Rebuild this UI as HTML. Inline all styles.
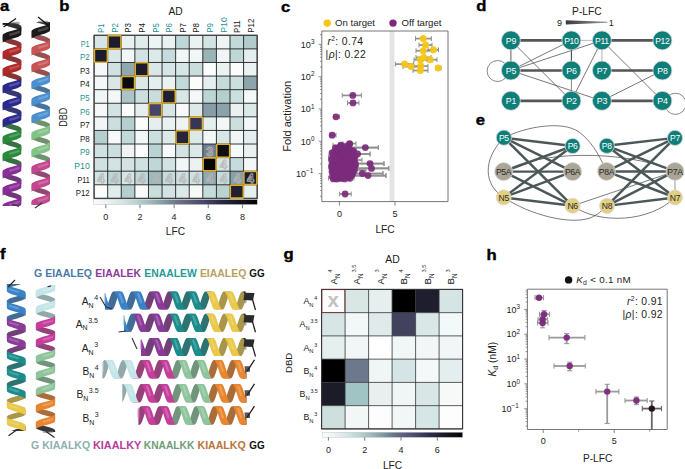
<!DOCTYPE html>
<html><head><meta charset="utf-8"><style>
html,body{margin:0;padding:0;background:#fff;width:685px;height:469px;overflow:hidden}
svg{display:block;font-family:"Liberation Sans", sans-serif}
</style></head><body>
<svg width="685" height="469" viewBox="0 0 685 469">
<text x="0" y="0" font-size="14.6" font-weight="bold" fill="#000" stroke="#000" stroke-width="0.35" transform="translate(0.10,11.10) scale(1.14,1)">a</text><text x="0" y="0" font-size="14.6" font-weight="bold" fill="#000" stroke="#000" stroke-width="0.35" transform="translate(59.30,11.10) scale(1.14,1)">b</text><text x="0" y="0" font-size="14.6" font-weight="bold" fill="#000" stroke="#000" stroke-width="0.35" transform="translate(281.10,11.70) scale(1.14,1)">c</text><text x="0" y="0" font-size="14.6" font-weight="bold" fill="#000" stroke="#000" stroke-width="0.35" transform="translate(476.20,11.00) scale(1.14,1)">d</text><text x="0" y="0" font-size="14.6" font-weight="bold" fill="#000" stroke="#000" stroke-width="0.35" transform="translate(475.80,125.30) scale(1.14,1)">e</text><text x="0" y="0" font-size="14.6" font-weight="bold" fill="#000" stroke="#000" stroke-width="0.35" transform="translate(0.10,259.30) scale(1.14,1)">f</text><text x="0" y="0" font-size="14.6" font-weight="bold" fill="#000" stroke="#000" stroke-width="0.35" transform="translate(283.60,259.30) scale(1.14,1)">g</text><text x="0" y="0" font-size="14.6" font-weight="bold" fill="#000" stroke="#000" stroke-width="0.35" transform="translate(486.50,259.70) scale(1.14,1)">h</text><path d="M2.70,23.00 L2.88,23.00 L3.41,23.00 L4.27,23.00 L5.42,23.00 L6.83,23.00 L8.44,23.00 L10.19,23.00 L12.00,23.00 L13.81,23.00 L15.56,23.31 L17.17,23.84 L18.58,24.37 L19.73,24.91 L20.59,25.44 L21.12,25.97 L21.30,26.50 L21.30,31.70 L21.12,31.17 L20.59,30.64 L19.73,30.11 L18.58,29.57 L17.17,29.04 L15.56,28.51 L13.81,27.98 L12.00,27.45 L10.19,26.92 L8.44,26.39 L6.83,25.86 L5.42,25.32 L4.27,24.79 L3.41,24.26 L2.88,23.73 L2.70,23.20Z" fill="#2e2e2e"/><path d="M2.70,35.00 L2.88,35.53 L3.41,36.06 L4.27,36.59 L5.42,37.13 L6.83,37.66 L8.44,38.19 L10.19,38.72 L12.00,39.25 L13.81,39.78 L15.56,40.31 L17.17,40.84 L18.58,41.38 L19.73,41.91 L20.59,42.44 L21.12,42.97 L21.30,43.50 L21.30,48.70 L21.12,48.17 L20.59,47.64 L19.73,47.11 L18.58,46.58 L17.17,46.04 L15.56,45.51 L13.81,44.98 L12.00,44.45 L10.19,43.92 L8.44,43.39 L6.83,42.86 L5.42,42.33 L4.27,41.79 L3.41,41.26 L2.88,40.73 L2.70,40.20Z" fill="#873636"/><path d="M2.70,52.00 L2.88,52.53 L3.41,53.06 L4.27,53.59 L5.42,54.12 L6.83,54.66 L8.44,55.19 L10.19,55.72 L12.00,56.25 L13.81,56.78 L15.56,57.31 L17.17,57.84 L18.58,58.38 L19.73,58.91 L20.59,59.44 L21.12,59.97 L21.30,60.50 L21.30,65.70 L21.12,65.17 L20.59,64.64 L19.73,64.11 L18.58,63.58 L17.17,63.04 L15.56,62.51 L13.81,61.98 L12.00,61.45 L10.19,60.92 L8.44,60.39 L6.83,59.86 L5.42,59.33 L4.27,58.79 L3.41,58.26 L2.88,57.73 L2.70,57.20Z" fill="#873636"/><path d="M2.70,69.00 L2.88,69.53 L3.41,70.06 L4.27,70.59 L5.42,71.12 L6.83,71.66 L8.44,72.19 L10.19,72.72 L12.00,73.25 L13.81,73.78 L15.56,74.31 L17.17,74.84 L18.58,75.38 L19.73,75.91 L20.59,76.44 L21.12,76.97 L21.30,77.50 L21.30,82.70 L21.12,82.17 L20.59,81.64 L19.73,81.11 L18.58,80.58 L17.17,80.04 L15.56,79.51 L13.81,78.98 L12.00,78.45 L10.19,77.92 L8.44,77.39 L6.83,76.86 L5.42,76.33 L4.27,75.79 L3.41,75.26 L2.88,74.73 L2.70,74.20Z" fill="#873636"/><path d="M2.70,86.00 L2.88,86.53 L3.41,87.06 L4.27,87.59 L5.42,88.12 L6.83,88.66 L8.44,89.19 L10.19,89.72 L12.00,90.25 L13.81,90.78 L15.56,91.31 L17.17,91.84 L18.58,92.37 L19.73,92.91 L20.59,93.44 L21.12,93.97 L21.30,94.50 L21.30,99.70 L21.12,99.17 L20.59,98.64 L19.73,98.11 L18.58,97.57 L17.17,97.04 L15.56,96.51 L13.81,95.98 L12.00,95.45 L10.19,94.92 L8.44,94.39 L6.83,93.86 L5.42,93.32 L4.27,92.79 L3.41,92.26 L2.88,91.73 L2.70,91.20Z" fill="#373773"/><path d="M2.70,103.00 L2.88,103.53 L3.41,104.06 L4.27,104.59 L5.42,105.13 L6.83,105.66 L8.44,106.19 L10.19,106.72 L12.00,107.25 L13.81,107.78 L15.56,108.31 L17.17,108.84 L18.58,109.38 L19.73,109.91 L20.59,110.44 L21.12,110.97 L21.30,111.50 L21.30,116.70 L21.12,116.17 L20.59,115.64 L19.73,115.11 L18.58,114.58 L17.17,114.04 L15.56,113.51 L13.81,112.98 L12.00,112.45 L10.19,111.92 L8.44,111.39 L6.83,110.86 L5.42,110.33 L4.27,109.79 L3.41,109.26 L2.88,108.73 L2.70,108.20Z" fill="#373773"/><path d="M2.70,120.00 L2.88,120.53 L3.41,121.06 L4.27,121.59 L5.42,122.12 L6.83,122.66 L8.44,123.19 L10.19,123.72 L12.00,124.25 L13.81,124.78 L15.56,125.31 L17.17,125.84 L18.58,126.37 L19.73,126.91 L20.59,127.44 L21.12,127.97 L21.30,128.50 L21.30,133.70 L21.12,133.17 L20.59,132.64 L19.73,132.11 L18.58,131.57 L17.17,131.04 L15.56,130.51 L13.81,129.98 L12.00,129.45 L10.19,128.92 L8.44,128.39 L6.83,127.86 L5.42,127.33 L4.27,126.79 L3.41,126.26 L2.88,125.73 L2.70,125.20Z" fill="#377042"/><path d="M2.70,137.00 L2.88,137.53 L3.41,138.06 L4.27,138.59 L5.42,139.12 L6.83,139.66 L8.44,140.19 L10.19,140.72 L12.00,141.25 L13.81,141.78 L15.56,142.31 L17.17,142.84 L18.58,143.38 L19.73,143.91 L20.59,144.44 L21.12,144.97 L21.30,145.50 L21.30,150.70 L21.12,150.17 L20.59,149.64 L19.73,149.11 L18.58,148.57 L17.17,148.04 L15.56,147.51 L13.81,146.98 L12.00,146.45 L10.19,145.92 L8.44,145.39 L6.83,144.86 L5.42,144.32 L4.27,143.79 L3.41,143.26 L2.88,142.73 L2.70,142.20Z" fill="#377042"/><path d="M2.70,154.00 L2.88,154.53 L3.41,155.06 L4.27,155.59 L5.42,156.12 L6.83,156.66 L8.44,157.19 L10.19,157.72 L12.00,158.25 L13.81,158.78 L15.56,159.31 L17.17,159.84 L18.58,160.38 L19.73,160.91 L20.59,161.44 L21.12,161.97 L21.30,162.50 L21.30,167.70 L21.12,167.17 L20.59,166.64 L19.73,166.11 L18.58,165.57 L17.17,165.04 L15.56,164.51 L13.81,163.98 L12.00,163.45 L10.19,162.92 L8.44,162.39 L6.83,161.86 L5.42,161.32 L4.27,160.79 L3.41,160.26 L2.88,159.73 L2.70,159.20Z" fill="#377042"/><path d="M2.70,171.00 L2.88,171.53 L3.41,172.06 L4.27,172.59 L5.42,173.12 L6.83,173.66 L8.44,174.19 L10.19,174.72 L12.00,175.25 L13.81,175.78 L15.56,176.31 L17.17,176.84 L18.58,177.38 L19.73,177.91 L20.59,178.44 L21.12,178.97 L21.30,179.50 L21.30,184.70 L21.12,184.17 L20.59,183.64 L19.73,183.11 L18.58,182.57 L17.17,182.04 L15.56,181.51 L13.81,180.98 L12.00,180.45 L10.19,179.92 L8.44,179.39 L6.83,178.86 L5.42,178.32 L4.27,177.79 L3.41,177.26 L2.88,176.73 L2.70,176.20Z" fill="#703879"/><path d="M2.70,188.00 L2.88,188.53 L3.41,189.06 L4.27,189.59 L5.42,190.12 L6.83,190.66 L8.44,191.19 L10.19,191.72 L12.00,192.25 L13.81,192.78 L15.56,193.31 L17.17,193.84 L18.58,194.38 L19.73,194.91 L20.59,195.44 L21.12,195.97 L21.30,196.50 L21.30,201.70 L21.12,201.17 L20.59,200.64 L19.73,200.11 L18.58,199.58 L17.17,199.04 L15.56,198.51 L13.81,197.98 L12.00,197.45 L10.19,196.92 L8.44,196.39 L6.83,195.86 L5.42,195.32 L4.27,194.79 L3.41,194.26 L2.88,193.73 L2.70,193.20Z" fill="#703879"/><path d="M2.70,205.00 L2.88,205.53 L3.41,206.00 L4.27,206.00 L5.42,206.00 L6.83,206.00 L8.44,206.00 L10.19,206.00 L12.00,206.00 L13.81,206.00 L15.56,206.00 L17.17,206.00 L18.58,206.00 L19.73,206.00 L20.59,206.00 L21.12,206.00 L21.30,206.00 L21.30,206.00 L21.12,206.00 L20.59,206.00 L19.73,206.00 L18.58,206.00 L17.17,206.00 L15.56,206.00 L13.81,206.00 L12.00,206.00 L10.19,206.00 L8.44,206.00 L6.83,206.00 L5.42,206.00 L4.27,206.00 L3.41,206.00 L2.88,206.00 L2.70,206.00Z" fill="#703879"/><path d="M21.30,23.00 L21.12,23.00 L20.59,23.00 L19.73,23.00 L18.58,23.00 L17.17,23.00 L15.56,23.00 L13.81,23.00 L12.00,23.00 L10.19,23.00 L8.44,23.00 L6.83,23.00 L5.42,23.00 L4.27,23.00 L3.41,23.00 L2.88,23.00 L2.70,23.00 L2.70,26.00 L2.88,25.47 L3.41,24.94 L4.27,24.41 L5.42,23.87 L6.83,23.34 L8.44,23.00 L10.19,23.00 L12.00,23.00 L13.81,23.00 L15.56,23.00 L17.17,23.00 L18.58,23.00 L19.73,23.00 L20.59,23.00 L21.12,23.00 L21.30,23.00Z" fill="#1b1b1b"/><polyline points="18.58,23.00 17.17,23.00 15.56,23.00 13.81,23.00 12.00,23.00 10.19,23.00" fill="none" stroke="#6b6b6b" stroke-opacity="0.55" stroke-width="2.40" stroke-linecap="round"/><path d="M21.30,26.50 L21.12,27.03 L20.59,27.56 L19.73,28.09 L18.58,28.63 L17.17,29.16 L15.56,29.69 L13.81,30.22 L12.00,30.75 L10.19,31.28 L8.44,31.81 L6.83,32.34 L5.42,32.88 L4.27,33.41 L3.41,33.94 L2.88,34.47 L2.70,35.00 L2.70,43.00 L2.88,42.47 L3.41,41.94 L4.27,41.41 L5.42,40.88 L6.83,40.34 L8.44,39.81 L10.19,39.28 L12.00,38.75 L13.81,38.22 L15.56,37.69 L17.17,37.16 L18.58,36.63 L19.73,36.09 L20.59,35.56 L21.12,35.03 L21.30,34.50Z" fill="#1b1b1b"/><polyline points="18.58,31.99 17.17,32.52 15.56,33.05 13.81,33.58 12.00,34.11 10.19,34.64" fill="none" stroke="#6b6b6b" stroke-opacity="0.55" stroke-width="2.40" stroke-linecap="round"/><path d="M21.30,43.50 L21.12,44.03 L20.59,44.56 L19.73,45.09 L18.58,45.63 L17.17,46.16 L15.56,46.69 L13.81,47.22 L12.00,47.75 L10.19,48.28 L8.44,48.81 L6.83,49.34 L5.42,49.88 L4.27,50.41 L3.41,50.94 L2.88,51.47 L2.70,52.00 L2.70,60.00 L2.88,59.47 L3.41,58.94 L4.27,58.41 L5.42,57.88 L6.83,57.34 L8.44,56.81 L10.19,56.28 L12.00,55.75 L13.81,55.22 L15.56,54.69 L17.17,54.16 L18.58,53.63 L19.73,53.09 L20.59,52.56 L21.12,52.03 L21.30,51.50Z" fill="#b02828"/><polyline points="18.58,48.99 17.17,49.52 15.56,50.05 13.81,50.58 12.00,51.11 10.19,51.64" fill="none" stroke="#cc7373" stroke-opacity="0.55" stroke-width="2.40" stroke-linecap="round"/><path d="M21.30,60.50 L21.12,61.03 L20.59,61.56 L19.73,62.09 L18.58,62.62 L17.17,63.16 L15.56,63.69 L13.81,64.22 L12.00,64.75 L10.19,65.28 L8.44,65.81 L6.83,66.34 L5.42,66.88 L4.27,67.41 L3.41,67.94 L2.88,68.47 L2.70,69.00 L2.70,77.00 L2.88,76.47 L3.41,75.94 L4.27,75.41 L5.42,74.88 L6.83,74.34 L8.44,73.81 L10.19,73.28 L12.00,72.75 L13.81,72.22 L15.56,71.69 L17.17,71.16 L18.58,70.62 L19.73,70.09 L20.59,69.56 L21.12,69.03 L21.30,68.50Z" fill="#b02828"/><polyline points="18.58,65.98 17.17,66.52 15.56,67.05 13.81,67.58 12.00,68.11 10.19,68.64" fill="none" stroke="#cc7373" stroke-opacity="0.55" stroke-width="2.40" stroke-linecap="round"/><path d="M21.30,77.50 L21.12,78.03 L20.59,78.56 L19.73,79.09 L18.58,79.62 L17.17,80.16 L15.56,80.69 L13.81,81.22 L12.00,81.75 L10.19,82.28 L8.44,82.81 L6.83,83.34 L5.42,83.88 L4.27,84.41 L3.41,84.94 L2.88,85.47 L2.70,86.00 L2.70,94.00 L2.88,93.47 L3.41,92.94 L4.27,92.41 L5.42,91.88 L6.83,91.34 L8.44,90.81 L10.19,90.28 L12.00,89.75 L13.81,89.22 L15.56,88.69 L17.17,88.16 L18.58,87.62 L19.73,87.09 L20.59,86.56 L21.12,86.03 L21.30,85.50Z" fill="#2a2a8e"/><polyline points="18.58,82.98 17.17,83.52 15.56,84.05 13.81,84.58 12.00,85.11 10.19,85.64" fill="none" stroke="#7575b6" stroke-opacity="0.55" stroke-width="2.40" stroke-linecap="round"/><path d="M21.30,94.50 L21.12,95.03 L20.59,95.56 L19.73,96.09 L18.58,96.62 L17.17,97.16 L15.56,97.69 L13.81,98.22 L12.00,98.75 L10.19,99.28 L8.44,99.81 L6.83,100.34 L5.42,100.88 L4.27,101.41 L3.41,101.94 L2.88,102.47 L2.70,103.00 L2.70,111.00 L2.88,110.47 L3.41,109.94 L4.27,109.41 L5.42,108.88 L6.83,108.34 L8.44,107.81 L10.19,107.28 L12.00,106.75 L13.81,106.22 L15.56,105.69 L17.17,105.16 L18.58,104.62 L19.73,104.09 L20.59,103.56 L21.12,103.03 L21.30,102.50Z" fill="#2a2a8e"/><polyline points="18.58,99.98 17.17,100.52 15.56,101.05 13.81,101.58 12.00,102.11 10.19,102.64" fill="none" stroke="#7575b6" stroke-opacity="0.55" stroke-width="2.40" stroke-linecap="round"/><path d="M21.30,111.50 L21.12,112.03 L20.59,112.56 L19.73,113.09 L18.58,113.62 L17.17,114.16 L15.56,114.69 L13.81,115.22 L12.00,115.75 L10.19,116.28 L8.44,116.81 L6.83,117.34 L5.42,117.88 L4.27,118.41 L3.41,118.94 L2.88,119.47 L2.70,120.00 L2.70,128.00 L2.88,127.47 L3.41,126.94 L4.27,126.41 L5.42,125.88 L6.83,125.34 L8.44,124.81 L10.19,124.28 L12.00,123.75 L13.81,123.22 L15.56,122.69 L17.17,122.16 L18.58,121.62 L19.73,121.09 L20.59,120.56 L21.12,120.03 L21.30,119.50Z" fill="#2a2a8e"/><polyline points="18.58,116.98 17.17,117.52 15.56,118.05 13.81,118.58 12.00,119.11 10.19,119.64" fill="none" stroke="#7575b6" stroke-opacity="0.55" stroke-width="2.40" stroke-linecap="round"/><path d="M21.30,128.50 L21.12,129.03 L20.59,129.56 L19.73,130.09 L18.58,130.62 L17.17,131.16 L15.56,131.69 L13.81,132.22 L12.00,132.75 L10.19,133.28 L8.44,133.81 L6.83,134.34 L5.42,134.88 L4.27,135.41 L3.41,135.94 L2.88,136.47 L2.70,137.00 L2.70,145.00 L2.88,144.47 L3.41,143.94 L4.27,143.41 L5.42,142.88 L6.83,142.34 L8.44,141.81 L10.19,141.28 L12.00,140.75 L13.81,140.22 L15.56,139.69 L17.17,139.16 L18.58,138.62 L19.73,138.09 L20.59,137.56 L21.12,137.03 L21.30,136.50Z" fill="#2a8a3c"/><polyline points="18.58,133.99 17.17,134.52 15.56,135.05 13.81,135.58 12.00,136.11 10.19,136.64" fill="none" stroke="#75b380" stroke-opacity="0.55" stroke-width="2.40" stroke-linecap="round"/><path d="M21.30,145.50 L21.12,146.03 L20.59,146.56 L19.73,147.09 L18.58,147.62 L17.17,148.16 L15.56,148.69 L13.81,149.22 L12.00,149.75 L10.19,150.28 L8.44,150.81 L6.83,151.34 L5.42,151.88 L4.27,152.41 L3.41,152.94 L2.88,153.47 L2.70,154.00 L2.70,162.00 L2.88,161.47 L3.41,160.94 L4.27,160.41 L5.42,159.88 L6.83,159.34 L8.44,158.81 L10.19,158.28 L12.00,157.75 L13.81,157.22 L15.56,156.69 L17.17,156.16 L18.58,155.62 L19.73,155.09 L20.59,154.56 L21.12,154.03 L21.30,153.50Z" fill="#2a8a3c"/><polyline points="18.58,150.99 17.17,151.52 15.56,152.05 13.81,152.58 12.00,153.11 10.19,153.64" fill="none" stroke="#75b380" stroke-opacity="0.55" stroke-width="2.40" stroke-linecap="round"/><path d="M21.30,162.50 L21.12,163.03 L20.59,163.56 L19.73,164.09 L18.58,164.62 L17.17,165.16 L15.56,165.69 L13.81,166.22 L12.00,166.75 L10.19,167.28 L8.44,167.81 L6.83,168.34 L5.42,168.88 L4.27,169.41 L3.41,169.94 L2.88,170.47 L2.70,171.00 L2.70,179.00 L2.88,178.47 L3.41,177.94 L4.27,177.41 L5.42,176.88 L6.83,176.34 L8.44,175.81 L10.19,175.28 L12.00,174.75 L13.81,174.22 L15.56,173.69 L17.17,173.16 L18.58,172.62 L19.73,172.09 L20.59,171.56 L21.12,171.03 L21.30,170.50Z" fill="#8a2c98"/><polyline points="18.58,167.99 17.17,168.52 15.56,169.05 13.81,169.58 12.00,170.11 10.19,170.64" fill="none" stroke="#b376bc" stroke-opacity="0.55" stroke-width="2.40" stroke-linecap="round"/><path d="M21.30,179.50 L21.12,180.03 L20.59,180.56 L19.73,181.09 L18.58,181.62 L17.17,182.16 L15.56,182.69 L13.81,183.22 L12.00,183.75 L10.19,184.28 L8.44,184.81 L6.83,185.34 L5.42,185.88 L4.27,186.41 L3.41,186.94 L2.88,187.47 L2.70,188.00 L2.70,196.00 L2.88,195.47 L3.41,194.94 L4.27,194.41 L5.42,193.88 L6.83,193.34 L8.44,192.81 L10.19,192.28 L12.00,191.75 L13.81,191.22 L15.56,190.69 L17.17,190.16 L18.58,189.62 L19.73,189.09 L20.59,188.56 L21.12,188.03 L21.30,187.50Z" fill="#8a2c98"/><polyline points="18.58,184.99 17.17,185.52 15.56,186.05 13.81,186.58 12.00,187.11 10.19,187.64" fill="none" stroke="#b376bc" stroke-opacity="0.55" stroke-width="2.40" stroke-linecap="round"/><path d="M21.30,196.50 L21.12,197.03 L20.59,197.56 L19.73,198.09 L18.58,198.62 L17.17,199.16 L15.56,199.69 L13.81,200.22 L12.00,200.75 L10.19,201.28 L8.44,201.81 L6.83,202.34 L5.42,202.88 L4.27,203.41 L3.41,203.94 L2.88,204.47 L2.70,205.00 L2.70,206.00 L2.88,206.00 L3.41,206.00 L4.27,206.00 L5.42,206.00 L6.83,206.00 L8.44,206.00 L10.19,206.00 L12.00,206.00 L13.81,206.00 L15.56,206.00 L17.17,206.00 L18.58,206.00 L19.73,206.00 L20.59,205.56 L21.12,205.03 L21.30,204.50Z" fill="#8a2c98"/><polyline points="18.58,201.99 17.17,202.52 15.56,203.05 13.81,203.58 12.00,204.11 10.19,204.64" fill="none" stroke="#b376bc" stroke-opacity="0.55" stroke-width="2.40" stroke-linecap="round"/><path d="M31.60,22.00 L31.78,22.00 L32.30,22.00 L33.15,22.00 L34.29,22.00 L35.69,22.00 L37.28,22.00 L39.01,22.00 L40.80,22.00 L42.59,22.00 L44.32,22.00 L45.91,22.00 L47.31,22.00 L48.45,22.00 L49.30,22.00 L49.82,22.00 L50.00,22.50 L50.00,27.70 L49.82,27.17 L49.30,26.64 L48.45,26.11 L47.31,25.57 L45.91,25.04 L44.32,24.51 L42.59,23.98 L40.80,23.45 L39.01,22.92 L37.28,22.39 L35.69,22.00 L34.29,22.00 L33.15,22.00 L32.30,22.00 L31.78,22.00 L31.60,22.00Z" fill="#2e2e2e"/><path d="M31.60,31.00 L31.78,31.53 L32.30,32.06 L33.15,32.59 L34.29,33.12 L35.69,33.66 L37.28,34.19 L39.01,34.72 L40.80,35.25 L42.59,35.78 L44.32,36.31 L45.91,36.84 L47.31,37.38 L48.45,37.91 L49.30,38.44 L49.82,38.97 L50.00,39.50 L50.00,44.70 L49.82,44.17 L49.30,43.64 L48.45,43.11 L47.31,42.58 L45.91,42.04 L44.32,41.51 L42.59,40.98 L40.80,40.45 L39.01,39.92 L37.28,39.39 L35.69,38.86 L34.29,38.33 L33.15,37.79 L32.30,37.26 L31.78,36.73 L31.60,36.20Z" fill="#965050"/><path d="M31.60,48.00 L31.78,48.53 L32.30,49.06 L33.15,49.59 L34.29,50.13 L35.69,50.66 L37.28,51.19 L39.01,51.72 L40.80,52.25 L42.59,52.78 L44.32,53.31 L45.91,53.84 L47.31,54.38 L48.45,54.91 L49.30,55.44 L49.82,55.97 L50.00,56.50 L50.00,61.70 L49.82,61.17 L49.30,60.64 L48.45,60.11 L47.31,59.58 L45.91,59.04 L44.32,58.51 L42.59,57.98 L40.80,57.45 L39.01,56.92 L37.28,56.39 L35.69,55.86 L34.29,55.33 L33.15,54.79 L32.30,54.26 L31.78,53.73 L31.60,53.20Z" fill="#965050"/><path d="M31.60,65.00 L31.78,65.53 L32.30,66.06 L33.15,66.59 L34.29,67.12 L35.69,67.66 L37.28,68.19 L39.01,68.72 L40.80,69.25 L42.59,69.78 L44.32,70.31 L45.91,70.84 L47.31,71.38 L48.45,71.91 L49.30,72.44 L49.82,72.97 L50.00,73.50 L50.00,78.70 L49.82,78.17 L49.30,77.64 L48.45,77.11 L47.31,76.58 L45.91,76.04 L44.32,75.51 L42.59,74.98 L40.80,74.45 L39.01,73.92 L37.28,73.39 L35.69,72.86 L34.29,72.33 L33.15,71.79 L32.30,71.26 L31.78,70.73 L31.60,70.20Z" fill="#965050"/><path d="M31.60,82.00 L31.78,82.53 L32.30,83.06 L33.15,83.59 L34.29,84.12 L35.69,84.66 L37.28,85.19 L39.01,85.72 L40.80,86.25 L42.59,86.78 L44.32,87.31 L45.91,87.84 L47.31,88.38 L48.45,88.91 L49.30,89.44 L49.82,89.97 L50.00,90.50 L50.00,95.70 L49.82,95.17 L49.30,94.64 L48.45,94.11 L47.31,93.58 L45.91,93.04 L44.32,92.51 L42.59,91.98 L40.80,91.45 L39.01,90.92 L37.28,90.39 L35.69,89.86 L34.29,89.33 L33.15,88.79 L32.30,88.26 L31.78,87.73 L31.60,87.20Z" fill="#4a739a"/><path d="M31.60,99.00 L31.78,99.53 L32.30,100.06 L33.15,100.59 L34.29,101.12 L35.69,101.66 L37.28,102.19 L39.01,102.72 L40.80,103.25 L42.59,103.78 L44.32,104.31 L45.91,104.84 L47.31,105.37 L48.45,105.91 L49.30,106.44 L49.82,106.97 L50.00,107.50 L50.00,112.70 L49.82,112.17 L49.30,111.64 L48.45,111.11 L47.31,110.57 L45.91,110.04 L44.32,109.51 L42.59,108.98 L40.80,108.45 L39.01,107.92 L37.28,107.39 L35.69,106.86 L34.29,106.32 L33.15,105.79 L32.30,105.26 L31.78,104.73 L31.60,104.20Z" fill="#4a739a"/><path d="M31.60,116.00 L31.78,116.53 L32.30,117.06 L33.15,117.59 L34.29,118.13 L35.69,118.66 L37.28,119.19 L39.01,119.72 L40.80,120.25 L42.59,120.78 L44.32,121.31 L45.91,121.84 L47.31,122.38 L48.45,122.91 L49.30,123.44 L49.82,123.97 L50.00,124.50 L50.00,129.70 L49.82,129.17 L49.30,128.64 L48.45,128.11 L47.31,127.58 L45.91,127.04 L44.32,126.51 L42.59,125.98 L40.80,125.45 L39.01,124.92 L37.28,124.39 L35.69,123.86 L34.29,123.33 L33.15,122.79 L32.30,122.26 L31.78,121.73 L31.60,121.20Z" fill="#6d936f"/><path d="M31.60,133.00 L31.78,133.53 L32.30,134.06 L33.15,134.59 L34.29,135.12 L35.69,135.66 L37.28,136.19 L39.01,136.72 L40.80,137.25 L42.59,137.78 L44.32,138.31 L45.91,138.84 L47.31,139.37 L48.45,139.91 L49.30,140.44 L49.82,140.97 L50.00,141.50 L50.00,146.70 L49.82,146.17 L49.30,145.64 L48.45,145.11 L47.31,144.57 L45.91,144.04 L44.32,143.51 L42.59,142.98 L40.80,142.45 L39.01,141.92 L37.28,141.39 L35.69,140.86 L34.29,140.32 L33.15,139.79 L32.30,139.26 L31.78,138.73 L31.60,138.20Z" fill="#6d936f"/><path d="M31.60,150.00 L31.78,150.53 L32.30,151.06 L33.15,151.59 L34.29,152.12 L35.69,152.66 L37.28,153.19 L39.01,153.72 L40.80,154.25 L42.59,154.78 L44.32,155.31 L45.91,155.84 L47.31,156.38 L48.45,156.91 L49.30,157.44 L49.82,157.97 L50.00,158.50 L50.00,163.70 L49.82,163.17 L49.30,162.64 L48.45,162.11 L47.31,161.57 L45.91,161.04 L44.32,160.51 L42.59,159.98 L40.80,159.45 L39.01,158.92 L37.28,158.39 L35.69,157.86 L34.29,157.32 L33.15,156.79 L32.30,156.26 L31.78,155.73 L31.60,155.20Z" fill="#6d936f"/><path d="M31.60,167.00 L31.78,167.53 L32.30,168.06 L33.15,168.59 L34.29,169.12 L35.69,169.66 L37.28,170.19 L39.01,170.72 L40.80,171.25 L42.59,171.78 L44.32,172.31 L45.91,172.84 L47.31,173.38 L48.45,173.91 L49.30,174.44 L49.82,174.97 L50.00,175.50 L50.00,180.70 L49.82,180.17 L49.30,179.64 L48.45,179.11 L47.31,178.57 L45.91,178.04 L44.32,177.51 L42.59,176.98 L40.80,176.45 L39.01,175.92 L37.28,175.39 L35.69,174.86 L34.29,174.32 L33.15,173.79 L32.30,173.26 L31.78,172.73 L31.60,172.20Z" fill="#924873"/><path d="M31.60,184.00 L31.78,184.53 L32.30,185.06 L33.15,185.59 L34.29,186.12 L35.69,186.66 L37.28,187.19 L39.01,187.72 L40.80,188.25 L42.59,188.78 L44.32,189.31 L45.91,189.84 L47.31,190.38 L48.45,190.91 L49.30,191.44 L49.82,191.97 L50.00,192.50 L50.00,197.70 L49.82,197.17 L49.30,196.64 L48.45,196.11 L47.31,195.57 L45.91,195.04 L44.32,194.51 L42.59,193.98 L40.80,193.45 L39.01,192.92 L37.28,192.39 L35.69,191.86 L34.29,191.32 L33.15,190.79 L32.30,190.26 L31.78,189.73 L31.60,189.20Z" fill="#924873"/><path d="M31.60,201.00 L31.78,201.53 L32.30,202.06 L33.15,202.59 L34.29,203.12 L35.69,203.66 L37.28,204.19 L39.01,204.72 L40.80,205.00 L42.59,205.00 L44.32,205.00 L45.91,205.00 L47.31,205.00 L48.45,205.00 L49.30,205.00 L49.82,205.00 L50.00,205.00 L50.00,205.00 L49.82,205.00 L49.30,205.00 L48.45,205.00 L47.31,205.00 L45.91,205.00 L44.32,205.00 L42.59,205.00 L40.80,205.00 L39.01,205.00 L37.28,205.00 L35.69,205.00 L34.29,205.00 L33.15,205.00 L32.30,205.00 L31.78,205.00 L31.60,205.00Z" fill="#924873"/><path d="M50.00,22.00 L49.82,22.00 L49.30,22.00 L48.45,22.00 L47.31,22.00 L45.91,22.00 L44.32,22.00 L42.59,22.00 L40.80,22.00 L39.01,22.00 L37.28,22.00 L35.69,22.00 L34.29,22.00 L33.15,22.00 L32.30,22.00 L31.78,22.00 L31.60,22.00 L31.60,22.00 L31.78,22.00 L32.30,22.00 L33.15,22.00 L34.29,22.00 L35.69,22.00 L37.28,22.00 L39.01,22.00 L40.80,22.00 L42.59,22.00 L44.32,22.00 L45.91,22.00 L47.31,22.00 L48.45,22.00 L49.30,22.00 L49.82,22.00 L50.00,22.00Z" fill="#1b1b1b"/><polyline points="47.31,22.00 45.91,22.00 44.32,22.00 42.59,22.00 40.80,22.00 39.01,22.00" fill="none" stroke="#6b6b6b" stroke-opacity="0.55" stroke-width="2.40" stroke-linecap="round"/><path d="M50.00,22.50 L49.82,23.03 L49.30,23.56 L48.45,24.09 L47.31,24.62 L45.91,25.16 L44.32,25.69 L42.59,26.22 L40.80,26.75 L39.01,27.28 L37.28,27.81 L35.69,28.34 L34.29,28.87 L33.15,29.41 L32.30,29.94 L31.78,30.47 L31.60,31.00 L31.60,39.00 L31.78,38.47 L32.30,37.94 L33.15,37.41 L34.29,36.88 L35.69,36.34 L37.28,35.81 L39.01,35.28 L40.80,34.75 L42.59,34.22 L44.32,33.69 L45.91,33.16 L47.31,32.62 L48.45,32.09 L49.30,31.56 L49.82,31.03 L50.00,30.50Z" fill="#1b1b1b"/><polyline points="47.31,27.98 45.91,28.52 44.32,29.05 42.59,29.58 40.80,30.11 39.01,30.64" fill="none" stroke="#6b6b6b" stroke-opacity="0.55" stroke-width="2.40" stroke-linecap="round"/><path d="M50.00,39.50 L49.82,40.03 L49.30,40.56 L48.45,41.09 L47.31,41.63 L45.91,42.16 L44.32,42.69 L42.59,43.22 L40.80,43.75 L39.01,44.28 L37.28,44.81 L35.69,45.34 L34.29,45.88 L33.15,46.41 L32.30,46.94 L31.78,47.47 L31.60,48.00 L31.60,56.00 L31.78,55.47 L32.30,54.94 L33.15,54.41 L34.29,53.88 L35.69,53.34 L37.28,52.81 L39.01,52.28 L40.80,51.75 L42.59,51.22 L44.32,50.69 L45.91,50.16 L47.31,49.63 L48.45,49.09 L49.30,48.56 L49.82,48.03 L50.00,47.50Z" fill="#c85454"/><polyline points="47.31,44.99 45.91,45.52 44.32,46.05 42.59,46.58 40.80,47.11 39.01,47.64" fill="none" stroke="#db9090" stroke-opacity="0.55" stroke-width="2.40" stroke-linecap="round"/><path d="M50.00,56.50 L49.82,57.03 L49.30,57.56 L48.45,58.09 L47.31,58.63 L45.91,59.16 L44.32,59.69 L42.59,60.22 L40.80,60.75 L39.01,61.28 L37.28,61.81 L35.69,62.34 L34.29,62.88 L33.15,63.41 L32.30,63.94 L31.78,64.47 L31.60,65.00 L31.60,73.00 L31.78,72.47 L32.30,71.94 L33.15,71.41 L34.29,70.88 L35.69,70.34 L37.28,69.81 L39.01,69.28 L40.80,68.75 L42.59,68.22 L44.32,67.69 L45.91,67.16 L47.31,66.62 L48.45,66.09 L49.30,65.56 L49.82,65.03 L50.00,64.50Z" fill="#c85454"/><polyline points="47.31,61.99 45.91,62.52 44.32,63.05 42.59,63.58 40.80,64.11 39.01,64.64" fill="none" stroke="#db9090" stroke-opacity="0.55" stroke-width="2.40" stroke-linecap="round"/><path d="M50.00,73.50 L49.82,74.03 L49.30,74.56 L48.45,75.09 L47.31,75.62 L45.91,76.16 L44.32,76.69 L42.59,77.22 L40.80,77.75 L39.01,78.28 L37.28,78.81 L35.69,79.34 L34.29,79.88 L33.15,80.41 L32.30,80.94 L31.78,81.47 L31.60,82.00 L31.60,90.00 L31.78,89.47 L32.30,88.94 L33.15,88.41 L34.29,87.88 L35.69,87.34 L37.28,86.81 L39.01,86.28 L40.80,85.75 L42.59,85.22 L44.32,84.69 L45.91,84.16 L47.31,83.62 L48.45,83.09 L49.30,82.56 L49.82,82.03 L50.00,81.50Z" fill="#4a8fd0"/><polyline points="47.31,78.98 45.91,79.52 44.32,80.05 42.59,80.58 40.80,81.11 39.01,81.64" fill="none" stroke="#89b6e0" stroke-opacity="0.55" stroke-width="2.40" stroke-linecap="round"/><path d="M50.00,90.50 L49.82,91.03 L49.30,91.56 L48.45,92.09 L47.31,92.62 L45.91,93.16 L44.32,93.69 L42.59,94.22 L40.80,94.75 L39.01,95.28 L37.28,95.81 L35.69,96.34 L34.29,96.88 L33.15,97.41 L32.30,97.94 L31.78,98.47 L31.60,99.00 L31.60,107.00 L31.78,106.47 L32.30,105.94 L33.15,105.41 L34.29,104.88 L35.69,104.34 L37.28,103.81 L39.01,103.28 L40.80,102.75 L42.59,102.22 L44.32,101.69 L45.91,101.16 L47.31,100.62 L48.45,100.09 L49.30,99.56 L49.82,99.03 L50.00,98.50Z" fill="#4a8fd0"/><polyline points="47.31,95.98 45.91,96.52 44.32,97.05 42.59,97.58 40.80,98.11 39.01,98.64" fill="none" stroke="#89b6e0" stroke-opacity="0.55" stroke-width="2.40" stroke-linecap="round"/><path d="M50.00,107.50 L49.82,108.03 L49.30,108.56 L48.45,109.09 L47.31,109.62 L45.91,110.16 L44.32,110.69 L42.59,111.22 L40.80,111.75 L39.01,112.28 L37.28,112.81 L35.69,113.34 L34.29,113.88 L33.15,114.41 L32.30,114.94 L31.78,115.47 L31.60,116.00 L31.60,124.00 L31.78,123.47 L32.30,122.94 L33.15,122.41 L34.29,121.88 L35.69,121.34 L37.28,120.81 L39.01,120.28 L40.80,119.75 L42.59,119.22 L44.32,118.69 L45.91,118.16 L47.31,117.62 L48.45,117.09 L49.30,116.56 L49.82,116.03 L50.00,115.50Z" fill="#4a8fd0"/><polyline points="47.31,112.98 45.91,113.52 44.32,114.05 42.59,114.58 40.80,115.11 39.01,115.64" fill="none" stroke="#89b6e0" stroke-opacity="0.55" stroke-width="2.40" stroke-linecap="round"/><path d="M50.00,124.50 L49.82,125.03 L49.30,125.56 L48.45,126.09 L47.31,126.62 L45.91,127.16 L44.32,127.69 L42.59,128.22 L40.80,128.75 L39.01,129.28 L37.28,129.81 L35.69,130.34 L34.29,130.88 L33.15,131.41 L32.30,131.94 L31.78,132.47 L31.60,133.00 L31.60,141.00 L31.78,140.47 L32.30,139.94 L33.15,139.41 L34.29,138.88 L35.69,138.34 L37.28,137.81 L39.01,137.28 L40.80,136.75 L42.59,136.22 L44.32,135.69 L45.91,135.16 L47.31,134.62 L48.45,134.09 L49.30,133.56 L49.82,133.03 L50.00,132.50Z" fill="#84c388"/><polyline points="47.31,129.99 45.91,130.52 44.32,131.05 42.59,131.58 40.80,132.11 39.01,132.64" fill="none" stroke="#afd8b2" stroke-opacity="0.55" stroke-width="2.40" stroke-linecap="round"/><path d="M50.00,141.50 L49.82,142.03 L49.30,142.56 L48.45,143.09 L47.31,143.62 L45.91,144.16 L44.32,144.69 L42.59,145.22 L40.80,145.75 L39.01,146.28 L37.28,146.81 L35.69,147.34 L34.29,147.88 L33.15,148.41 L32.30,148.94 L31.78,149.47 L31.60,150.00 L31.60,158.00 L31.78,157.47 L32.30,156.94 L33.15,156.41 L34.29,155.88 L35.69,155.34 L37.28,154.81 L39.01,154.28 L40.80,153.75 L42.59,153.22 L44.32,152.69 L45.91,152.16 L47.31,151.62 L48.45,151.09 L49.30,150.56 L49.82,150.03 L50.00,149.50Z" fill="#84c388"/><polyline points="47.31,146.99 45.91,147.52 44.32,148.05 42.59,148.58 40.80,149.11 39.01,149.64" fill="none" stroke="#afd8b2" stroke-opacity="0.55" stroke-width="2.40" stroke-linecap="round"/><path d="M50.00,158.50 L49.82,159.03 L49.30,159.56 L48.45,160.09 L47.31,160.62 L45.91,161.16 L44.32,161.69 L42.59,162.22 L40.80,162.75 L39.01,163.28 L37.28,163.81 L35.69,164.34 L34.29,164.88 L33.15,165.41 L32.30,165.94 L31.78,166.47 L31.60,167.00 L31.60,175.00 L31.78,174.47 L32.30,173.94 L33.15,173.41 L34.29,172.88 L35.69,172.34 L37.28,171.81 L39.01,171.28 L40.80,170.75 L42.59,170.22 L44.32,169.69 L45.91,169.16 L47.31,168.62 L48.45,168.09 L49.30,167.56 L49.82,167.03 L50.00,166.50Z" fill="#c2478f"/><polyline points="47.31,163.99 45.91,164.52 44.32,165.05 42.59,165.58 40.80,166.11 39.01,166.64" fill="none" stroke="#d787b6" stroke-opacity="0.55" stroke-width="2.40" stroke-linecap="round"/><path d="M50.00,175.50 L49.82,176.03 L49.30,176.56 L48.45,177.09 L47.31,177.62 L45.91,178.16 L44.32,178.69 L42.59,179.22 L40.80,179.75 L39.01,180.28 L37.28,180.81 L35.69,181.34 L34.29,181.88 L33.15,182.41 L32.30,182.94 L31.78,183.47 L31.60,184.00 L31.60,192.00 L31.78,191.47 L32.30,190.94 L33.15,190.41 L34.29,189.88 L35.69,189.34 L37.28,188.81 L39.01,188.28 L40.80,187.75 L42.59,187.22 L44.32,186.69 L45.91,186.16 L47.31,185.62 L48.45,185.09 L49.30,184.56 L49.82,184.03 L50.00,183.50Z" fill="#c2478f"/><polyline points="47.31,180.99 45.91,181.52 44.32,182.05 42.59,182.58 40.80,183.11 39.01,183.64" fill="none" stroke="#d787b6" stroke-opacity="0.55" stroke-width="2.40" stroke-linecap="round"/><path d="M50.00,192.50 L49.82,193.03 L49.30,193.56 L48.45,194.09 L47.31,194.62 L45.91,195.16 L44.32,195.69 L42.59,196.22 L40.80,196.75 L39.01,197.28 L37.28,197.81 L35.69,198.34 L34.29,198.88 L33.15,199.41 L32.30,199.94 L31.78,200.47 L31.60,201.00 L31.60,205.00 L31.78,205.00 L32.30,205.00 L33.15,205.00 L34.29,205.00 L35.69,205.00 L37.28,205.00 L39.01,205.00 L40.80,204.75 L42.59,204.22 L44.32,203.69 L45.91,203.16 L47.31,202.62 L48.45,202.09 L49.30,201.56 L49.82,201.03 L50.00,200.50Z" fill="#c2478f"/><polyline points="47.31,197.99 45.91,198.52 44.32,199.05 42.59,199.58 40.80,200.11 39.01,200.64" fill="none" stroke="#d787b6" stroke-opacity="0.55" stroke-width="2.40" stroke-linecap="round"/><path d="M3.5,27 L16,18.5" stroke="#111" stroke-width="1.2" fill="none"/><path d="M38,17 L48,25" stroke="#111" stroke-width="1.2" fill="none"/><path d="M12,204 L19,206.5" stroke="#333" stroke-width="1.2" fill="none"/><path d="M35,208 L42,203" stroke="#333" stroke-width="1.2" fill="none"/><rect x="94.10" y="35.30" width="13.64" height="13.64" fill="#d6e5e5"/><rect x="107.69" y="35.30" width="13.64" height="13.64" fill="#1c1c2c"/><rect x="121.28" y="35.30" width="13.64" height="13.64" fill="#e9f1f1"/><rect x="134.87" y="35.30" width="13.64" height="13.64" fill="#e1ecec"/><rect x="148.46" y="35.30" width="13.64" height="13.64" fill="#eef4f4"/><rect x="162.05" y="35.30" width="13.64" height="13.64" fill="#ebf2f2"/><rect x="175.64" y="35.30" width="13.64" height="13.64" fill="#bfd7d7"/><rect x="189.23" y="35.30" width="13.64" height="13.64" fill="#ebf2f2"/><rect x="202.82" y="35.30" width="13.64" height="13.64" fill="#d3e3e3"/><rect x="216.41" y="35.30" width="13.64" height="13.64" fill="#eef4f4"/><rect x="230.00" y="35.30" width="13.64" height="13.64" fill="#c2d9d9"/><rect x="243.59" y="35.30" width="13.64" height="13.64" fill="#b2cccc"/><rect x="94.10" y="48.89" width="13.64" height="13.64" fill="#1c1c2c"/><rect x="107.69" y="48.89" width="13.64" height="13.64" fill="#d9e7e7"/><rect x="121.28" y="48.89" width="13.64" height="13.64" fill="#f1f6f6"/><rect x="134.87" y="48.89" width="13.64" height="13.64" fill="#d3e3e3"/><rect x="148.46" y="48.89" width="13.64" height="13.64" fill="#dce9e9"/><rect x="162.05" y="48.89" width="13.64" height="13.64" fill="#c6dbdb"/><rect x="175.64" y="48.89" width="13.64" height="13.64" fill="#f0f5f5"/><rect x="189.23" y="48.89" width="13.64" height="13.64" fill="#f1f6f6"/><rect x="202.82" y="48.89" width="13.64" height="13.64" fill="#9ab5b8"/><rect x="216.41" y="48.89" width="13.64" height="13.64" fill="#f0f5f5"/><rect x="230.00" y="48.89" width="13.64" height="13.64" fill="#bfd7d7"/><rect x="243.59" y="48.89" width="13.64" height="13.64" fill="#e4eeee"/><rect x="94.10" y="62.48" width="13.64" height="13.64" fill="#f4f8f8"/><rect x="107.69" y="62.48" width="13.64" height="13.64" fill="#cfe1e1"/><rect x="121.28" y="62.48" width="13.64" height="13.64" fill="#90a9af"/><rect x="134.87" y="62.48" width="13.64" height="13.64" fill="#1c1c2c"/><rect x="148.46" y="62.48" width="13.64" height="13.64" fill="#d9e7e7"/><rect x="162.05" y="62.48" width="13.64" height="13.64" fill="#d6e5e5"/><rect x="175.64" y="62.48" width="13.64" height="13.64" fill="#d6e5e5"/><rect x="189.23" y="62.48" width="13.64" height="13.64" fill="#c9dddd"/><rect x="202.82" y="62.48" width="13.64" height="13.64" fill="#fbfcfc"/><rect x="216.41" y="62.48" width="13.64" height="13.64" fill="#ebf2f2"/><rect x="230.00" y="62.48" width="13.64" height="13.64" fill="#fbfcfc"/><rect x="243.59" y="62.48" width="13.64" height="13.64" fill="#ebf2f2"/><rect x="94.10" y="76.07" width="13.64" height="13.64" fill="#f3f7f7"/><rect x="107.69" y="76.07" width="13.64" height="13.64" fill="#d9e7e7"/><rect x="121.28" y="76.07" width="13.64" height="13.64" fill="#0a0a0f"/><rect x="134.87" y="76.07" width="13.64" height="13.64" fill="#dce9e9"/><rect x="148.46" y="76.07" width="13.64" height="13.64" fill="#e6efef"/><rect x="162.05" y="76.07" width="13.64" height="13.64" fill="#ebf2f2"/><rect x="175.64" y="76.07" width="13.64" height="13.64" fill="#c2d9d9"/><rect x="189.23" y="76.07" width="13.64" height="13.64" fill="#fbfcfc"/><rect x="202.82" y="76.07" width="13.64" height="13.64" fill="#e6efef"/><rect x="216.41" y="76.07" width="13.64" height="13.64" fill="#c6dbdb"/><rect x="230.00" y="76.07" width="13.64" height="13.64" fill="#ccdfdf"/><rect x="243.59" y="76.07" width="13.64" height="13.64" fill="#8ca4ac"/><rect x="94.10" y="89.66" width="13.64" height="13.64" fill="#f0f5f5"/><rect x="107.69" y="89.66" width="13.64" height="13.64" fill="#f3f7f7"/><rect x="121.28" y="89.66" width="13.64" height="13.64" fill="#abc5c7"/><rect x="134.87" y="89.66" width="13.64" height="13.64" fill="#ccdfdf"/><rect x="148.46" y="89.66" width="13.64" height="13.64" fill="#c9dddd"/><rect x="162.05" y="89.66" width="13.64" height="13.64" fill="#202033"/><rect x="175.64" y="89.66" width="13.64" height="13.64" fill="#d9e7e7"/><rect x="189.23" y="89.66" width="13.64" height="13.64" fill="#f4f8f8"/><rect x="202.82" y="89.66" width="13.64" height="13.64" fill="#bcd5d5"/><rect x="216.41" y="89.66" width="13.64" height="13.64" fill="#b5cfcf"/><rect x="230.00" y="89.66" width="13.64" height="13.64" fill="#ccdfdf"/><rect x="243.59" y="89.66" width="13.64" height="13.64" fill="#f4f8f8"/><rect x="94.10" y="103.25" width="13.64" height="13.64" fill="#f4f8f8"/><rect x="107.69" y="103.25" width="13.64" height="13.64" fill="#d3e3e3"/><rect x="121.28" y="103.25" width="13.64" height="13.64" fill="#fbfcfc"/><rect x="134.87" y="103.25" width="13.64" height="13.64" fill="#e6efef"/><rect x="148.46" y="103.25" width="13.64" height="13.64" fill="#45446a"/><rect x="162.05" y="103.25" width="13.64" height="13.64" fill="#d6e5e5"/><rect x="175.64" y="103.25" width="13.64" height="13.64" fill="#f8fafa"/><rect x="189.23" y="103.25" width="13.64" height="13.64" fill="#deeaea"/><rect x="202.82" y="103.25" width="13.64" height="13.64" fill="#869ca6"/><rect x="216.41" y="103.25" width="13.64" height="13.64" fill="#8ba2aa"/><rect x="230.00" y="103.25" width="13.64" height="13.64" fill="#e9f1f1"/><rect x="243.59" y="103.25" width="13.64" height="13.64" fill="#dce9e9"/><rect x="94.10" y="116.84" width="13.64" height="13.64" fill="#f0f5f5"/><rect x="107.69" y="116.84" width="13.64" height="13.64" fill="#ccdfdf"/><rect x="121.28" y="116.84" width="13.64" height="13.64" fill="#b5cfcf"/><rect x="134.87" y="116.84" width="13.64" height="13.64" fill="#fbfcfc"/><rect x="148.46" y="116.84" width="13.64" height="13.64" fill="#e6efef"/><rect x="162.05" y="116.84" width="13.64" height="13.64" fill="#e9f1f1"/><rect x="175.64" y="116.84" width="13.64" height="13.64" fill="#eef4f4"/><rect x="189.23" y="116.84" width="13.64" height="13.64" fill="#373655"/><rect x="202.82" y="116.84" width="13.64" height="13.64" fill="#e4eeee"/><rect x="216.41" y="116.84" width="13.64" height="13.64" fill="#f3f7f7"/><rect x="230.00" y="116.84" width="13.64" height="13.64" fill="#ccdfdf"/><rect x="243.59" y="116.84" width="13.64" height="13.64" fill="#f3f7f7"/><rect x="94.10" y="130.43" width="13.64" height="13.64" fill="#b5cfcf"/><rect x="107.69" y="130.43" width="13.64" height="13.64" fill="#f8fafa"/><rect x="121.28" y="130.43" width="13.64" height="13.64" fill="#c2d9d9"/><rect x="134.87" y="130.43" width="13.64" height="13.64" fill="#f3f7f7"/><rect x="148.46" y="130.43" width="13.64" height="13.64" fill="#ccdfdf"/><rect x="162.05" y="130.43" width="13.64" height="13.64" fill="#deeaea"/><rect x="175.64" y="130.43" width="13.64" height="13.64" fill="#26253c"/><rect x="189.23" y="130.43" width="13.64" height="13.64" fill="#dce9e9"/><rect x="202.82" y="130.43" width="13.64" height="13.64" fill="#f3f7f7"/><rect x="216.41" y="130.43" width="13.64" height="13.64" fill="#d6e5e5"/><rect x="230.00" y="130.43" width="13.64" height="13.64" fill="#f0f5f5"/><rect x="243.59" y="130.43" width="13.64" height="13.64" fill="#e4eeee"/><rect x="94.10" y="144.02" width="13.64" height="13.64" fill="#cfe1e1"/><rect x="107.69" y="144.02" width="13.64" height="13.64" fill="#ccdfdf"/><rect x="121.28" y="144.02" width="13.64" height="13.64" fill="#eef4f4"/><rect x="134.87" y="144.02" width="13.64" height="13.64" fill="#fbfcfc"/><rect x="148.46" y="144.02" width="13.64" height="13.64" fill="#b9d2d2"/><rect x="162.05" y="144.02" width="13.64" height="13.64" fill="#f8fafa"/><rect x="175.64" y="144.02" width="13.64" height="13.64" fill="#d3e3e3"/><rect x="189.23" y="144.02" width="13.64" height="13.64" fill="#dce9e9"/><rect x="202.82" y="144.02" width="13.64" height="13.64" fill="#728092"/><rect x="216.41" y="144.02" width="13.64" height="13.64" fill="#0e0e15"/><rect x="230.00" y="144.02" width="13.64" height="13.64" fill="#f6f9f9"/><rect x="243.59" y="144.02" width="13.64" height="13.64" fill="#e9f1f1"/><rect x="94.10" y="157.61" width="13.64" height="13.64" fill="#cfe1e1"/><rect x="107.69" y="157.61" width="13.64" height="13.64" fill="#d3e3e3"/><rect x="121.28" y="157.61" width="13.64" height="13.64" fill="#d3e3e3"/><rect x="134.87" y="157.61" width="13.64" height="13.64" fill="#cfe1e1"/><rect x="148.46" y="157.61" width="13.64" height="13.64" fill="#bfd7d7"/><rect x="162.05" y="157.61" width="13.64" height="13.64" fill="#d3e3e3"/><rect x="175.64" y="157.61" width="13.64" height="13.64" fill="#f1f6f6"/><rect x="189.23" y="157.61" width="13.64" height="13.64" fill="#ebf2f2"/><rect x="202.82" y="157.61" width="13.64" height="13.64" fill="#060607"/><rect x="216.41" y="157.61" width="13.64" height="13.64" fill="#d6e5e5"/><rect x="230.00" y="157.61" width="13.64" height="13.64" fill="#c6dbdb"/><rect x="243.59" y="157.61" width="13.64" height="13.64" fill="#f3f7f7"/><rect x="94.10" y="171.20" width="13.64" height="13.64" fill="#d3e3e3"/><rect x="107.69" y="171.20" width="13.64" height="13.64" fill="#bcd5d5"/><rect x="121.28" y="171.20" width="13.64" height="13.64" fill="#d6e5e5"/><rect x="134.87" y="171.20" width="13.64" height="13.64" fill="#bfd7d7"/><rect x="148.46" y="171.20" width="13.64" height="13.64" fill="#9db9bb"/><rect x="162.05" y="171.20" width="13.64" height="13.64" fill="#c6dbdb"/><rect x="175.64" y="171.20" width="13.64" height="13.64" fill="#ccdfdf"/><rect x="189.23" y="171.20" width="13.64" height="13.64" fill="#cfe1e1"/><rect x="202.82" y="171.20" width="13.64" height="13.64" fill="#90a9af"/><rect x="216.41" y="171.20" width="13.64" height="13.64" fill="#c6dbdb"/><rect x="230.00" y="171.20" width="13.64" height="13.64" fill="#89a0a9"/><rect x="243.59" y="171.20" width="13.64" height="13.64" fill="#1c1c2c"/><rect x="94.10" y="184.79" width="13.64" height="13.64" fill="#fbfcfc"/><rect x="107.69" y="184.79" width="13.64" height="13.64" fill="#e1ecec"/><rect x="121.28" y="184.79" width="13.64" height="13.64" fill="#b5cfcf"/><rect x="134.87" y="184.79" width="13.64" height="13.64" fill="#f9fbfb"/><rect x="148.46" y="184.79" width="13.64" height="13.64" fill="#c9dddd"/><rect x="162.05" y="184.79" width="13.64" height="13.64" fill="#d3e3e3"/><rect x="175.64" y="184.79" width="13.64" height="13.64" fill="#dce9e9"/><rect x="189.23" y="184.79" width="13.64" height="13.64" fill="#f8fafa"/><rect x="202.82" y="184.79" width="13.64" height="13.64" fill="#c6dbdb"/><rect x="216.41" y="184.79" width="13.64" height="13.64" fill="#b9d2d2"/><rect x="230.00" y="184.79" width="13.64" height="13.64" fill="#202033"/><rect x="243.59" y="184.79" width="13.64" height="13.64" fill="#e6efef"/><line x1="94.10" y1="35.30" x2="94.10" y2="198.38" stroke="#1e1e1e" stroke-width="0.9"/><line x1="94.10" y1="35.30" x2="257.18" y2="35.30" stroke="#1e1e1e" stroke-width="0.9"/><line x1="107.69" y1="35.30" x2="107.69" y2="198.38" stroke="#1e1e1e" stroke-width="0.9"/><line x1="94.10" y1="48.89" x2="257.18" y2="48.89" stroke="#1e1e1e" stroke-width="0.9"/><line x1="121.28" y1="35.30" x2="121.28" y2="198.38" stroke="#1e1e1e" stroke-width="0.9"/><line x1="94.10" y1="62.48" x2="257.18" y2="62.48" stroke="#1e1e1e" stroke-width="0.9"/><line x1="134.87" y1="35.30" x2="134.87" y2="198.38" stroke="#1e1e1e" stroke-width="0.9"/><line x1="94.10" y1="76.07" x2="257.18" y2="76.07" stroke="#1e1e1e" stroke-width="0.9"/><line x1="148.46" y1="35.30" x2="148.46" y2="198.38" stroke="#1e1e1e" stroke-width="0.9"/><line x1="94.10" y1="89.66" x2="257.18" y2="89.66" stroke="#1e1e1e" stroke-width="0.9"/><line x1="162.05" y1="35.30" x2="162.05" y2="198.38" stroke="#1e1e1e" stroke-width="0.9"/><line x1="94.10" y1="103.25" x2="257.18" y2="103.25" stroke="#1e1e1e" stroke-width="0.9"/><line x1="175.64" y1="35.30" x2="175.64" y2="198.38" stroke="#1e1e1e" stroke-width="0.9"/><line x1="94.10" y1="116.84" x2="257.18" y2="116.84" stroke="#1e1e1e" stroke-width="0.9"/><line x1="189.23" y1="35.30" x2="189.23" y2="198.38" stroke="#1e1e1e" stroke-width="0.9"/><line x1="94.10" y1="130.43" x2="257.18" y2="130.43" stroke="#1e1e1e" stroke-width="0.9"/><line x1="202.82" y1="35.30" x2="202.82" y2="198.38" stroke="#1e1e1e" stroke-width="0.9"/><line x1="94.10" y1="144.02" x2="257.18" y2="144.02" stroke="#1e1e1e" stroke-width="0.9"/><line x1="216.41" y1="35.30" x2="216.41" y2="198.38" stroke="#1e1e1e" stroke-width="0.9"/><line x1="94.10" y1="157.61" x2="257.18" y2="157.61" stroke="#1e1e1e" stroke-width="0.9"/><line x1="230.00" y1="35.30" x2="230.00" y2="198.38" stroke="#1e1e1e" stroke-width="0.9"/><line x1="94.10" y1="171.20" x2="257.18" y2="171.20" stroke="#1e1e1e" stroke-width="0.9"/><line x1="243.59" y1="35.30" x2="243.59" y2="198.38" stroke="#1e1e1e" stroke-width="0.9"/><line x1="94.10" y1="184.79" x2="257.18" y2="184.79" stroke="#1e1e1e" stroke-width="0.9"/><line x1="257.18" y1="35.30" x2="257.18" y2="198.38" stroke="#1e1e1e" stroke-width="0.9"/><line x1="94.10" y1="198.38" x2="257.18" y2="198.38" stroke="#1e1e1e" stroke-width="0.9"/><rect x="94.10" y="35.30" width="163.08" height="163.08" fill="none" stroke="#444" stroke-width="1.1"/><text x="101.09" y="182.99" font-size="12.6" font-weight="bold" text-anchor="middle" fill="none" stroke="#b6b6b6" stroke-width="0.8">4</text><text x="114.69" y="182.99" font-size="12.6" font-weight="bold" text-anchor="middle" fill="none" stroke="#b6b6b6" stroke-width="0.8">4</text><text x="128.27" y="182.99" font-size="12.6" font-weight="bold" text-anchor="middle" fill="none" stroke="#b6b6b6" stroke-width="0.8">4</text><text x="141.86" y="182.99" font-size="12.6" font-weight="bold" text-anchor="middle" fill="none" stroke="#b6b6b6" stroke-width="0.8">4</text><text x="155.45" y="182.99" font-size="12.6" font-weight="bold" text-anchor="middle" fill="none" stroke="#b6b6b6" stroke-width="0.8">4</text><text x="169.04" y="182.99" font-size="12.6" font-weight="bold" text-anchor="middle" fill="none" stroke="#b6b6b6" stroke-width="0.8">4</text><text x="182.63" y="182.99" font-size="12.6" font-weight="bold" text-anchor="middle" fill="none" stroke="#b6b6b6" stroke-width="0.8">4</text><text x="196.22" y="182.99" font-size="12.6" font-weight="bold" text-anchor="middle" fill="none" stroke="#b6b6b6" stroke-width="0.8">4</text><text x="209.81" y="182.99" font-size="12.6" font-weight="bold" text-anchor="middle" fill="none" stroke="#b6b6b6" stroke-width="0.8">4</text><text x="223.40" y="182.99" font-size="12.6" font-weight="bold" text-anchor="middle" fill="none" stroke="#b6b6b6" stroke-width="0.8">4</text><text x="236.99" y="182.99" font-size="12.6" font-weight="bold" text-anchor="middle" fill="none" stroke="#b6b6b6" stroke-width="0.8">4</text><text x="250.58" y="182.99" font-size="12.6" font-weight="bold" text-anchor="middle" fill="none" stroke="#b6b6b6" stroke-width="0.8">4</text><text x="223.40" y="169.41" font-size="12.6" font-weight="bold" text-anchor="middle" fill="none" stroke="#b6b6b6" stroke-width="0.8">4</text><text x="209.81" y="155.81" font-size="12.6" font-weight="bold" text-anchor="middle" fill="none" stroke="#b6b6b6" stroke-width="0.8">3</text><rect x="107.99" y="35.60" width="12.99" height="12.99" rx="0.8" fill="none" stroke="#dcae30" stroke-width="1.6"/><rect x="94.40" y="49.19" width="12.99" height="12.99" rx="0.8" fill="none" stroke="#dcae30" stroke-width="1.6"/><rect x="135.17" y="62.78" width="12.99" height="12.99" rx="0.8" fill="none" stroke="#dcae30" stroke-width="1.6"/><rect x="121.58" y="76.37" width="12.99" height="12.99" rx="0.8" fill="none" stroke="#dcae30" stroke-width="1.6"/><rect x="162.35" y="89.96" width="12.99" height="12.99" rx="0.8" fill="none" stroke="#dcae30" stroke-width="1.6"/><rect x="148.76" y="103.55" width="12.99" height="12.99" rx="0.8" fill="none" stroke="#dcae30" stroke-width="1.6"/><rect x="189.53" y="117.14" width="12.99" height="12.99" rx="0.8" fill="none" stroke="#dcae30" stroke-width="1.6"/><rect x="175.94" y="130.73" width="12.99" height="12.99" rx="0.8" fill="none" stroke="#dcae30" stroke-width="1.6"/><rect x="216.71" y="144.32" width="12.99" height="12.99" rx="0.8" fill="none" stroke="#dcae30" stroke-width="1.6"/><rect x="203.12" y="157.91" width="12.99" height="12.99" rx="0.8" fill="none" stroke="#dcae30" stroke-width="1.6"/><rect x="243.89" y="171.50" width="12.99" height="12.99" rx="0.8" fill="none" stroke="#dcae30" stroke-width="1.6"/><rect x="230.30" y="185.09" width="12.99" height="12.99" rx="0.8" fill="none" stroke="#dcae30" stroke-width="1.6"/><text x="0" y="0" font-size="9.4" fill="#1f9192" textLength="9.0" lengthAdjust="spacingAndGlyphs" transform="translate(104.30,32.7) rotate(-90)">P1</text><text x="0" y="0" font-size="9.4" fill="#1f9192" textLength="9.7" lengthAdjust="spacingAndGlyphs" transform="translate(117.89,32.7) rotate(-90)">P2</text><text x="0" y="0" font-size="9.4" fill="#1a1a1a" textLength="9.7" lengthAdjust="spacingAndGlyphs" transform="translate(131.47,32.7) rotate(-90)">P3</text><text x="0" y="0" font-size="9.4" fill="#1a1a1a" textLength="9.7" lengthAdjust="spacingAndGlyphs" transform="translate(145.06,32.7) rotate(-90)">P4</text><text x="0" y="0" font-size="9.4" fill="#1f9192" textLength="9.7" lengthAdjust="spacingAndGlyphs" transform="translate(158.65,32.7) rotate(-90)">P5</text><text x="0" y="0" font-size="9.4" fill="#1f9192" textLength="9.7" lengthAdjust="spacingAndGlyphs" transform="translate(172.25,32.7) rotate(-90)">P6</text><text x="0" y="0" font-size="9.4" fill="#1a1a1a" textLength="9.7" lengthAdjust="spacingAndGlyphs" transform="translate(185.83,32.7) rotate(-90)">P7</text><text x="0" y="0" font-size="9.4" fill="#1a1a1a" textLength="9.7" lengthAdjust="spacingAndGlyphs" transform="translate(199.42,32.7) rotate(-90)">P8</text><text x="0" y="0" font-size="9.4" fill="#1f9192" textLength="9.7" lengthAdjust="spacingAndGlyphs" transform="translate(213.01,32.7) rotate(-90)">P9</text><text x="0" y="0" font-size="9.4" fill="#1f9192" textLength="15.4" lengthAdjust="spacingAndGlyphs" transform="translate(226.60,32.7) rotate(-90)">P10</text><text x="0" y="0" font-size="9.4" fill="#1a1a1a" textLength="12.2" lengthAdjust="spacingAndGlyphs" transform="translate(240.19,32.7) rotate(-90)">P11</text><text x="0" y="0" font-size="9.4" fill="#1a1a1a" textLength="14.0" lengthAdjust="spacingAndGlyphs" transform="translate(253.78,32.7) rotate(-90)">P12</text><text x="80.70" y="46.70" font-size="9.5" fill="#1f9192" textLength="9.0" lengthAdjust="spacingAndGlyphs">P1</text><text x="80.00" y="60.29" font-size="9.5" fill="#1f9192" textLength="9.7" lengthAdjust="spacingAndGlyphs">P2</text><text x="80.00" y="73.87" font-size="9.5" fill="#1a1a1a" textLength="9.7" lengthAdjust="spacingAndGlyphs">P3</text><text x="80.00" y="87.46" font-size="9.5" fill="#1a1a1a" textLength="9.7" lengthAdjust="spacingAndGlyphs">P4</text><text x="80.00" y="101.05" font-size="9.5" fill="#1f9192" textLength="9.7" lengthAdjust="spacingAndGlyphs">P5</text><text x="80.00" y="114.64" font-size="9.5" fill="#1f9192" textLength="9.7" lengthAdjust="spacingAndGlyphs">P6</text><text x="80.00" y="128.23" font-size="9.5" fill="#1a1a1a" textLength="9.7" lengthAdjust="spacingAndGlyphs">P7</text><text x="80.00" y="141.82" font-size="9.5" fill="#1a1a1a" textLength="9.7" lengthAdjust="spacingAndGlyphs">P8</text><text x="80.00" y="155.41" font-size="9.5" fill="#1f9192" textLength="9.7" lengthAdjust="spacingAndGlyphs">P9</text><text x="74.30" y="169.00" font-size="9.5" fill="#1f9192" textLength="15.4" lengthAdjust="spacingAndGlyphs">P10</text><text x="77.50" y="182.59" font-size="9.5" fill="#1a1a1a" textLength="12.2" lengthAdjust="spacingAndGlyphs">P11</text><text x="75.70" y="196.19" font-size="9.5" fill="#1a1a1a" textLength="14.0" lengthAdjust="spacingAndGlyphs">P12</text><text x="175.60" y="14.60" font-size="10.2" text-anchor="middle" fill="#1a1a1a" font-weight="normal" >AD</text><text x="0" y="0" font-size="10.2" fill="#1a1a1a" text-anchor="middle" textLength="19" lengthAdjust="spacingAndGlyphs" transform="translate(67.2,117.2) rotate(-90)">DBD</text><defs><linearGradient id="cbB" x1="0" x2="1" y1="0" y2="0"><stop offset="0.000" stop-color="#fbfcfc"/><stop offset="0.077" stop-color="#eef4f4"/><stop offset="0.160" stop-color="#d9e7e7"/><stop offset="0.254" stop-color="#bcd5d5"/><stop offset="0.348" stop-color="#9db9bb"/><stop offset="0.442" stop-color="#7f94a0"/><stop offset="0.504" stop-color="#6c768b"/><stop offset="0.588" stop-color="#5a5d7c"/><stop offset="0.681" stop-color="#45446a"/><stop offset="0.775" stop-color="#2c2b45"/><stop offset="0.900" stop-color="#141420"/><stop offset="1.000" stop-color="#040404"/></linearGradient></defs><rect x="93.2" y="199.6" width="164.0" height="4.900000000000006" fill="url(#cbB)" stroke="#bbb" stroke-width="0.4"/><line x1="105.80" y1="204.5" x2="105.80" y2="208.2" stroke="#555" stroke-width="0.8"/><text x="105.80" y="219.60" font-size="9.0" text-anchor="middle" fill="#222" font-weight="normal" >0</text><line x1="139.96" y1="204.5" x2="139.96" y2="208.2" stroke="#555" stroke-width="0.8"/><text x="139.96" y="219.60" font-size="9.0" text-anchor="middle" fill="#222" font-weight="normal" >2</text><line x1="174.12" y1="204.5" x2="174.12" y2="208.2" stroke="#555" stroke-width="0.8"/><text x="174.12" y="219.60" font-size="9.0" text-anchor="middle" fill="#222" font-weight="normal" >4</text><line x1="208.28" y1="204.5" x2="208.28" y2="208.2" stroke="#555" stroke-width="0.8"/><text x="208.28" y="219.60" font-size="9.0" text-anchor="middle" fill="#222" font-weight="normal" >6</text><line x1="242.44" y1="204.5" x2="242.44" y2="208.2" stroke="#555" stroke-width="0.8"/><text x="242.44" y="219.60" font-size="9.0" text-anchor="middle" fill="#222" font-weight="normal" >8</text><text x="175.40" y="235.30" font-size="10.2" text-anchor="middle" fill="#222" font-weight="normal" >LFC</text><rect x="389.6" y="31.0" width="4.8" height="170.6" fill="#e3e3e3"/><path d="M321.8,31.0 L448.0,31.0 L448.0,201.6 L321.8,201.6 Z" fill="none" stroke="#777" stroke-width="1.0"/><line x1="320.00" y1="196.18" x2="321.8" y2="196.18" stroke="#666" stroke-width="0.7"/><line x1="320.00" y1="190.49" x2="321.8" y2="190.49" stroke="#666" stroke-width="0.7"/><line x1="320.00" y1="186.45" x2="321.8" y2="186.45" stroke="#666" stroke-width="0.7"/><line x1="320.00" y1="183.32" x2="321.8" y2="183.32" stroke="#666" stroke-width="0.7"/><line x1="320.00" y1="180.77" x2="321.8" y2="180.77" stroke="#666" stroke-width="0.7"/><line x1="320.00" y1="178.60" x2="321.8" y2="178.60" stroke="#666" stroke-width="0.7"/><line x1="320.00" y1="176.73" x2="321.8" y2="176.73" stroke="#666" stroke-width="0.7"/><line x1="320.00" y1="175.08" x2="321.8" y2="175.08" stroke="#666" stroke-width="0.7"/><line x1="318.60" y1="173.60" x2="321.8" y2="173.60" stroke="#666" stroke-width="0.7"/><line x1="320.00" y1="163.88" x2="321.8" y2="163.88" stroke="#666" stroke-width="0.7"/><line x1="320.00" y1="158.19" x2="321.8" y2="158.19" stroke="#666" stroke-width="0.7"/><line x1="320.00" y1="154.15" x2="321.8" y2="154.15" stroke="#666" stroke-width="0.7"/><line x1="320.00" y1="151.02" x2="321.8" y2="151.02" stroke="#666" stroke-width="0.7"/><line x1="320.00" y1="148.47" x2="321.8" y2="148.47" stroke="#666" stroke-width="0.7"/><line x1="320.00" y1="146.30" x2="321.8" y2="146.30" stroke="#666" stroke-width="0.7"/><line x1="320.00" y1="144.43" x2="321.8" y2="144.43" stroke="#666" stroke-width="0.7"/><line x1="320.00" y1="142.78" x2="321.8" y2="142.78" stroke="#666" stroke-width="0.7"/><line x1="318.60" y1="141.30" x2="321.8" y2="141.30" stroke="#666" stroke-width="0.7"/><line x1="320.00" y1="131.58" x2="321.8" y2="131.58" stroke="#666" stroke-width="0.7"/><line x1="320.00" y1="125.89" x2="321.8" y2="125.89" stroke="#666" stroke-width="0.7"/><line x1="320.00" y1="121.85" x2="321.8" y2="121.85" stroke="#666" stroke-width="0.7"/><line x1="320.00" y1="118.72" x2="321.8" y2="118.72" stroke="#666" stroke-width="0.7"/><line x1="320.00" y1="116.17" x2="321.8" y2="116.17" stroke="#666" stroke-width="0.7"/><line x1="320.00" y1="114.00" x2="321.8" y2="114.00" stroke="#666" stroke-width="0.7"/><line x1="320.00" y1="112.13" x2="321.8" y2="112.13" stroke="#666" stroke-width="0.7"/><line x1="320.00" y1="110.48" x2="321.8" y2="110.48" stroke="#666" stroke-width="0.7"/><line x1="318.60" y1="109.00" x2="321.8" y2="109.00" stroke="#666" stroke-width="0.7"/><line x1="320.00" y1="99.28" x2="321.8" y2="99.28" stroke="#666" stroke-width="0.7"/><line x1="320.00" y1="93.59" x2="321.8" y2="93.59" stroke="#666" stroke-width="0.7"/><line x1="320.00" y1="89.55" x2="321.8" y2="89.55" stroke="#666" stroke-width="0.7"/><line x1="320.00" y1="86.42" x2="321.8" y2="86.42" stroke="#666" stroke-width="0.7"/><line x1="320.00" y1="83.87" x2="321.8" y2="83.87" stroke="#666" stroke-width="0.7"/><line x1="320.00" y1="81.70" x2="321.8" y2="81.70" stroke="#666" stroke-width="0.7"/><line x1="320.00" y1="79.83" x2="321.8" y2="79.83" stroke="#666" stroke-width="0.7"/><line x1="320.00" y1="78.18" x2="321.8" y2="78.18" stroke="#666" stroke-width="0.7"/><line x1="318.60" y1="76.70" x2="321.8" y2="76.70" stroke="#666" stroke-width="0.7"/><line x1="320.00" y1="66.98" x2="321.8" y2="66.98" stroke="#666" stroke-width="0.7"/><line x1="320.00" y1="61.29" x2="321.8" y2="61.29" stroke="#666" stroke-width="0.7"/><line x1="320.00" y1="57.25" x2="321.8" y2="57.25" stroke="#666" stroke-width="0.7"/><line x1="320.00" y1="54.12" x2="321.8" y2="54.12" stroke="#666" stroke-width="0.7"/><line x1="320.00" y1="51.57" x2="321.8" y2="51.57" stroke="#666" stroke-width="0.7"/><line x1="320.00" y1="49.40" x2="321.8" y2="49.40" stroke="#666" stroke-width="0.7"/><line x1="320.00" y1="47.53" x2="321.8" y2="47.53" stroke="#666" stroke-width="0.7"/><line x1="320.00" y1="45.88" x2="321.8" y2="45.88" stroke="#666" stroke-width="0.7"/><line x1="318.60" y1="44.40" x2="321.8" y2="44.40" stroke="#666" stroke-width="0.7"/><line x1="320.00" y1="34.68" x2="321.8" y2="34.68" stroke="#666" stroke-width="0.7"/><text x="314.40" y="47.60" font-size="9.0" text-anchor="end" fill="#222" font-weight="normal" >10<tspan font-size="6.3" dy="-3.5">3</tspan></text><text x="314.40" y="79.90" font-size="9.0" text-anchor="end" fill="#222" font-weight="normal" >10<tspan font-size="6.3" dy="-3.5">2</tspan></text><text x="314.40" y="112.20" font-size="9.0" text-anchor="end" fill="#222" font-weight="normal" >10<tspan font-size="6.3" dy="-3.5">1</tspan></text><text x="314.40" y="144.50" font-size="9.0" text-anchor="end" fill="#222" font-weight="normal" >10<tspan font-size="6.3" dy="-3.5">0</tspan></text><text x="313.20" y="176.80" font-size="9.0" text-anchor="end" fill="#222" font-weight="normal" >10<tspan font-size="6.3" dy="-3.5">&#8722;1</tspan></text><line x1="339.40" y1="201.6" x2="339.40" y2="205.6" stroke="#666" stroke-width="0.8"/><text x="339.40" y="216.70" font-size="9.0" text-anchor="middle" fill="#222" font-weight="normal" >0</text><line x1="395.00" y1="201.6" x2="395.00" y2="205.6" stroke="#666" stroke-width="0.8"/><text x="395.00" y="216.70" font-size="9.0" text-anchor="middle" fill="#222" font-weight="normal" >5</text><text x="385.00" y="232.80" font-size="10.2" text-anchor="middle" fill="#222" font-weight="normal" >LFC</text><text x="0" y="0" font-size="11" fill="#222" text-anchor="middle" transform="translate(291.2,116.3) rotate(-90)">Fold activation</text><text x="327.4" y="44.8" font-size="10.4" fill="#222" letter-spacing="0.35"><tspan font-style="italic">r</tspan><tspan font-size="6.8" dy="-3.9">2</tspan><tspan dy="3.9">: 0.74</tspan></text><text x="325.6" y="57.6" font-size="10.4" fill="#222" letter-spacing="0.35">|<tspan font-style="italic">ρ</tspan>|: 0.22</text><circle cx="327.2" cy="23.1" r="3.7" fill="#f6c515"/><text x="335.00" y="26.30" font-size="9.6" text-anchor="start" fill="#222" font-weight="normal" >On target</text><circle cx="393.0" cy="23.1" r="3.7" fill="#7b2a7c"/><text x="401.60" y="26.30" font-size="9.6" text-anchor="start" fill="#222" font-weight="normal" >Off target</text><line x1="350.00" y1="147.60" x2="378.40" y2="147.60" stroke="#8f8f8f" stroke-width="1.7"/><line x1="350.00" y1="145.20" x2="350.00" y2="150.00" stroke="#8f8f8f" stroke-width="1.0"/><line x1="378.40" y1="145.20" x2="378.40" y2="150.00" stroke="#8f8f8f" stroke-width="1.0"/><line x1="345.00" y1="154.00" x2="370.00" y2="154.00" stroke="#8f8f8f" stroke-width="1.7"/><line x1="345.00" y1="151.60" x2="345.00" y2="156.40" stroke="#8f8f8f" stroke-width="1.0"/><line x1="370.00" y1="151.60" x2="370.00" y2="156.40" stroke="#8f8f8f" stroke-width="1.0"/><line x1="352.00" y1="163.60" x2="384.00" y2="163.60" stroke="#8f8f8f" stroke-width="1.7"/><line x1="352.00" y1="161.20" x2="352.00" y2="166.00" stroke="#8f8f8f" stroke-width="1.0"/><line x1="384.00" y1="161.20" x2="384.00" y2="166.00" stroke="#8f8f8f" stroke-width="1.0"/><line x1="352.00" y1="168.40" x2="388.80" y2="168.40" stroke="#8f8f8f" stroke-width="1.7"/><line x1="352.00" y1="166.00" x2="352.00" y2="170.80" stroke="#8f8f8f" stroke-width="1.0"/><line x1="388.80" y1="166.00" x2="388.80" y2="170.80" stroke="#8f8f8f" stroke-width="1.0"/><line x1="348.00" y1="173.50" x2="383.00" y2="173.50" stroke="#8f8f8f" stroke-width="1.7"/><line x1="348.00" y1="171.10" x2="348.00" y2="175.90" stroke="#8f8f8f" stroke-width="1.0"/><line x1="383.00" y1="171.10" x2="383.00" y2="175.90" stroke="#8f8f8f" stroke-width="1.0"/><line x1="350.00" y1="175.60" x2="386.00" y2="175.60" stroke="#8f8f8f" stroke-width="1.7"/><line x1="350.00" y1="173.20" x2="350.00" y2="178.00" stroke="#8f8f8f" stroke-width="1.0"/><line x1="386.00" y1="173.20" x2="386.00" y2="178.00" stroke="#8f8f8f" stroke-width="1.0"/><line x1="340.00" y1="160.00" x2="362.00" y2="160.00" stroke="#8f8f8f" stroke-width="1.7"/><line x1="340.00" y1="157.60" x2="340.00" y2="162.40" stroke="#8f8f8f" stroke-width="1.0"/><line x1="362.00" y1="157.60" x2="362.00" y2="162.40" stroke="#8f8f8f" stroke-width="1.0"/><line x1="330.00" y1="170.00" x2="366.00" y2="170.00" stroke="#8f8f8f" stroke-width="1.7"/><line x1="330.00" y1="167.60" x2="330.00" y2="172.40" stroke="#8f8f8f" stroke-width="1.0"/><line x1="366.00" y1="167.60" x2="366.00" y2="172.40" stroke="#8f8f8f" stroke-width="1.0"/><line x1="328.50" y1="178.00" x2="354.00" y2="178.00" stroke="#8f8f8f" stroke-width="1.7"/><line x1="328.50" y1="175.60" x2="328.50" y2="180.40" stroke="#8f8f8f" stroke-width="1.0"/><line x1="354.00" y1="175.60" x2="354.00" y2="180.40" stroke="#8f8f8f" stroke-width="1.0"/><line x1="334.00" y1="150.00" x2="356.00" y2="150.00" stroke="#8f8f8f" stroke-width="1.7"/><line x1="334.00" y1="147.60" x2="334.00" y2="152.40" stroke="#8f8f8f" stroke-width="1.0"/><line x1="356.00" y1="147.60" x2="356.00" y2="152.40" stroke="#8f8f8f" stroke-width="1.0"/><line x1="328.50" y1="157.00" x2="350.00" y2="157.00" stroke="#8f8f8f" stroke-width="1.7"/><line x1="328.50" y1="154.60" x2="328.50" y2="159.40" stroke="#8f8f8f" stroke-width="1.0"/><line x1="350.00" y1="154.60" x2="350.00" y2="159.40" stroke="#8f8f8f" stroke-width="1.0"/><line x1="329.00" y1="165.00" x2="358.00" y2="165.00" stroke="#8f8f8f" stroke-width="1.7"/><line x1="329.00" y1="162.60" x2="329.00" y2="167.40" stroke="#8f8f8f" stroke-width="1.0"/><line x1="358.00" y1="162.60" x2="358.00" y2="167.40" stroke="#8f8f8f" stroke-width="1.0"/><line x1="415.50" y1="38.60" x2="431.40" y2="38.60" stroke="#8f8f8f" stroke-width="1.7"/><line x1="415.50" y1="36.20" x2="415.50" y2="41.00" stroke="#8f8f8f" stroke-width="1.0"/><line x1="431.40" y1="36.20" x2="431.40" y2="41.00" stroke="#8f8f8f" stroke-width="1.0"/><line x1="419.00" y1="45.00" x2="432.00" y2="45.00" stroke="#8f8f8f" stroke-width="1.7"/><line x1="419.00" y1="42.60" x2="419.00" y2="47.40" stroke="#8f8f8f" stroke-width="1.0"/><line x1="432.00" y1="42.60" x2="432.00" y2="47.40" stroke="#8f8f8f" stroke-width="1.0"/><line x1="416.00" y1="50.70" x2="432.00" y2="50.70" stroke="#8f8f8f" stroke-width="1.7"/><line x1="416.00" y1="48.30" x2="416.00" y2="53.10" stroke="#8f8f8f" stroke-width="1.0"/><line x1="432.00" y1="48.30" x2="432.00" y2="53.10" stroke="#8f8f8f" stroke-width="1.0"/><line x1="428.00" y1="49.80" x2="438.50" y2="49.80" stroke="#8f8f8f" stroke-width="1.7"/><line x1="428.00" y1="47.40" x2="428.00" y2="52.20" stroke="#8f8f8f" stroke-width="1.0"/><line x1="438.50" y1="47.40" x2="438.50" y2="52.20" stroke="#8f8f8f" stroke-width="1.0"/><line x1="416.00" y1="57.40" x2="431.00" y2="57.40" stroke="#8f8f8f" stroke-width="1.7"/><line x1="416.00" y1="55.00" x2="416.00" y2="59.80" stroke="#8f8f8f" stroke-width="1.0"/><line x1="431.00" y1="55.00" x2="431.00" y2="59.80" stroke="#8f8f8f" stroke-width="1.0"/><line x1="414.00" y1="59.70" x2="427.00" y2="59.70" stroke="#8f8f8f" stroke-width="1.7"/><line x1="414.00" y1="57.30" x2="414.00" y2="62.10" stroke="#8f8f8f" stroke-width="1.0"/><line x1="427.00" y1="57.30" x2="427.00" y2="62.10" stroke="#8f8f8f" stroke-width="1.0"/><line x1="423.00" y1="59.70" x2="437.00" y2="59.70" stroke="#8f8f8f" stroke-width="1.7"/><line x1="423.00" y1="57.30" x2="423.00" y2="62.10" stroke="#8f8f8f" stroke-width="1.0"/><line x1="437.00" y1="57.30" x2="437.00" y2="62.10" stroke="#8f8f8f" stroke-width="1.0"/><line x1="395.40" y1="64.10" x2="413.60" y2="64.10" stroke="#8f8f8f" stroke-width="1.7"/><line x1="395.40" y1="61.70" x2="395.40" y2="66.50" stroke="#8f8f8f" stroke-width="1.0"/><line x1="413.60" y1="61.70" x2="413.60" y2="66.50" stroke="#8f8f8f" stroke-width="1.0"/><line x1="403.00" y1="66.60" x2="419.00" y2="66.60" stroke="#8f8f8f" stroke-width="1.7"/><line x1="403.00" y1="64.20" x2="403.00" y2="69.00" stroke="#8f8f8f" stroke-width="1.0"/><line x1="419.00" y1="64.20" x2="419.00" y2="69.00" stroke="#8f8f8f" stroke-width="1.0"/><line x1="414.00" y1="66.10" x2="428.00" y2="66.10" stroke="#8f8f8f" stroke-width="1.7"/><line x1="414.00" y1="63.70" x2="414.00" y2="68.50" stroke="#8f8f8f" stroke-width="1.0"/><line x1="428.00" y1="63.70" x2="428.00" y2="68.50" stroke="#8f8f8f" stroke-width="1.0"/><line x1="413.00" y1="70.50" x2="428.00" y2="70.50" stroke="#8f8f8f" stroke-width="1.7"/><line x1="413.00" y1="68.10" x2="413.00" y2="72.90" stroke="#8f8f8f" stroke-width="1.0"/><line x1="428.00" y1="68.10" x2="428.00" y2="72.90" stroke="#8f8f8f" stroke-width="1.0"/><line x1="436.00" y1="68.00" x2="441.00" y2="68.00" stroke="#8f8f8f" stroke-width="1.7"/><line x1="436.00" y1="65.60" x2="436.00" y2="70.40" stroke="#8f8f8f" stroke-width="1.0"/><line x1="441.00" y1="65.60" x2="441.00" y2="70.40" stroke="#8f8f8f" stroke-width="1.0"/><line x1="342.20" y1="95.40" x2="361.40" y2="95.40" stroke="#8f8f8f" stroke-width="1.7"/><line x1="342.20" y1="93.00" x2="342.20" y2="97.80" stroke="#8f8f8f" stroke-width="1.0"/><line x1="361.40" y1="93.00" x2="361.40" y2="97.80" stroke="#8f8f8f" stroke-width="1.0"/><line x1="347.50" y1="102.90" x2="359.00" y2="102.90" stroke="#8f8f8f" stroke-width="1.7"/><line x1="347.50" y1="100.50" x2="347.50" y2="105.30" stroke="#8f8f8f" stroke-width="1.0"/><line x1="359.00" y1="100.50" x2="359.00" y2="105.30" stroke="#8f8f8f" stroke-width="1.0"/><line x1="333.50" y1="116.80" x2="339.50" y2="116.80" stroke="#8f8f8f" stroke-width="1.7"/><line x1="333.50" y1="114.40" x2="333.50" y2="119.20" stroke="#8f8f8f" stroke-width="1.0"/><line x1="339.50" y1="114.40" x2="339.50" y2="119.20" stroke="#8f8f8f" stroke-width="1.0"/><line x1="329.80" y1="135.20" x2="336.00" y2="135.20" stroke="#8f8f8f" stroke-width="1.7"/><line x1="329.80" y1="132.80" x2="329.80" y2="137.60" stroke="#8f8f8f" stroke-width="1.0"/><line x1="336.00" y1="132.80" x2="336.00" y2="137.60" stroke="#8f8f8f" stroke-width="1.0"/><line x1="343.00" y1="143.60" x2="356.00" y2="143.60" stroke="#8f8f8f" stroke-width="1.7"/><line x1="343.00" y1="141.20" x2="343.00" y2="146.00" stroke="#8f8f8f" stroke-width="1.0"/><line x1="356.00" y1="141.20" x2="356.00" y2="146.00" stroke="#8f8f8f" stroke-width="1.0"/><line x1="333.00" y1="145.20" x2="349.00" y2="145.20" stroke="#8f8f8f" stroke-width="1.7"/><line x1="333.00" y1="142.80" x2="333.00" y2="147.60" stroke="#8f8f8f" stroke-width="1.0"/><line x1="349.00" y1="142.80" x2="349.00" y2="147.60" stroke="#8f8f8f" stroke-width="1.0"/><line x1="350.00" y1="147.60" x2="378.40" y2="147.60" stroke="#8f8f8f" stroke-width="1.7"/><line x1="350.00" y1="145.20" x2="350.00" y2="150.00" stroke="#8f8f8f" stroke-width="1.0"/><line x1="378.40" y1="145.20" x2="378.40" y2="150.00" stroke="#8f8f8f" stroke-width="1.0"/><line x1="345.00" y1="154.00" x2="370.00" y2="154.00" stroke="#8f8f8f" stroke-width="1.7"/><line x1="345.00" y1="151.60" x2="345.00" y2="156.40" stroke="#8f8f8f" stroke-width="1.0"/><line x1="370.00" y1="151.60" x2="370.00" y2="156.40" stroke="#8f8f8f" stroke-width="1.0"/><line x1="352.00" y1="163.60" x2="384.00" y2="163.60" stroke="#8f8f8f" stroke-width="1.7"/><line x1="352.00" y1="161.20" x2="352.00" y2="166.00" stroke="#8f8f8f" stroke-width="1.0"/><line x1="384.00" y1="161.20" x2="384.00" y2="166.00" stroke="#8f8f8f" stroke-width="1.0"/><line x1="352.00" y1="168.40" x2="388.80" y2="168.40" stroke="#8f8f8f" stroke-width="1.7"/><line x1="352.00" y1="166.00" x2="352.00" y2="170.80" stroke="#8f8f8f" stroke-width="1.0"/><line x1="388.80" y1="166.00" x2="388.80" y2="170.80" stroke="#8f8f8f" stroke-width="1.0"/><line x1="348.00" y1="173.50" x2="383.00" y2="173.50" stroke="#8f8f8f" stroke-width="1.7"/><line x1="348.00" y1="171.10" x2="348.00" y2="175.90" stroke="#8f8f8f" stroke-width="1.0"/><line x1="383.00" y1="171.10" x2="383.00" y2="175.90" stroke="#8f8f8f" stroke-width="1.0"/><line x1="350.00" y1="175.60" x2="386.00" y2="175.60" stroke="#8f8f8f" stroke-width="1.7"/><line x1="350.00" y1="173.20" x2="350.00" y2="178.00" stroke="#8f8f8f" stroke-width="1.0"/><line x1="386.00" y1="173.20" x2="386.00" y2="178.00" stroke="#8f8f8f" stroke-width="1.0"/><line x1="339.60" y1="194.00" x2="351.20" y2="194.00" stroke="#8f8f8f" stroke-width="1.7"/><line x1="339.60" y1="191.60" x2="339.60" y2="196.40" stroke="#8f8f8f" stroke-width="1.0"/><line x1="351.20" y1="191.60" x2="351.20" y2="196.40" stroke="#8f8f8f" stroke-width="1.0"/><circle cx="423.20" cy="38.60" r="3.5" fill="#f6c515" fill-opacity="0.95"/><circle cx="425.50" cy="45.00" r="3.5" fill="#f6c515" fill-opacity="0.95"/><circle cx="423.20" cy="50.70" r="3.5" fill="#f6c515" fill-opacity="0.95"/><circle cx="433.40" cy="49.80" r="3.5" fill="#f6c515" fill-opacity="0.95"/><circle cx="423.80" cy="57.40" r="3.5" fill="#f6c515" fill-opacity="0.95"/><circle cx="420.30" cy="59.70" r="3.5" fill="#f6c515" fill-opacity="0.95"/><circle cx="430.30" cy="59.70" r="3.5" fill="#f6c515" fill-opacity="0.95"/><circle cx="404.60" cy="64.10" r="3.5" fill="#f6c515" fill-opacity="0.95"/><circle cx="411.10" cy="66.60" r="3.5" fill="#f6c515" fill-opacity="0.95"/><circle cx="420.90" cy="66.10" r="3.5" fill="#f6c515" fill-opacity="0.95"/><circle cx="420.30" cy="70.50" r="3.5" fill="#f6c515" fill-opacity="0.95"/><circle cx="438.20" cy="68.00" r="3.5" fill="#f6c515" fill-opacity="0.95"/><circle cx="333.85" cy="152.23" r="3.4" fill="#7b2a7c" fill-opacity="0.9"/><circle cx="333.02" cy="155.77" r="3.4" fill="#7b2a7c" fill-opacity="0.9"/><circle cx="332.37" cy="158.92" r="3.4" fill="#7b2a7c" fill-opacity="0.9"/><circle cx="333.26" cy="162.79" r="3.4" fill="#7b2a7c" fill-opacity="0.9"/><circle cx="332.19" cy="165.11" r="3.4" fill="#7b2a7c" fill-opacity="0.9"/><circle cx="332.18" cy="169.42" r="3.4" fill="#7b2a7c" fill-opacity="0.9"/><circle cx="333.39" cy="171.18" r="3.4" fill="#7b2a7c" fill-opacity="0.9"/><circle cx="333.96" cy="176.33" r="3.4" fill="#7b2a7c" fill-opacity="0.9"/><circle cx="333.31" cy="178.93" r="3.4" fill="#7b2a7c" fill-opacity="0.9"/><circle cx="335.31" cy="148.03" r="3.4" fill="#7b2a7c" fill-opacity="0.9"/><circle cx="336.06" cy="151.42" r="3.4" fill="#7b2a7c" fill-opacity="0.9"/><circle cx="335.38" cy="155.08" r="3.4" fill="#7b2a7c" fill-opacity="0.9"/><circle cx="335.06" cy="158.83" r="3.4" fill="#7b2a7c" fill-opacity="0.9"/><circle cx="335.88" cy="162.88" r="3.4" fill="#7b2a7c" fill-opacity="0.9"/><circle cx="336.04" cy="165.78" r="3.4" fill="#7b2a7c" fill-opacity="0.9"/><circle cx="336.00" cy="169.12" r="3.4" fill="#7b2a7c" fill-opacity="0.9"/><circle cx="335.91" cy="171.66" r="3.4" fill="#7b2a7c" fill-opacity="0.9"/><circle cx="337.00" cy="176.39" r="3.4" fill="#7b2a7c" fill-opacity="0.9"/><circle cx="336.68" cy="179.12" r="3.4" fill="#7b2a7c" fill-opacity="0.9"/><circle cx="338.63" cy="148.46" r="3.4" fill="#7b2a7c" fill-opacity="0.9"/><circle cx="338.58" cy="151.44" r="3.4" fill="#7b2a7c" fill-opacity="0.9"/><circle cx="339.53" cy="155.40" r="3.4" fill="#7b2a7c" fill-opacity="0.9"/><circle cx="339.69" cy="158.67" r="3.4" fill="#7b2a7c" fill-opacity="0.9"/><circle cx="339.92" cy="162.89" r="3.4" fill="#7b2a7c" fill-opacity="0.9"/><circle cx="338.00" cy="164.92" r="3.4" fill="#7b2a7c" fill-opacity="0.9"/><circle cx="339.82" cy="168.74" r="3.4" fill="#7b2a7c" fill-opacity="0.9"/><circle cx="339.96" cy="171.89" r="3.4" fill="#7b2a7c" fill-opacity="0.9"/><circle cx="338.15" cy="175.66" r="3.4" fill="#7b2a7c" fill-opacity="0.9"/><circle cx="339.56" cy="178.24" r="3.4" fill="#7b2a7c" fill-opacity="0.9"/><circle cx="341.17" cy="148.67" r="3.4" fill="#7b2a7c" fill-opacity="0.9"/><circle cx="342.93" cy="152.82" r="3.4" fill="#7b2a7c" fill-opacity="0.9"/><circle cx="341.24" cy="155.09" r="3.4" fill="#7b2a7c" fill-opacity="0.9"/><circle cx="341.20" cy="158.02" r="3.4" fill="#7b2a7c" fill-opacity="0.9"/><circle cx="342.59" cy="161.56" r="3.4" fill="#7b2a7c" fill-opacity="0.9"/><circle cx="342.12" cy="165.39" r="3.4" fill="#7b2a7c" fill-opacity="0.9"/><circle cx="341.38" cy="169.26" r="3.4" fill="#7b2a7c" fill-opacity="0.9"/><circle cx="341.26" cy="172.39" r="3.4" fill="#7b2a7c" fill-opacity="0.9"/><circle cx="341.23" cy="175.24" r="3.4" fill="#7b2a7c" fill-opacity="0.9"/><circle cx="341.43" cy="178.24" r="3.4" fill="#7b2a7c" fill-opacity="0.9"/><circle cx="345.94" cy="149.61" r="3.4" fill="#7b2a7c" fill-opacity="0.9"/><circle cx="344.61" cy="153.07" r="3.4" fill="#7b2a7c" fill-opacity="0.9"/><circle cx="344.42" cy="155.39" r="3.4" fill="#7b2a7c" fill-opacity="0.9"/><circle cx="345.71" cy="159.18" r="3.4" fill="#7b2a7c" fill-opacity="0.9"/><circle cx="344.20" cy="163.18" r="3.4" fill="#7b2a7c" fill-opacity="0.9"/><circle cx="344.43" cy="165.02" r="3.4" fill="#7b2a7c" fill-opacity="0.9"/><circle cx="345.55" cy="168.46" r="3.4" fill="#7b2a7c" fill-opacity="0.9"/><circle cx="344.59" cy="171.25" r="3.4" fill="#7b2a7c" fill-opacity="0.9"/><circle cx="344.18" cy="175.57" r="3.4" fill="#7b2a7c" fill-opacity="0.9"/><circle cx="344.49" cy="178.90" r="3.4" fill="#7b2a7c" fill-opacity="0.9"/><circle cx="347.74" cy="148.91" r="3.4" fill="#7b2a7c" fill-opacity="0.9"/><circle cx="348.92" cy="152.27" r="3.4" fill="#7b2a7c" fill-opacity="0.9"/><circle cx="348.15" cy="156.33" r="3.4" fill="#7b2a7c" fill-opacity="0.9"/><circle cx="347.37" cy="158.21" r="3.4" fill="#7b2a7c" fill-opacity="0.9"/><circle cx="348.82" cy="162.84" r="3.4" fill="#7b2a7c" fill-opacity="0.9"/><circle cx="347.50" cy="164.88" r="3.4" fill="#7b2a7c" fill-opacity="0.9"/><circle cx="348.48" cy="169.68" r="3.4" fill="#7b2a7c" fill-opacity="0.9"/><circle cx="347.39" cy="173.00" r="3.4" fill="#7b2a7c" fill-opacity="0.9"/><circle cx="348.76" cy="175.61" r="3.4" fill="#7b2a7c" fill-opacity="0.9"/><circle cx="347.84" cy="177.91" r="3.4" fill="#7b2a7c" fill-opacity="0.9"/><circle cx="350.08" cy="149.93" r="3.4" fill="#7b2a7c" fill-opacity="0.9"/><circle cx="350.48" cy="152.71" r="3.4" fill="#7b2a7c" fill-opacity="0.9"/><circle cx="350.51" cy="156.25" r="3.4" fill="#7b2a7c" fill-opacity="0.9"/><circle cx="351.19" cy="158.49" r="3.4" fill="#7b2a7c" fill-opacity="0.9"/><circle cx="350.35" cy="162.64" r="3.4" fill="#7b2a7c" fill-opacity="0.9"/><circle cx="350.14" cy="164.96" r="3.4" fill="#7b2a7c" fill-opacity="0.9"/><circle cx="351.12" cy="169.50" r="3.4" fill="#7b2a7c" fill-opacity="0.9"/><circle cx="351.23" cy="171.66" r="3.4" fill="#7b2a7c" fill-opacity="0.9"/><circle cx="351.83" cy="174.81" r="3.4" fill="#7b2a7c" fill-opacity="0.9"/><circle cx="350.03" cy="178.24" r="3.4" fill="#7b2a7c" fill-opacity="0.9"/><circle cx="353.35" cy="152.04" r="3.4" fill="#7b2a7c" fill-opacity="0.9"/><circle cx="354.14" cy="154.86" r="3.4" fill="#7b2a7c" fill-opacity="0.9"/><circle cx="353.72" cy="159.68" r="3.4" fill="#7b2a7c" fill-opacity="0.9"/><circle cx="354.96" cy="162.51" r="3.4" fill="#7b2a7c" fill-opacity="0.9"/><circle cx="354.38" cy="165.67" r="3.4" fill="#7b2a7c" fill-opacity="0.9"/><circle cx="353.28" cy="167.87" r="3.4" fill="#7b2a7c" fill-opacity="0.9"/><circle cx="353.04" cy="172.92" r="3.4" fill="#7b2a7c" fill-opacity="0.9"/><circle cx="332.50" cy="176.50" r="3.4" fill="#7b2a7c" fill-opacity="0.9"/><circle cx="339.00" cy="177.50" r="3.4" fill="#7b2a7c" fill-opacity="0.9"/><circle cx="348.00" cy="176.50" r="3.4" fill="#7b2a7c" fill-opacity="0.9"/><circle cx="344.00" cy="176.00" r="3.4" fill="#7b2a7c" fill-opacity="0.9"/><circle cx="335.00" cy="178.00" r="3.4" fill="#7b2a7c" fill-opacity="0.9"/><circle cx="340.80" cy="146.00" r="3.4" fill="#7b2a7c" fill-opacity="0.9"/><circle cx="349.60" cy="144.20" r="3.4" fill="#7b2a7c" fill-opacity="0.9"/><circle cx="345.00" cy="147.00" r="3.4" fill="#7b2a7c" fill-opacity="0.9"/><circle cx="337.00" cy="149.00" r="3.4" fill="#7b2a7c" fill-opacity="0.9"/><circle cx="353.50" cy="151.00" r="3.4" fill="#7b2a7c" fill-opacity="0.9"/><circle cx="355.00" cy="157.00" r="3.4" fill="#7b2a7c" fill-opacity="0.9"/><circle cx="355.50" cy="165.00" r="3.4" fill="#7b2a7c" fill-opacity="0.9"/><circle cx="354.50" cy="170.00" r="3.4" fill="#7b2a7c" fill-opacity="0.9"/><circle cx="332.00" cy="153.00" r="3.4" fill="#7b2a7c" fill-opacity="0.9"/><circle cx="331.50" cy="160.00" r="3.4" fill="#7b2a7c" fill-opacity="0.9"/><circle cx="331.50" cy="167.00" r="3.4" fill="#7b2a7c" fill-opacity="0.9"/><circle cx="332.00" cy="172.00" r="3.4" fill="#7b2a7c" fill-opacity="0.9"/><circle cx="352.00" cy="175.00" r="3.4" fill="#7b2a7c" fill-opacity="0.9"/><circle cx="352.80" cy="95.40" r="3.4" fill="#7b2a7c" fill-opacity="0.92"/><circle cx="353.00" cy="102.90" r="3.4" fill="#7b2a7c" fill-opacity="0.92"/><circle cx="336.00" cy="116.80" r="3.4" fill="#7b2a7c" fill-opacity="0.92"/><circle cx="332.20" cy="135.20" r="3.4" fill="#7b2a7c" fill-opacity="0.92"/><circle cx="349.60" cy="143.60" r="3.4" fill="#7b2a7c" fill-opacity="0.92"/><circle cx="340.80" cy="145.20" r="3.4" fill="#7b2a7c" fill-opacity="0.92"/><circle cx="365.30" cy="147.60" r="3.4" fill="#7b2a7c" fill-opacity="0.92"/><circle cx="357.60" cy="154.00" r="3.4" fill="#7b2a7c" fill-opacity="0.92"/><circle cx="370.00" cy="163.60" r="3.4" fill="#7b2a7c" fill-opacity="0.92"/><circle cx="371.50" cy="168.40" r="3.4" fill="#7b2a7c" fill-opacity="0.92"/><circle cx="362.40" cy="173.50" r="3.4" fill="#7b2a7c" fill-opacity="0.92"/><circle cx="368.00" cy="175.60" r="3.4" fill="#7b2a7c" fill-opacity="0.92"/><circle cx="345.10" cy="194.00" r="3.4" fill="#7b2a7c" fill-opacity="0.92"/><circle cx="497.6" cy="71.0" r="10.5" fill="none" stroke="#555" stroke-width="0.7"/><circle cx="675.4" cy="103.8" r="10.6" fill="none" stroke="#555" stroke-width="0.7"/><line x1="510.9" y1="40.4" x2="510.9" y2="70.5" stroke="#6a6a6a" stroke-width="1.1"/><line x1="571.4" y1="40.4" x2="571.4" y2="70.5" stroke="#4a4a4a" stroke-width="1.1"/><line x1="601.9" y1="40.4" x2="601.9" y2="70.5" stroke="#c8c8c8" stroke-width="1.4"/><line x1="571.4" y1="40.4" x2="601.9" y2="40.4" stroke="#bdbdbd" stroke-width="1.0"/><line x1="510.9" y1="40.4" x2="571.4" y2="100.8" stroke="#3c3c3c" stroke-width="0.7"/><line x1="510.9" y1="70.5" x2="571.4" y2="40.4" stroke="#3c3c3c" stroke-width="0.7"/><line x1="510.9" y1="70.5" x2="601.9" y2="40.4" stroke="#3c3c3c" stroke-width="0.7"/><line x1="510.9" y1="70.5" x2="601.9" y2="100.8" stroke="#3c3c3c" stroke-width="0.7"/><line x1="571.4" y1="70.5" x2="571.4" y2="100.8" stroke="#777" stroke-width="0.9"/><line x1="601.9" y1="40.4" x2="571.4" y2="100.8" stroke="#3c3c3c" stroke-width="0.7"/><line x1="601.9" y1="40.4" x2="662.4" y2="100.8" stroke="#3c3c3c" stroke-width="0.7"/><line x1="662.4" y1="70.5" x2="601.9" y2="100.8" stroke="#3c3c3c" stroke-width="0.7"/><line x1="510.9" y1="40.4" x2="571.4" y2="40.4" stroke="#555555" stroke-width="2.7"/><line x1="601.9" y1="40.4" x2="662.4" y2="40.4" stroke="#555555" stroke-width="2.7"/><line x1="510.9" y1="70.5" x2="571.4" y2="70.5" stroke="#555555" stroke-width="2.7"/><line x1="601.9" y1="70.5" x2="662.4" y2="70.5" stroke="#555555" stroke-width="2.7"/><line x1="510.9" y1="100.8" x2="571.4" y2="100.8" stroke="#555555" stroke-width="2.7"/><line x1="601.9" y1="100.8" x2="662.4" y2="100.8" stroke="#555555" stroke-width="2.7"/><circle cx="510.90" cy="40.40" r="9.5" fill="#0e7e79" stroke="#d8d8d8" stroke-width="0.8"/><text x="510.90" y="43.50" font-size="8.8" text-anchor="middle" fill="#ffffff" letter-spacing="-0.3">P9</text><circle cx="571.40" cy="40.40" r="9.5" fill="#0e7e79" stroke="#d8d8d8" stroke-width="0.8"/><text x="571.40" y="43.50" font-size="8.6" text-anchor="middle" fill="#ffffff" letter-spacing="-0.3">P10</text><circle cx="601.90" cy="40.40" r="9.5" fill="#0e7e79" stroke="#d8d8d8" stroke-width="0.8"/><text x="601.90" y="43.50" font-size="8.6" text-anchor="middle" fill="#ffffff" letter-spacing="-0.3">P11</text><circle cx="662.40" cy="40.40" r="9.5" fill="#0e7e79" stroke="#d8d8d8" stroke-width="0.8"/><text x="662.40" y="43.50" font-size="8.6" text-anchor="middle" fill="#ffffff" letter-spacing="-0.3">P12</text><circle cx="510.90" cy="70.50" r="9.5" fill="#0e7e79" stroke="#d8d8d8" stroke-width="0.8"/><text x="510.90" y="73.60" font-size="8.8" text-anchor="middle" fill="#ffffff" letter-spacing="-0.3">P5</text><circle cx="571.40" cy="70.50" r="9.5" fill="#0e7e79" stroke="#d8d8d8" stroke-width="0.8"/><text x="571.40" y="73.60" font-size="8.8" text-anchor="middle" fill="#ffffff" letter-spacing="-0.3">P6</text><circle cx="601.90" cy="70.50" r="9.5" fill="#0e7e79" stroke="#d8d8d8" stroke-width="0.8"/><text x="601.90" y="73.60" font-size="8.8" text-anchor="middle" fill="#ffffff" letter-spacing="-0.3">P7</text><circle cx="662.40" cy="70.50" r="9.5" fill="#0e7e79" stroke="#d8d8d8" stroke-width="0.8"/><text x="662.40" y="73.60" font-size="8.8" text-anchor="middle" fill="#ffffff" letter-spacing="-0.3">P8</text><circle cx="510.90" cy="100.80" r="9.5" fill="#0e7e79" stroke="#d8d8d8" stroke-width="0.8"/><text x="510.90" y="103.90" font-size="8.8" text-anchor="middle" fill="#ffffff" letter-spacing="-0.3">P1</text><circle cx="571.40" cy="100.80" r="9.5" fill="#0e7e79" stroke="#d8d8d8" stroke-width="0.8"/><text x="571.40" y="103.90" font-size="8.8" text-anchor="middle" fill="#ffffff" letter-spacing="-0.3">P2</text><circle cx="601.90" cy="100.80" r="9.5" fill="#0e7e79" stroke="#d8d8d8" stroke-width="0.8"/><text x="601.90" y="103.90" font-size="8.8" text-anchor="middle" fill="#ffffff" letter-spacing="-0.3">P3</text><circle cx="662.40" cy="100.80" r="9.5" fill="#0e7e79" stroke="#d8d8d8" stroke-width="0.8"/><text x="662.40" y="103.90" font-size="8.8" text-anchor="middle" fill="#ffffff" letter-spacing="-0.3">P4</text><text x="586.90" y="15.20" font-size="10.3" text-anchor="middle" fill="#222" font-weight="normal" >P-LFC</text><text x="559.60" y="25.60" font-size="9.0" text-anchor="middle" fill="#222" font-weight="normal" >9</text><text x="611.20" y="25.60" font-size="9.0" text-anchor="middle" fill="#222" font-weight="normal" >1</text><defs><linearGradient id="wedg" x1="0" x2="1" y1="0" y2="0"><stop offset="0" stop-color="#3a3a3a"/><stop offset="1" stop-color="#9a9a9a"/></linearGradient></defs><path d="M565.8,20.3 L607.4,21.8 L607.4,22.8 L565.8,24.4 Z" fill="url(#wedg)"/><path d="M503.9,137.7 C525,127 562,120 579,132 C591,141 598,153 604,166" fill="none" stroke="#444" stroke-width="0.7"/><path d="M503.9,137.7 C482,160 484,185 503.7,197.4" fill="none" stroke="#444" stroke-width="0.7"/><path d="M503.6,171.6 C535,152 620,148 675,171.4" fill="none" stroke="#444" stroke-width="0.7"/><path d="M503.7,197.4 C530,215 570,225 590,218 C598,215 602,210 607,205.9" fill="none" stroke="#444" stroke-width="0.7"/><path d="M572.6,205.8 C600,225 650,222 675,197.5" fill="none" stroke="#444" stroke-width="0.7"/><path d="M572.6,205.8 L675,171.4" fill="none" stroke="#444" stroke-width="0.7"/><line x1="675.0" y1="171.4" x2="675.0" y2="197.5" stroke="#a8a8a8" stroke-width="1.2"/><line x1="503.9" y1="137.7" x2="572.6" y2="146.0" stroke="#4c5758" stroke-width="2.45"/><line x1="503.9" y1="137.7" x2="572.6" y2="171.6" stroke="#4c5758" stroke-width="2.45"/><line x1="503.9" y1="137.7" x2="572.6" y2="205.8" stroke="#4c5758" stroke-width="2.45"/><line x1="503.6" y1="171.6" x2="572.6" y2="146.0" stroke="#4c5758" stroke-width="2.45"/><line x1="503.6" y1="171.6" x2="572.6" y2="171.6" stroke="#4c5758" stroke-width="2.45"/><line x1="503.6" y1="171.6" x2="572.6" y2="205.8" stroke="#4c5758" stroke-width="2.45"/><line x1="503.7" y1="197.4" x2="572.6" y2="146.0" stroke="#4c5758" stroke-width="2.45"/><line x1="503.7" y1="197.4" x2="572.6" y2="171.6" stroke="#4c5758" stroke-width="2.45"/><line x1="503.7" y1="197.4" x2="572.6" y2="205.8" stroke="#4c5758" stroke-width="2.45"/><line x1="606.8" y1="145.8" x2="675.0" y2="137.9" stroke="#4c5758" stroke-width="2.45"/><line x1="606.8" y1="145.8" x2="675.0" y2="171.4" stroke="#4c5758" stroke-width="2.45"/><line x1="606.8" y1="145.8" x2="675.0" y2="197.5" stroke="#4c5758" stroke-width="2.45"/><line x1="606.5" y1="171.4" x2="675.0" y2="137.9" stroke="#4c5758" stroke-width="2.45"/><line x1="606.5" y1="171.4" x2="675.0" y2="171.4" stroke="#4c5758" stroke-width="2.45"/><line x1="606.5" y1="171.4" x2="675.0" y2="197.5" stroke="#4c5758" stroke-width="2.45"/><line x1="607.0" y1="205.9" x2="675.0" y2="137.9" stroke="#4c5758" stroke-width="2.45"/><line x1="607.0" y1="205.9" x2="675.0" y2="171.4" stroke="#4c5758" stroke-width="2.45"/><line x1="607.0" y1="205.9" x2="675.0" y2="197.5" stroke="#4c5758" stroke-width="2.45"/><circle cx="503.90" cy="137.70" r="7.6" fill="#0e7e79" stroke="#d8d8d8" stroke-width="0.8"/><text x="503.90" y="140.80" font-size="8.6" text-anchor="middle" fill="#ffffff" letter-spacing="-0.3">P5</text><circle cx="572.60" cy="146.00" r="7.6" fill="#0e7e79" stroke="#d8d8d8" stroke-width="0.8"/><text x="572.60" y="149.10" font-size="8.6" text-anchor="middle" fill="#ffffff" letter-spacing="-0.3">P6</text><circle cx="606.80" cy="145.80" r="7.6" fill="#0e7e79" stroke="#d8d8d8" stroke-width="0.8"/><text x="606.80" y="148.90" font-size="8.6" text-anchor="middle" fill="#ffffff" letter-spacing="-0.3">P8</text><circle cx="675.00" cy="137.90" r="7.6" fill="#0e7e79" stroke="#d8d8d8" stroke-width="0.8"/><text x="675.00" y="141.00" font-size="8.6" text-anchor="middle" fill="#ffffff" letter-spacing="-0.3">P7</text><circle cx="503.60" cy="171.60" r="9.0" fill="#aaa595" stroke="#d8d8d8" stroke-width="0.8"/><text x="503.60" y="174.70" font-size="8.6" text-anchor="middle" fill="#2a2a2a" letter-spacing="-0.3">P5A</text><circle cx="572.60" cy="171.60" r="9.0" fill="#aaa595" stroke="#d8d8d8" stroke-width="0.8"/><text x="572.60" y="174.70" font-size="8.6" text-anchor="middle" fill="#2a2a2a" letter-spacing="-0.3">P6A</text><circle cx="606.50" cy="171.40" r="9.0" fill="#aaa595" stroke="#d8d8d8" stroke-width="0.8"/><text x="606.50" y="174.50" font-size="8.6" text-anchor="middle" fill="#2a2a2a" letter-spacing="-0.3">P8A</text><circle cx="675.00" cy="171.40" r="9.0" fill="#aaa595" stroke="#d8d8d8" stroke-width="0.8"/><text x="675.00" y="174.50" font-size="8.6" text-anchor="middle" fill="#2a2a2a" letter-spacing="-0.3">P7A</text><circle cx="503.70" cy="197.40" r="7.5" fill="#e2cf80" stroke="#d8d8d8" stroke-width="0.8"/><text x="503.70" y="200.50" font-size="8.6" text-anchor="middle" fill="#2a2a2a" letter-spacing="-0.3">N5</text><circle cx="572.60" cy="205.80" r="7.5" fill="#e2cf80" stroke="#d8d8d8" stroke-width="0.8"/><text x="572.60" y="208.90" font-size="8.6" text-anchor="middle" fill="#2a2a2a" letter-spacing="-0.3">N6</text><circle cx="607.00" cy="205.90" r="7.5" fill="#e2cf80" stroke="#d8d8d8" stroke-width="0.8"/><text x="607.00" y="209.00" font-size="8.6" text-anchor="middle" fill="#2a2a2a" letter-spacing="-0.3">N8</text><circle cx="675.00" cy="197.50" r="7.5" fill="#e2cf80" stroke="#d8d8d8" stroke-width="0.8"/><text x="675.00" y="200.60" font-size="8.6" text-anchor="middle" fill="#2a2a2a" letter-spacing="-0.3">N7</text><text x="0" y="276.6" font-size="11" font-weight="bold"><tspan x="34.0" fill="#4a7aa8" textLength="58.0" lengthAdjust="spacingAndGlyphs">G EIAALEQ</tspan><tspan x="95.3" fill="#8b3a98" textLength="45.8" lengthAdjust="spacingAndGlyphs">EIAALEK</tspan><tspan x="144.3" fill="#1e9a98" textLength="52.5" lengthAdjust="spacingAndGlyphs">ENAALEW</tspan><tspan x="199.9" fill="#b6a062" textLength="46.4" lengthAdjust="spacingAndGlyphs">EIAALEQ</tspan><tspan x="249.3" fill="#111" textLength="15.4" lengthAdjust="spacingAndGlyphs">GG</tspan></text><text x="0" y="449.0" font-size="11" font-weight="bold"><tspan x="31.0" fill="#8fb0ae" textLength="59.2" lengthAdjust="spacingAndGlyphs">G KIAALKQ</tspan><tspan x="93.0" fill="#b53c98" textLength="48.3" lengthAdjust="spacingAndGlyphs">KIAALKY</tspan><tspan x="143.8" fill="#6f9c78" textLength="50.6" lengthAdjust="spacingAndGlyphs">KNAALKK</tspan><tspan x="197.5" fill="#b8743a" textLength="48.2" lengthAdjust="spacingAndGlyphs">KIAALKQ</tspan><tspan x="249.3" fill="#111" textLength="15.4" lengthAdjust="spacingAndGlyphs">GG</tspan></text><path d="M25.50,284.00 L25.32,284.00 L24.79,284.00 L23.93,284.00 L22.78,284.00 L21.37,284.00 L19.76,284.00 L18.01,284.00 L16.20,284.00 L14.39,284.00 L12.64,284.00 L11.03,284.00 L9.62,284.00 L8.47,284.00 L7.61,284.00 L7.08,284.00 L6.90,284.10 L6.90,289.60 L7.08,289.08 L7.61,288.56 L8.47,288.04 L9.62,287.52 L11.03,287.01 L12.64,286.49 L14.39,285.97 L16.20,285.45 L18.01,284.93 L19.76,284.41 L21.37,284.00 L22.78,284.00 L23.93,284.00 L24.79,284.00 L25.32,284.00 L25.50,284.00Z" fill="#406c96"/><path d="M25.50,292.40 L25.32,292.92 L24.79,293.44 L23.93,293.96 L22.78,294.47 L21.37,294.99 L19.76,295.51 L18.01,296.03 L16.20,296.55 L14.39,297.07 L12.64,297.59 L11.03,298.11 L9.62,298.62 L8.47,299.14 L7.61,299.66 L7.08,300.18 L6.90,300.70 L6.90,306.20 L7.08,305.68 L7.61,305.16 L8.47,304.64 L9.62,304.12 L11.03,303.61 L12.64,303.09 L14.39,302.57 L16.20,302.05 L18.01,301.53 L19.76,301.01 L21.37,300.49 L22.78,299.97 L23.93,299.46 L24.79,298.94 L25.32,298.42 L25.50,297.90Z" fill="#406c96"/><path d="M25.50,309.00 L25.32,309.52 L24.79,310.04 L23.93,310.56 L22.78,311.07 L21.37,311.59 L19.76,312.11 L18.01,312.63 L16.20,313.15 L14.39,313.67 L12.64,314.19 L11.03,314.71 L9.62,315.22 L8.47,315.74 L7.61,316.26 L7.08,316.78 L6.90,317.30 L6.90,322.80 L7.08,322.28 L7.61,321.76 L8.47,321.24 L9.62,320.72 L11.03,320.21 L12.64,319.69 L14.39,319.17 L16.20,318.65 L18.01,318.13 L19.76,317.61 L21.37,317.09 L22.78,316.57 L23.93,316.06 L24.79,315.54 L25.32,315.02 L25.50,314.50Z" fill="#406c96"/><path d="M25.50,325.60 L25.32,326.12 L24.79,326.64 L23.93,327.16 L22.78,327.67 L21.37,328.19 L19.76,328.71 L18.01,329.23 L16.20,329.75 L14.39,330.27 L12.64,330.79 L11.03,331.31 L9.62,331.82 L8.47,332.34 L7.61,332.86 L7.08,333.38 L6.90,333.90 L6.90,339.40 L7.08,338.88 L7.61,338.36 L8.47,337.84 L9.62,337.32 L11.03,336.81 L12.64,336.29 L14.39,335.77 L16.20,335.25 L18.01,334.73 L19.76,334.21 L21.37,333.69 L22.78,333.17 L23.93,332.66 L24.79,332.14 L25.32,331.62 L25.50,331.10Z" fill="#714079"/><path d="M25.50,342.20 L25.32,342.72 L24.79,343.24 L23.93,343.76 L22.78,344.27 L21.37,344.79 L19.76,345.31 L18.01,345.83 L16.20,346.35 L14.39,346.87 L12.64,347.39 L11.03,347.91 L9.62,348.42 L8.47,348.94 L7.61,349.46 L7.08,349.98 L6.90,350.50 L6.90,356.00 L7.08,355.48 L7.61,354.96 L8.47,354.44 L9.62,353.92 L11.03,353.41 L12.64,352.89 L14.39,352.37 L16.20,351.85 L18.01,351.33 L19.76,350.81 L21.37,350.29 L22.78,349.77 L23.93,349.26 L24.79,348.74 L25.32,348.22 L25.50,347.70Z" fill="#714079"/><path d="M25.50,358.80 L25.32,359.32 L24.79,359.84 L23.93,360.36 L22.78,360.87 L21.37,361.39 L19.76,361.91 L18.01,362.43 L16.20,362.95 L14.39,363.47 L12.64,363.99 L11.03,364.51 L9.62,365.02 L8.47,365.54 L7.61,366.06 L7.08,366.58 L6.90,367.10 L6.90,372.60 L7.08,372.08 L7.61,371.56 L8.47,371.04 L9.62,370.52 L11.03,370.01 L12.64,369.49 L14.39,368.97 L16.20,368.45 L18.01,367.93 L19.76,367.41 L21.37,366.89 L22.78,366.37 L23.93,365.86 L24.79,365.34 L25.32,364.82 L25.50,364.30Z" fill="#2e7272"/><path d="M25.50,375.40 L25.32,375.92 L24.79,376.44 L23.93,376.96 L22.78,377.47 L21.37,377.99 L19.76,378.51 L18.01,379.03 L16.20,379.55 L14.39,380.07 L12.64,380.59 L11.03,381.11 L9.62,381.62 L8.47,382.14 L7.61,382.66 L7.08,383.18 L6.90,383.70 L6.90,389.20 L7.08,388.68 L7.61,388.16 L8.47,387.64 L9.62,387.12 L11.03,386.61 L12.64,386.09 L14.39,385.57 L16.20,385.05 L18.01,384.53 L19.76,384.01 L21.37,383.49 L22.78,382.97 L23.93,382.46 L24.79,381.94 L25.32,381.42 L25.50,380.90Z" fill="#2e7272"/><path d="M25.50,392.00 L25.32,392.52 L24.79,393.04 L23.93,393.56 L22.78,394.07 L21.37,394.59 L19.76,395.11 L18.01,395.63 L16.20,396.15 L14.39,396.67 L12.64,397.19 L11.03,397.71 L9.62,398.22 L8.47,398.74 L7.61,399.26 L7.08,399.78 L6.90,400.30 L6.90,405.80 L7.08,405.28 L7.61,404.76 L8.47,404.24 L9.62,403.72 L11.03,403.21 L12.64,402.69 L14.39,402.17 L16.20,401.65 L18.01,401.13 L19.76,400.61 L21.37,400.09 L22.78,399.57 L23.93,399.06 L24.79,398.54 L25.32,398.02 L25.50,397.50Z" fill="#a9964a"/><path d="M25.50,408.60 L25.32,409.12 L24.79,409.64 L23.93,410.16 L22.78,410.67 L21.37,411.19 L19.76,411.71 L18.01,412.23 L16.20,412.75 L14.39,413.27 L12.64,413.79 L11.03,414.31 L9.62,414.82 L8.47,415.34 L7.61,415.86 L7.08,416.38 L6.90,416.90 L6.90,422.40 L7.08,421.88 L7.61,421.36 L8.47,420.84 L9.62,420.32 L11.03,419.81 L12.64,419.29 L14.39,418.77 L16.20,418.25 L18.01,417.73 L19.76,417.21 L21.37,416.69 L22.78,416.17 L23.93,415.66 L24.79,415.14 L25.32,414.62 L25.50,414.10Z" fill="#a9964a"/><path d="M25.50,425.20 L25.32,425.72 L24.79,426.24 L23.93,426.76 L22.78,427.27 L21.37,427.79 L19.76,428.31 L18.01,428.83 L16.20,429.35 L14.39,429.87 L12.64,430.39 L11.03,430.91 L9.62,431.00 L8.47,431.00 L7.61,431.00 L7.08,431.00 L6.90,431.00 L6.90,431.00 L7.08,431.00 L7.61,431.00 L8.47,431.00 L9.62,431.00 L11.03,431.00 L12.64,431.00 L14.39,431.00 L16.20,431.00 L18.01,431.00 L19.76,431.00 L21.37,431.00 L22.78,431.00 L23.93,431.00 L24.79,431.00 L25.32,431.00 L25.50,430.70Z" fill="#373737"/><path d="M6.90,284.10 L7.08,284.62 L7.61,285.14 L8.47,285.66 L9.62,286.17 L11.03,286.69 L12.64,287.21 L14.39,287.73 L16.20,288.25 L18.01,288.77 L19.76,289.29 L21.37,289.81 L22.78,290.32 L23.93,290.84 L24.79,291.36 L25.32,291.88 L25.50,292.40 L25.50,299.60 L25.32,299.08 L24.79,298.56 L23.93,298.04 L22.78,297.52 L21.37,297.01 L19.76,296.49 L18.01,295.97 L16.20,295.45 L14.39,294.93 L12.64,294.41 L11.03,293.89 L9.62,293.37 L8.47,292.86 L7.61,292.34 L7.08,291.82 L6.90,291.30Z" fill="#3a82c8"/><polyline points="9.62,289.20 11.03,289.72 12.64,290.24 14.39,290.76 16.20,291.27 18.01,291.79" fill="none" stroke="#7faedb" stroke-opacity="0.55" stroke-width="2.16" stroke-linecap="round"/><path d="M6.90,300.70 L7.08,301.22 L7.61,301.74 L8.47,302.26 L9.62,302.77 L11.03,303.29 L12.64,303.81 L14.39,304.33 L16.20,304.85 L18.01,305.37 L19.76,305.89 L21.37,306.41 L22.78,306.92 L23.93,307.44 L24.79,307.96 L25.32,308.48 L25.50,309.00 L25.50,316.20 L25.32,315.68 L24.79,315.16 L23.93,314.64 L22.78,314.12 L21.37,313.61 L19.76,313.09 L18.01,312.57 L16.20,312.05 L14.39,311.53 L12.64,311.01 L11.03,310.49 L9.62,309.97 L8.47,309.46 L7.61,308.94 L7.08,308.42 L6.90,307.90Z" fill="#3a82c8"/><polyline points="9.62,305.80 11.03,306.32 12.64,306.84 14.39,307.36 16.20,307.87 18.01,308.39" fill="none" stroke="#7faedb" stroke-opacity="0.55" stroke-width="2.16" stroke-linecap="round"/><path d="M6.90,317.30 L7.08,317.82 L7.61,318.34 L8.47,318.86 L9.62,319.37 L11.03,319.89 L12.64,320.41 L14.39,320.93 L16.20,321.45 L18.01,321.97 L19.76,322.49 L21.37,323.01 L22.78,323.52 L23.93,324.04 L24.79,324.56 L25.32,325.08 L25.50,325.60 L25.50,332.80 L25.32,332.28 L24.79,331.76 L23.93,331.24 L22.78,330.72 L21.37,330.21 L19.76,329.69 L18.01,329.17 L16.20,328.65 L14.39,328.13 L12.64,327.61 L11.03,327.09 L9.62,326.57 L8.47,326.06 L7.61,325.54 L7.08,325.02 L6.90,324.50Z" fill="#8b3a99"/><polyline points="9.62,322.40 11.03,322.92 12.64,323.44 14.39,323.96 16.20,324.47 18.01,324.99" fill="none" stroke="#b47fbd" stroke-opacity="0.55" stroke-width="2.16" stroke-linecap="round"/><path d="M6.90,333.90 L7.08,334.42 L7.61,334.94 L8.47,335.46 L9.62,335.97 L11.03,336.49 L12.64,337.01 L14.39,337.53 L16.20,338.05 L18.01,338.57 L19.76,339.09 L21.37,339.61 L22.78,340.12 L23.93,340.64 L24.79,341.16 L25.32,341.68 L25.50,342.20 L25.50,349.40 L25.32,348.88 L24.79,348.36 L23.93,347.84 L22.78,347.32 L21.37,346.81 L19.76,346.29 L18.01,345.77 L16.20,345.25 L14.39,344.73 L12.64,344.21 L11.03,343.69 L9.62,343.17 L8.47,342.66 L7.61,342.14 L7.08,341.62 L6.90,341.10Z" fill="#8b3a99"/><polyline points="9.62,339.00 11.03,339.52 12.64,340.04 14.39,340.56 16.20,341.07 18.01,341.59" fill="none" stroke="#b47fbd" stroke-opacity="0.55" stroke-width="2.16" stroke-linecap="round"/><path d="M6.90,350.50 L7.08,351.02 L7.61,351.54 L8.47,352.06 L9.62,352.57 L11.03,353.09 L12.64,353.61 L14.39,354.13 L16.20,354.65 L18.01,355.17 L19.76,355.69 L21.37,356.21 L22.78,356.72 L23.93,357.24 L24.79,357.76 L25.32,358.28 L25.50,358.80 L25.50,366.00 L25.32,365.48 L24.79,364.96 L23.93,364.44 L22.78,363.92 L21.37,363.41 L19.76,362.89 L18.01,362.37 L16.20,361.85 L14.39,361.33 L12.64,360.81 L11.03,360.29 L9.62,359.77 L8.47,359.26 L7.61,358.74 L7.08,358.22 L6.90,357.70Z" fill="#1b8c8c"/><polyline points="9.62,355.60 11.03,356.12 12.64,356.64 14.39,357.16 16.20,357.67 18.01,358.19" fill="none" stroke="#6bb4b4" stroke-opacity="0.55" stroke-width="2.16" stroke-linecap="round"/><path d="M6.90,367.10 L7.08,367.62 L7.61,368.14 L8.47,368.66 L9.62,369.17 L11.03,369.69 L12.64,370.21 L14.39,370.73 L16.20,371.25 L18.01,371.77 L19.76,372.29 L21.37,372.81 L22.78,373.32 L23.93,373.84 L24.79,374.36 L25.32,374.88 L25.50,375.40 L25.50,382.60 L25.32,382.08 L24.79,381.56 L23.93,381.04 L22.78,380.52 L21.37,380.01 L19.76,379.49 L18.01,378.97 L16.20,378.45 L14.39,377.93 L12.64,377.41 L11.03,376.89 L9.62,376.37 L8.47,375.86 L7.61,375.34 L7.08,374.82 L6.90,374.30Z" fill="#1b8c8c"/><polyline points="9.62,372.20 11.03,372.72 12.64,373.24 14.39,373.76 16.20,374.27 18.01,374.79" fill="none" stroke="#6bb4b4" stroke-opacity="0.55" stroke-width="2.16" stroke-linecap="round"/><path d="M6.90,383.70 L7.08,384.22 L7.61,384.74 L8.47,385.26 L9.62,385.77 L11.03,386.29 L12.64,386.81 L14.39,387.33 L16.20,387.85 L18.01,388.37 L19.76,388.89 L21.37,389.41 L22.78,389.92 L23.93,390.44 L24.79,390.96 L25.32,391.48 L25.50,392.00 L25.50,399.20 L25.32,398.68 L24.79,398.16 L23.93,397.64 L22.78,397.12 L21.37,396.61 L19.76,396.09 L18.01,395.57 L16.20,395.05 L14.39,394.53 L12.64,394.01 L11.03,393.49 L9.62,392.97 L8.47,392.46 L7.61,391.94 L7.08,391.42 L6.90,390.90Z" fill="#1b8c8c"/><polyline points="9.62,388.80 11.03,389.32 12.64,389.84 14.39,390.36 16.20,390.87 18.01,391.39" fill="none" stroke="#6bb4b4" stroke-opacity="0.55" stroke-width="2.16" stroke-linecap="round"/><path d="M6.90,400.30 L7.08,400.82 L7.61,401.34 L8.47,401.86 L9.62,402.37 L11.03,402.89 L12.64,403.41 L14.39,403.93 L16.20,404.45 L18.01,404.97 L19.76,405.49 L21.37,406.01 L22.78,406.52 L23.93,407.04 L24.79,407.56 L25.32,408.08 L25.50,408.60 L25.50,415.80 L25.32,415.28 L24.79,414.76 L23.93,414.24 L22.78,413.72 L21.37,413.21 L19.76,412.69 L18.01,412.17 L16.20,411.65 L14.39,411.13 L12.64,410.61 L11.03,410.09 L9.62,409.57 L8.47,409.06 L7.61,408.54 L7.08,408.02 L6.90,407.50Z" fill="#e9c84a"/><polyline points="9.62,405.40 11.03,405.92 12.64,406.44 14.39,406.96 16.20,407.47 18.01,407.99" fill="none" stroke="#f1db89" stroke-opacity="0.55" stroke-width="2.16" stroke-linecap="round"/><path d="M6.90,416.90 L7.08,417.42 L7.61,417.94 L8.47,418.46 L9.62,418.97 L11.03,419.49 L12.64,420.01 L14.39,420.53 L16.20,421.05 L18.01,421.57 L19.76,422.09 L21.37,422.61 L22.78,423.12 L23.93,423.64 L24.79,424.16 L25.32,424.68 L25.50,425.20 L25.50,431.00 L25.32,431.00 L24.79,431.00 L23.93,430.84 L22.78,430.32 L21.37,429.81 L19.76,429.29 L18.01,428.77 L16.20,428.25 L14.39,427.73 L12.64,427.21 L11.03,426.69 L9.62,426.17 L8.47,425.66 L7.61,425.14 L7.08,424.62 L6.90,424.10Z" fill="#e9c84a"/><polyline points="9.62,422.00 11.03,422.52 12.64,423.04 14.39,423.56 16.20,424.07 18.01,424.59" fill="none" stroke="#f1db89" stroke-opacity="0.55" stroke-width="2.16" stroke-linecap="round"/><path d="M35.90,285.00 L36.08,285.00 L36.63,285.00 L37.52,285.00 L38.71,285.00 L40.17,285.00 L41.83,285.00 L43.63,285.00 L45.50,285.00 L47.37,285.00 L49.17,285.00 L50.83,285.00 L52.29,285.00 L53.48,285.00 L54.37,285.00 L54.92,285.00 L55.10,285.00 L55.10,288.30 L54.92,287.79 L54.37,287.28 L53.48,286.76 L52.29,286.25 L50.83,285.74 L49.17,285.23 L47.37,285.00 L45.50,285.00 L43.63,285.00 L41.83,285.00 L40.17,285.00 L38.71,285.00 L37.52,285.00 L36.63,285.00 L36.08,285.00 L35.90,285.00Z" fill="#93a8a9"/><path d="M35.90,291.00 L36.08,291.51 L36.63,292.03 L37.52,292.54 L38.71,293.05 L40.17,293.56 L41.83,294.07 L43.63,294.59 L45.50,295.10 L47.37,295.61 L49.17,296.12 L50.83,296.64 L52.29,297.15 L53.48,297.66 L54.37,298.18 L54.92,298.69 L55.10,299.20 L55.10,304.70 L54.92,304.19 L54.37,303.68 L53.48,303.16 L52.29,302.65 L50.83,302.14 L49.17,301.62 L47.37,301.11 L45.50,300.60 L43.63,300.09 L41.83,299.57 L40.17,299.06 L38.71,298.55 L37.52,298.04 L36.63,297.53 L36.08,297.01 L35.90,296.50Z" fill="#93a8a9"/><path d="M35.90,307.40 L36.08,307.91 L36.63,308.43 L37.52,308.94 L38.71,309.45 L40.17,309.96 L41.83,310.48 L43.63,310.99 L45.50,311.50 L47.37,312.01 L49.17,312.53 L50.83,313.04 L52.29,313.55 L53.48,314.06 L54.37,314.57 L54.92,315.09 L55.10,315.60 L55.10,321.10 L54.92,320.59 L54.37,320.07 L53.48,319.56 L52.29,319.05 L50.83,318.54 L49.17,318.03 L47.37,317.51 L45.50,317.00 L43.63,316.49 L41.83,315.98 L40.17,315.46 L38.71,314.95 L37.52,314.44 L36.63,313.93 L36.08,313.41 L35.90,312.90Z" fill="#93a8a9"/><path d="M35.90,323.80 L36.08,324.31 L36.63,324.82 L37.52,325.34 L38.71,325.85 L40.17,326.36 L41.83,326.88 L43.63,327.39 L45.50,327.90 L47.37,328.41 L49.17,328.93 L50.83,329.44 L52.29,329.95 L53.48,330.46 L54.37,330.98 L54.92,331.49 L55.10,332.00 L55.10,337.50 L54.92,336.99 L54.37,336.48 L53.48,335.96 L52.29,335.45 L50.83,334.94 L49.17,334.43 L47.37,333.91 L45.50,333.40 L43.63,332.89 L41.83,332.38 L40.17,331.86 L38.71,331.35 L37.52,330.84 L36.63,330.32 L36.08,329.81 L35.90,329.30Z" fill="#95427b"/><path d="M35.90,340.20 L36.08,340.71 L36.63,341.23 L37.52,341.74 L38.71,342.25 L40.17,342.76 L41.83,343.27 L43.63,343.79 L45.50,344.30 L47.37,344.81 L49.17,345.32 L50.83,345.84 L52.29,346.35 L53.48,346.86 L54.37,347.38 L54.92,347.89 L55.10,348.40 L55.10,353.90 L54.92,353.39 L54.37,352.88 L53.48,352.36 L52.29,351.85 L50.83,351.34 L49.17,350.82 L47.37,350.31 L45.50,349.80 L43.63,349.29 L41.83,348.77 L40.17,348.26 L38.71,347.75 L37.52,347.24 L36.63,346.73 L36.08,346.21 L35.90,345.70Z" fill="#95427b"/><path d="M35.90,356.60 L36.08,357.11 L36.63,357.62 L37.52,358.14 L38.71,358.65 L40.17,359.16 L41.83,359.68 L43.63,360.19 L45.50,360.70 L47.37,361.21 L49.17,361.73 L50.83,362.24 L52.29,362.75 L53.48,363.26 L54.37,363.77 L54.92,364.29 L55.10,364.80 L55.10,370.30 L54.92,369.79 L54.37,369.27 L53.48,368.76 L52.29,368.25 L50.83,367.74 L49.17,367.23 L47.37,366.71 L45.50,366.20 L43.63,365.69 L41.83,365.18 L40.17,364.66 L38.71,364.15 L37.52,363.64 L36.63,363.12 L36.08,362.61 L35.90,362.10Z" fill="#73947c"/><path d="M35.90,373.00 L36.08,373.51 L36.63,374.02 L37.52,374.54 L38.71,375.05 L40.17,375.56 L41.83,376.08 L43.63,376.59 L45.50,377.10 L47.37,377.61 L49.17,378.12 L50.83,378.64 L52.29,379.15 L53.48,379.66 L54.37,380.18 L54.92,380.69 L55.10,381.20 L55.10,386.70 L54.92,386.19 L54.37,385.68 L53.48,385.16 L52.29,384.65 L50.83,384.14 L49.17,383.62 L47.37,383.11 L45.50,382.60 L43.63,382.09 L41.83,381.58 L40.17,381.06 L38.71,380.55 L37.52,380.04 L36.63,379.52 L36.08,379.01 L35.90,378.50Z" fill="#73947c"/><path d="M35.90,389.40 L36.08,389.91 L36.63,390.43 L37.52,390.94 L38.71,391.45 L40.17,391.96 L41.83,392.48 L43.63,392.99 L45.50,393.50 L47.37,394.01 L49.17,394.52 L50.83,395.04 L52.29,395.55 L53.48,396.06 L54.37,396.58 L54.92,397.09 L55.10,397.60 L55.10,403.10 L54.92,402.59 L54.37,402.08 L53.48,401.56 L52.29,401.05 L50.83,400.54 L49.17,400.02 L47.37,399.51 L45.50,399.00 L43.63,398.49 L41.83,397.98 L40.17,397.46 L38.71,396.95 L37.52,396.44 L36.63,395.93 L36.08,395.41 L35.90,394.90Z" fill="#a96d39"/><path d="M35.90,405.80 L36.08,406.31 L36.63,406.82 L37.52,407.34 L38.71,407.85 L40.17,408.36 L41.83,408.88 L43.63,409.39 L45.50,409.90 L47.37,410.41 L49.17,410.92 L50.83,411.44 L52.29,411.95 L53.48,412.46 L54.37,412.97 L54.92,413.49 L55.10,414.00 L55.10,419.50 L54.92,418.99 L54.37,418.47 L53.48,417.96 L52.29,417.45 L50.83,416.94 L49.17,416.42 L47.37,415.91 L45.50,415.40 L43.63,414.89 L41.83,414.38 L40.17,413.86 L38.71,413.35 L37.52,412.84 L36.63,412.32 L36.08,411.81 L35.90,411.30Z" fill="#a96d39"/><path d="M35.90,422.20 L36.08,422.71 L36.63,423.23 L37.52,423.74 L38.71,424.25 L40.17,424.76 L41.83,425.27 L43.63,425.79 L45.50,426.30 L47.37,426.81 L49.17,427.33 L50.83,427.84 L52.29,428.35 L53.48,428.86 L54.37,429.38 L54.92,429.89 L55.10,430.40 L55.10,432.00 L54.92,432.00 L54.37,432.00 L53.48,432.00 L52.29,432.00 L50.83,432.00 L49.17,432.00 L47.37,432.00 L45.50,431.80 L43.63,431.29 L41.83,430.77 L40.17,430.26 L38.71,429.75 L37.52,429.24 L36.63,428.73 L36.08,428.21 L35.90,427.70Z" fill="#373737"/><path d="M55.10,285.00 L54.92,285.00 L54.37,285.00 L53.48,285.00 L52.29,285.00 L50.83,285.36 L49.17,285.88 L47.37,286.39 L45.50,286.90 L43.63,287.41 L41.83,287.93 L40.17,288.44 L38.71,288.95 L37.52,289.46 L36.63,289.98 L36.08,290.49 L35.90,291.00 L35.90,298.20 L36.08,297.69 L36.63,297.18 L37.52,296.66 L38.71,296.15 L40.17,295.64 L41.83,295.12 L43.63,294.61 L45.50,294.10 L47.37,293.59 L49.17,293.07 L50.83,292.56 L52.29,292.05 L53.48,291.54 L54.37,291.02 L54.92,290.51 L55.10,290.00Z" fill="#c4e6e8"/><polyline points="52.29,287.87 50.83,288.39 49.17,288.90 47.37,289.41 45.50,289.92 43.63,290.44" fill="none" stroke="#d9eff0" stroke-opacity="0.55" stroke-width="2.16" stroke-linecap="round"/><path d="M55.10,299.20 L54.92,299.71 L54.37,300.23 L53.48,300.74 L52.29,301.25 L50.83,301.76 L49.17,302.28 L47.37,302.79 L45.50,303.30 L43.63,303.81 L41.83,304.32 L40.17,304.84 L38.71,305.35 L37.52,305.86 L36.63,306.38 L36.08,306.89 L35.90,307.40 L35.90,314.60 L36.08,314.09 L36.63,313.57 L37.52,313.06 L38.71,312.55 L40.17,312.04 L41.83,311.52 L43.63,311.01 L45.50,310.50 L47.37,309.99 L49.17,309.48 L50.83,308.96 L52.29,308.45 L53.48,307.94 L54.37,307.43 L54.92,306.91 L55.10,306.40Z" fill="#c4e6e8"/><polyline points="52.29,304.27 50.83,304.79 49.17,305.30 47.37,305.81 45.50,306.32 43.63,306.84" fill="none" stroke="#d9eff0" stroke-opacity="0.55" stroke-width="2.16" stroke-linecap="round"/><path d="M55.10,315.60 L54.92,316.11 L54.37,316.62 L53.48,317.14 L52.29,317.65 L50.83,318.16 L49.17,318.68 L47.37,319.19 L45.50,319.70 L43.63,320.21 L41.83,320.73 L40.17,321.24 L38.71,321.75 L37.52,322.26 L36.63,322.77 L36.08,323.29 L35.90,323.80 L35.90,331.00 L36.08,330.49 L36.63,329.97 L37.52,329.46 L38.71,328.95 L40.17,328.44 L41.83,327.93 L43.63,327.41 L45.50,326.90 L47.37,326.39 L49.17,325.88 L50.83,325.36 L52.29,324.85 L53.48,324.34 L54.37,323.82 L54.92,323.31 L55.10,322.80Z" fill="#c73d9c"/><polyline points="52.29,320.67 50.83,321.19 49.17,321.70 47.37,322.21 45.50,322.72 43.63,323.24" fill="none" stroke="#db81bf" stroke-opacity="0.55" stroke-width="2.16" stroke-linecap="round"/><path d="M55.10,332.00 L54.92,332.51 L54.37,333.02 L53.48,333.54 L52.29,334.05 L50.83,334.56 L49.17,335.07 L47.37,335.59 L45.50,336.10 L43.63,336.61 L41.83,337.12 L40.17,337.64 L38.71,338.15 L37.52,338.66 L36.63,339.18 L36.08,339.69 L35.90,340.20 L35.90,347.40 L36.08,346.89 L36.63,346.38 L37.52,345.86 L38.71,345.35 L40.17,344.84 L41.83,344.32 L43.63,343.81 L45.50,343.30 L47.37,342.79 L49.17,342.27 L50.83,341.76 L52.29,341.25 L53.48,340.74 L54.37,340.22 L54.92,339.71 L55.10,339.20Z" fill="#c73d9c"/><polyline points="52.29,337.07 50.83,337.59 49.17,338.10 47.37,338.61 45.50,339.12 43.63,339.64" fill="none" stroke="#db81bf" stroke-opacity="0.55" stroke-width="2.16" stroke-linecap="round"/><path d="M55.10,348.40 L54.92,348.91 L54.37,349.43 L53.48,349.94 L52.29,350.45 L50.83,350.96 L49.17,351.48 L47.37,351.99 L45.50,352.50 L43.63,353.01 L41.83,353.52 L40.17,354.04 L38.71,354.55 L37.52,355.06 L36.63,355.57 L36.08,356.09 L35.90,356.60 L35.90,363.80 L36.08,363.29 L36.63,362.77 L37.52,362.26 L38.71,361.75 L40.17,361.24 L41.83,360.72 L43.63,360.21 L45.50,359.70 L47.37,359.19 L49.17,358.68 L50.83,358.16 L52.29,357.65 L53.48,357.14 L54.37,356.62 L54.92,356.11 L55.10,355.60Z" fill="#8fc59d"/><polyline points="52.29,353.47 50.83,353.99 49.17,354.50 47.37,355.01 45.50,355.52 43.63,356.04" fill="none" stroke="#b6d9bf" stroke-opacity="0.55" stroke-width="2.16" stroke-linecap="round"/><path d="M55.10,364.80 L54.92,365.31 L54.37,365.82 L53.48,366.34 L52.29,366.85 L50.83,367.36 L49.17,367.88 L47.37,368.39 L45.50,368.90 L43.63,369.41 L41.83,369.93 L40.17,370.44 L38.71,370.95 L37.52,371.46 L36.63,371.98 L36.08,372.49 L35.90,373.00 L35.90,380.20 L36.08,379.69 L36.63,379.18 L37.52,378.66 L38.71,378.15 L40.17,377.64 L41.83,377.12 L43.63,376.61 L45.50,376.10 L47.37,375.59 L49.17,375.07 L50.83,374.56 L52.29,374.05 L53.48,373.54 L54.37,373.02 L54.92,372.51 L55.10,372.00Z" fill="#8fc59d"/><polyline points="52.29,369.87 50.83,370.39 49.17,370.90 47.37,371.41 45.50,371.92 43.63,372.44" fill="none" stroke="#b6d9bf" stroke-opacity="0.55" stroke-width="2.16" stroke-linecap="round"/><path d="M55.10,381.20 L54.92,381.71 L54.37,382.23 L53.48,382.74 L52.29,383.25 L50.83,383.76 L49.17,384.27 L47.37,384.79 L45.50,385.30 L43.63,385.81 L41.83,386.32 L40.17,386.84 L38.71,387.35 L37.52,387.86 L36.63,388.38 L36.08,388.89 L35.90,389.40 L35.90,396.60 L36.08,396.09 L36.63,395.57 L37.52,395.06 L38.71,394.55 L40.17,394.04 L41.83,393.52 L43.63,393.01 L45.50,392.50 L47.37,391.99 L49.17,391.47 L50.83,390.96 L52.29,390.45 L53.48,389.94 L54.37,389.43 L54.92,388.91 L55.10,388.40Z" fill="#8fc59d"/><polyline points="52.29,386.27 50.83,386.79 49.17,387.30 47.37,387.81 45.50,388.32 43.63,388.84" fill="none" stroke="#b6d9bf" stroke-opacity="0.55" stroke-width="2.16" stroke-linecap="round"/><path d="M55.10,397.60 L54.92,398.11 L54.37,398.62 L53.48,399.14 L52.29,399.65 L50.83,400.16 L49.17,400.68 L47.37,401.19 L45.50,401.70 L43.63,402.21 L41.83,402.73 L40.17,403.24 L38.71,403.75 L37.52,404.26 L36.63,404.77 L36.08,405.29 L35.90,405.80 L35.90,413.00 L36.08,412.49 L36.63,411.97 L37.52,411.46 L38.71,410.95 L40.17,410.44 L41.83,409.93 L43.63,409.41 L45.50,408.90 L47.37,408.39 L49.17,407.88 L50.83,407.36 L52.29,406.85 L53.48,406.34 L54.37,405.82 L54.92,405.31 L55.10,404.80Z" fill="#e8852e"/><polyline points="52.29,402.67 50.83,403.19 49.17,403.70 47.37,404.21 45.50,404.72 43.63,405.24" fill="none" stroke="#f0b077" stroke-opacity="0.55" stroke-width="2.16" stroke-linecap="round"/><path d="M55.10,414.00 L54.92,414.51 L54.37,415.02 L53.48,415.54 L52.29,416.05 L50.83,416.56 L49.17,417.08 L47.37,417.59 L45.50,418.10 L43.63,418.61 L41.83,419.12 L40.17,419.64 L38.71,420.15 L37.52,420.66 L36.63,421.18 L36.08,421.69 L35.90,422.20 L35.90,429.40 L36.08,428.89 L36.63,428.38 L37.52,427.86 L38.71,427.35 L40.17,426.84 L41.83,426.32 L43.63,425.81 L45.50,425.30 L47.37,424.79 L49.17,424.28 L50.83,423.76 L52.29,423.25 L53.48,422.74 L54.37,422.22 L54.92,421.71 L55.10,421.20Z" fill="#e8852e"/><polyline points="52.29,419.07 50.83,419.59 49.17,420.10 47.37,420.61 45.50,421.12 43.63,421.64" fill="none" stroke="#f0b077" stroke-opacity="0.55" stroke-width="2.16" stroke-linecap="round"/><path d="M55.10,430.40 L54.92,430.91 L54.37,431.42 L53.48,431.94 L52.29,432.00 L50.83,432.00 L49.17,432.00 L47.37,432.00 L45.50,432.00 L43.63,432.00 L41.83,432.00 L40.17,432.00 L38.71,432.00 L37.52,432.00 L36.63,432.00 L36.08,432.00 L35.90,432.00 L35.90,432.00 L36.08,432.00 L36.63,432.00 L37.52,432.00 L38.71,432.00 L40.17,432.00 L41.83,432.00 L43.63,432.00 L45.50,432.00 L47.37,432.00 L49.17,432.00 L50.83,432.00 L52.29,432.00 L53.48,432.00 L54.37,432.00 L54.92,432.00 L55.10,432.00Z" fill="#2a2a2a"/><polyline points="52.29,432.00 50.83,432.00 49.17,432.00 47.37,432.00 45.50,432.00 43.63,432.00" fill="none" stroke="#757575" stroke-opacity="0.55" stroke-width="2.16" stroke-linecap="round"/><path d="M8,287 L15,280" stroke="#222" stroke-width="1.1" fill="none"/><path d="M47.5,286.8 L51,286" stroke="#222" stroke-width="1.1" fill="none"/><path d="M8.5,435.8 L17,429.8" stroke="#222" stroke-width="1.1" fill="none"/><path d="M46,431.5 L54.5,437.5" stroke="#222" stroke-width="1.1" fill="none"/><path d="M105.00,309.60 L105.00,309.43 L105.55,308.91 L106.13,308.07 L106.70,306.93 L107.28,305.56 L107.85,303.98 L108.43,302.28 L109.00,300.50 L109.58,298.72 L110.15,297.02 L110.73,295.44 L111.30,294.07 L111.88,292.93 L112.45,292.09 L113.03,291.57 L113.60,291.40 L121.20,291.40 L120.63,291.57 L120.05,292.09 L119.48,292.93 L118.90,294.07 L118.33,295.44 L117.75,297.02 L117.18,298.72 L116.60,300.50 L116.03,302.28 L115.45,303.98 L114.88,305.56 L114.30,306.93 L113.73,308.07 L113.15,308.91 L112.58,309.43 L112.00,309.60Z" fill="#406c96"/><path d="M122.80,309.60 L123.38,309.43 L123.95,308.91 L124.53,308.07 L125.10,306.93 L125.68,305.56 L126.25,303.98 L126.83,302.28 L127.40,300.50 L127.98,298.72 L128.55,297.02 L129.12,295.44 L129.70,294.07 L130.28,292.93 L130.85,292.09 L131.43,291.57 L132.00,291.40 L139.60,291.40 L139.03,291.57 L138.45,292.09 L137.88,292.93 L137.30,294.07 L136.72,295.44 L136.15,297.02 L135.58,298.72 L135.00,300.50 L134.43,302.28 L133.85,303.98 L133.28,305.56 L132.70,306.93 L132.12,308.07 L131.55,308.91 L130.98,309.43 L130.40,309.60Z" fill="#406c96"/><path d="M141.20,309.60 L141.78,309.43 L142.35,308.91 L142.93,308.07 L143.50,306.93 L144.08,305.56 L144.65,303.98 L145.23,302.28 L145.80,300.50 L146.38,298.72 L146.95,297.02 L147.53,295.44 L148.10,294.07 L148.68,292.93 L149.25,292.09 L149.83,291.57 L150.40,291.40 L158.00,291.40 L157.43,291.57 L156.85,292.09 L156.28,292.93 L155.70,294.07 L155.12,295.44 L154.55,297.02 L153.98,298.72 L153.40,300.50 L152.83,302.28 L152.25,303.98 L151.68,305.56 L151.10,306.93 L150.53,308.07 L149.95,308.91 L149.38,309.43 L148.80,309.60Z" fill="#714079"/><path d="M159.60,309.60 L160.18,309.43 L160.75,308.91 L161.33,308.07 L161.90,306.93 L162.48,305.56 L163.05,303.98 L163.62,302.28 L164.20,300.50 L164.78,298.72 L165.35,297.02 L165.93,295.44 L166.50,294.07 L167.08,292.93 L167.65,292.09 L168.23,291.57 L168.80,291.40 L176.40,291.40 L175.83,291.57 L175.25,292.09 L174.68,292.93 L174.10,294.07 L173.53,295.44 L172.95,297.02 L172.38,298.72 L171.80,300.50 L171.22,302.28 L170.65,303.98 L170.08,305.56 L169.50,306.93 L168.93,308.07 L168.35,308.91 L167.78,309.43 L167.20,309.60Z" fill="#714079"/><path d="M178.00,309.60 L178.58,309.43 L179.15,308.91 L179.73,308.07 L180.30,306.93 L180.88,305.56 L181.45,303.98 L182.03,302.28 L182.60,300.50 L183.18,298.72 L183.75,297.02 L184.33,295.44 L184.90,294.07 L185.48,292.93 L186.05,292.09 L186.62,291.57 L187.20,291.40 L194.80,291.40 L194.22,291.57 L193.65,292.09 L193.08,292.93 L192.50,294.07 L191.93,295.44 L191.35,297.02 L190.78,298.72 L190.20,300.50 L189.62,302.28 L189.05,303.98 L188.47,305.56 L187.90,306.93 L187.33,308.07 L186.75,308.91 L186.18,309.43 L185.60,309.60Z" fill="#2e7272"/><path d="M196.40,309.60 L196.98,309.43 L197.55,308.91 L198.12,308.07 L198.70,306.93 L199.27,305.56 L199.85,303.98 L200.43,302.28 L201.00,300.50 L201.57,298.72 L202.15,297.02 L202.72,295.44 L203.30,294.07 L203.88,292.93 L204.45,292.09 L205.02,291.57 L205.60,291.40 L213.20,291.40 L212.62,291.57 L212.05,292.09 L211.47,292.93 L210.90,294.07 L210.32,295.44 L209.75,297.02 L209.17,298.72 L208.60,300.50 L208.03,302.28 L207.45,303.98 L206.87,305.56 L206.30,306.93 L205.72,308.07 L205.15,308.91 L204.58,309.43 L204.00,309.60Z" fill="#2e7272"/><path d="M214.80,309.60 L215.38,309.43 L215.95,308.91 L216.53,308.07 L217.10,306.93 L217.68,305.56 L218.25,303.98 L218.83,302.28 L219.40,300.50 L219.98,298.72 L220.55,297.02 L221.12,295.44 L221.70,294.07 L222.28,292.93 L222.85,292.09 L223.43,291.57 L224.00,291.40 L231.60,291.40 L231.03,291.57 L230.45,292.09 L229.88,292.93 L229.30,294.07 L228.72,295.44 L228.15,297.02 L227.58,298.72 L227.00,300.50 L226.43,302.28 L225.85,303.98 L225.28,305.56 L224.70,306.93 L224.12,308.07 L223.55,308.91 L222.97,309.43 L222.40,309.60Z" fill="#a9964a"/><path d="M233.20,309.60 L233.78,309.43 L234.35,308.91 L234.92,308.07 L235.50,306.93 L236.07,305.56 L236.65,303.98 L237.22,302.28 L237.80,300.50 L238.38,298.72 L238.95,297.02 L239.52,295.44 L240.10,294.07 L240.67,292.93 L241.25,292.09 L241.82,291.57 L242.40,291.40 L245.50,291.40 L245.50,291.57 L245.50,292.09 L245.50,292.93 L245.50,294.07 L245.50,295.44 L245.50,297.02 L245.50,298.72 L245.40,300.50 L244.82,302.28 L244.25,303.98 L243.67,305.56 L243.10,306.93 L242.52,308.07 L241.95,308.91 L241.38,309.43 L240.80,309.60Z" fill="#a9964a"/><path d="M105.00,291.40 L105.00,291.57 L105.00,292.09 L105.00,292.93 L105.00,294.07 L105.00,295.44 L105.00,297.02 L105.00,298.72 L105.00,300.50 L105.00,302.28 L105.00,303.98 L105.00,305.56 L105.00,306.93 L105.00,308.07 L105.00,308.91 L105.00,309.43 L105.00,309.60 L112.00,309.60 L111.43,309.43 L110.85,308.91 L110.28,308.07 L109.70,306.93 L109.13,305.56 L108.55,303.98 L107.98,302.28 L107.40,300.50 L106.83,298.72 L106.25,297.02 L105.68,295.44 L105.10,294.07 L105.00,292.93 L105.00,292.09 L105.00,291.57 L105.00,291.40Z" fill="#3a82c8"/><polyline points="105.00,294.07 105.00,295.44 105.00,297.02 105.00,298.72 105.00,300.50 105.00,302.28" fill="none" stroke="#7faedb" stroke-opacity="0.55" stroke-width="2.28" stroke-linecap="round"/><path d="M113.60,291.40 L114.18,291.57 L114.75,292.09 L115.33,292.93 L115.90,294.07 L116.48,295.44 L117.05,297.02 L117.63,298.72 L118.20,300.50 L118.78,302.28 L119.35,303.98 L119.93,305.56 L120.50,306.93 L121.08,308.07 L121.65,308.91 L122.23,309.43 L122.80,309.60 L130.40,309.60 L129.83,309.43 L129.25,308.91 L128.68,308.07 L128.10,306.93 L127.53,305.56 L126.95,303.98 L126.38,302.28 L125.80,300.50 L125.23,298.72 L124.65,297.02 L124.08,295.44 L123.50,294.07 L122.93,292.93 L122.35,292.09 L121.78,291.57 L121.20,291.40Z" fill="#3a82c8"/><polyline points="119.70,294.07 120.28,295.44 120.85,297.02 121.43,298.72 122.00,300.50 122.58,302.28" fill="none" stroke="#7faedb" stroke-opacity="0.55" stroke-width="2.28" stroke-linecap="round"/><path d="M132.00,291.40 L132.58,291.57 L133.15,292.09 L133.73,292.93 L134.30,294.07 L134.88,295.44 L135.45,297.02 L136.03,298.72 L136.60,300.50 L137.18,302.28 L137.75,303.98 L138.33,305.56 L138.90,306.93 L139.48,308.07 L140.05,308.91 L140.63,309.43 L141.20,309.60 L148.80,309.60 L148.23,309.43 L147.65,308.91 L147.08,308.07 L146.50,306.93 L145.93,305.56 L145.35,303.98 L144.78,302.28 L144.20,300.50 L143.62,298.72 L143.05,297.02 L142.47,295.44 L141.90,294.07 L141.33,292.93 L140.75,292.09 L140.18,291.57 L139.60,291.40Z" fill="#3a82c8"/><polyline points="138.10,294.07 138.68,295.44 139.25,297.02 139.83,298.72 140.40,300.50 140.98,302.28" fill="none" stroke="#7faedb" stroke-opacity="0.55" stroke-width="2.28" stroke-linecap="round"/><path d="M150.40,291.40 L150.98,291.57 L151.55,292.09 L152.12,292.93 L152.70,294.07 L153.28,295.44 L153.85,297.02 L154.43,298.72 L155.00,300.50 L155.58,302.28 L156.15,303.98 L156.73,305.56 L157.30,306.93 L157.88,308.07 L158.45,308.91 L159.03,309.43 L159.60,309.60 L167.20,309.60 L166.62,309.43 L166.05,308.91 L165.47,308.07 L164.90,306.93 L164.33,305.56 L163.75,303.98 L163.18,302.28 L162.60,300.50 L162.03,298.72 L161.45,297.02 L160.88,295.44 L160.30,294.07 L159.72,292.93 L159.15,292.09 L158.58,291.57 L158.00,291.40Z" fill="#8b3a99"/><polyline points="156.50,294.07 157.08,295.44 157.65,297.02 158.23,298.72 158.80,300.50 159.38,302.28" fill="none" stroke="#b47fbd" stroke-opacity="0.55" stroke-width="2.28" stroke-linecap="round"/><path d="M168.80,291.40 L169.38,291.57 L169.95,292.09 L170.53,292.93 L171.10,294.07 L171.68,295.44 L172.25,297.02 L172.83,298.72 L173.40,300.50 L173.98,302.28 L174.55,303.98 L175.12,305.56 L175.70,306.93 L176.28,308.07 L176.85,308.91 L177.43,309.43 L178.00,309.60 L185.60,309.60 L185.03,309.43 L184.45,308.91 L183.88,308.07 L183.30,306.93 L182.72,305.56 L182.15,303.98 L181.58,302.28 L181.00,300.50 L180.43,298.72 L179.85,297.02 L179.28,295.44 L178.70,294.07 L178.12,292.93 L177.55,292.09 L176.97,291.57 L176.40,291.40Z" fill="#1b8c8c"/><polyline points="174.90,294.07 175.48,295.44 176.05,297.02 176.63,298.72 177.20,300.50 177.78,302.28" fill="none" stroke="#6bb4b4" stroke-opacity="0.55" stroke-width="2.28" stroke-linecap="round"/><path d="M187.20,291.40 L187.78,291.57 L188.35,292.09 L188.93,292.93 L189.50,294.07 L190.07,295.44 L190.65,297.02 L191.23,298.72 L191.80,300.50 L192.38,302.28 L192.95,303.98 L193.53,305.56 L194.10,306.93 L194.68,308.07 L195.25,308.91 L195.82,309.43 L196.40,309.60 L204.00,309.60 L203.42,309.43 L202.85,308.91 L202.28,308.07 L201.70,306.93 L201.13,305.56 L200.55,303.98 L199.97,302.28 L199.40,300.50 L198.83,298.72 L198.25,297.02 L197.67,295.44 L197.10,294.07 L196.53,292.93 L195.95,292.09 L195.38,291.57 L194.80,291.40Z" fill="#1b8c8c"/><polyline points="193.30,294.07 193.88,295.44 194.45,297.02 195.03,298.72 195.60,300.50 196.18,302.28" fill="none" stroke="#6bb4b4" stroke-opacity="0.55" stroke-width="2.28" stroke-linecap="round"/><path d="M205.60,291.40 L206.18,291.57 L206.75,292.09 L207.32,292.93 L207.90,294.07 L208.48,295.44 L209.05,297.02 L209.62,298.72 L210.20,300.50 L210.78,302.28 L211.35,303.98 L211.93,305.56 L212.50,306.93 L213.07,308.07 L213.65,308.91 L214.22,309.43 L214.80,309.60 L222.40,309.60 L221.82,309.43 L221.25,308.91 L220.67,308.07 L220.10,306.93 L219.53,305.56 L218.95,303.98 L218.38,302.28 L217.80,300.50 L217.22,298.72 L216.65,297.02 L216.08,295.44 L215.50,294.07 L214.92,292.93 L214.35,292.09 L213.78,291.57 L213.20,291.40Z" fill="#e9c84a"/><polyline points="211.70,294.07 212.28,295.44 212.85,297.02 213.43,298.72 214.00,300.50 214.58,302.28" fill="none" stroke="#f1db89" stroke-opacity="0.55" stroke-width="2.28" stroke-linecap="round"/><path d="M224.00,291.40 L224.57,291.57 L225.15,292.09 L225.72,292.93 L226.30,294.07 L226.88,295.44 L227.45,297.02 L228.03,298.72 L228.60,300.50 L229.18,302.28 L229.75,303.98 L230.33,305.56 L230.90,306.93 L231.47,308.07 L232.05,308.91 L232.62,309.43 L233.20,309.60 L240.80,309.60 L240.22,309.43 L239.65,308.91 L239.07,308.07 L238.50,306.93 L237.93,305.56 L237.35,303.98 L236.78,302.28 L236.20,300.50 L235.62,298.72 L235.05,297.02 L234.47,295.44 L233.90,294.07 L233.32,292.93 L232.75,292.09 L232.17,291.57 L231.60,291.40Z" fill="#e9c84a"/><polyline points="230.10,294.07 230.68,295.44 231.25,297.02 231.83,298.72 232.40,300.50 232.98,302.28" fill="none" stroke="#f1db89" stroke-opacity="0.55" stroke-width="2.28" stroke-linecap="round"/><path d="M242.40,291.40 L242.98,291.57 L243.55,292.09 L244.12,292.93 L244.70,294.07 L245.28,295.44 L245.50,297.02 L245.50,298.72 L245.50,300.50 L245.50,302.28 L245.50,303.98 L245.50,305.56 L245.50,306.93 L245.50,308.07 L245.50,308.91 L245.50,309.43 L245.50,309.60 L245.50,309.60 L245.50,309.43 L245.50,308.91 L245.50,308.07 L245.50,306.93 L245.50,305.56 L245.50,303.98 L245.50,302.28 L245.50,300.50 L245.50,298.72 L245.50,297.02 L245.50,295.44 L245.50,294.07 L245.50,292.93 L245.50,292.09 L245.50,291.57 L245.50,291.40Z" fill="#2a2a2a"/><polyline points="245.50,294.07 245.50,295.44 245.50,297.02 245.50,298.72 245.50,300.50 245.50,302.28" fill="none" stroke="#757575" stroke-opacity="0.55" stroke-width="2.28" stroke-linecap="round"/><path d="M244.5,292.7 L254.5,292.9 L253,300.5 L243.5,300.0 Z" fill="#2a2a2a"/><path d="M252.5,299.5 L255.5,310.0" stroke="#222" stroke-width="1.3" fill="none"/><path d="M124.00,331.90 L124.00,331.73 L124.00,331.21 L124.53,330.37 L125.10,329.23 L125.68,327.86 L126.25,326.28 L126.83,324.58 L127.40,322.80 L127.98,321.02 L128.55,319.32 L129.12,317.74 L129.70,316.37 L130.28,315.23 L130.85,314.39 L131.43,313.87 L132.00,313.70 L139.60,313.70 L139.03,313.87 L138.45,314.39 L137.88,315.23 L137.30,316.37 L136.72,317.74 L136.15,319.32 L135.58,321.02 L135.00,322.80 L134.43,324.58 L133.85,326.28 L133.28,327.86 L132.70,329.23 L132.12,330.37 L131.55,331.21 L130.98,331.73 L130.40,331.90Z" fill="#406c96"/><path d="M141.20,331.90 L141.78,331.73 L142.35,331.21 L142.93,330.37 L143.50,329.23 L144.08,327.86 L144.65,326.28 L145.23,324.58 L145.80,322.80 L146.38,321.02 L146.95,319.32 L147.53,317.74 L148.10,316.37 L148.68,315.23 L149.25,314.39 L149.83,313.87 L150.40,313.70 L158.00,313.70 L157.43,313.87 L156.85,314.39 L156.28,315.23 L155.70,316.37 L155.12,317.74 L154.55,319.32 L153.98,321.02 L153.40,322.80 L152.83,324.58 L152.25,326.28 L151.68,327.86 L151.10,329.23 L150.53,330.37 L149.95,331.21 L149.38,331.73 L148.80,331.90Z" fill="#714079"/><path d="M159.60,331.90 L160.18,331.73 L160.75,331.21 L161.33,330.37 L161.90,329.23 L162.48,327.86 L163.05,326.28 L163.62,324.58 L164.20,322.80 L164.78,321.02 L165.35,319.32 L165.93,317.74 L166.50,316.37 L167.08,315.23 L167.65,314.39 L168.23,313.87 L168.80,313.70 L176.40,313.70 L175.83,313.87 L175.25,314.39 L174.68,315.23 L174.10,316.37 L173.53,317.74 L172.95,319.32 L172.38,321.02 L171.80,322.80 L171.22,324.58 L170.65,326.28 L170.08,327.86 L169.50,329.23 L168.93,330.37 L168.35,331.21 L167.78,331.73 L167.20,331.90Z" fill="#714079"/><path d="M178.00,331.90 L178.58,331.73 L179.15,331.21 L179.73,330.37 L180.30,329.23 L180.88,327.86 L181.45,326.28 L182.03,324.58 L182.60,322.80 L183.18,321.02 L183.75,319.32 L184.33,317.74 L184.90,316.37 L185.48,315.23 L186.05,314.39 L186.62,313.87 L187.20,313.70 L194.80,313.70 L194.22,313.87 L193.65,314.39 L193.08,315.23 L192.50,316.37 L191.93,317.74 L191.35,319.32 L190.78,321.02 L190.20,322.80 L189.62,324.58 L189.05,326.28 L188.47,327.86 L187.90,329.23 L187.33,330.37 L186.75,331.21 L186.18,331.73 L185.60,331.90Z" fill="#2e7272"/><path d="M196.40,331.90 L196.98,331.73 L197.55,331.21 L198.12,330.37 L198.70,329.23 L199.27,327.86 L199.85,326.28 L200.43,324.58 L201.00,322.80 L201.57,321.02 L202.15,319.32 L202.72,317.74 L203.30,316.37 L203.88,315.23 L204.45,314.39 L205.02,313.87 L205.60,313.70 L213.20,313.70 L212.62,313.87 L212.05,314.39 L211.47,315.23 L210.90,316.37 L210.32,317.74 L209.75,319.32 L209.17,321.02 L208.60,322.80 L208.03,324.58 L207.45,326.28 L206.87,327.86 L206.30,329.23 L205.72,330.37 L205.15,331.21 L204.58,331.73 L204.00,331.90Z" fill="#2e7272"/><path d="M214.80,331.90 L215.38,331.73 L215.95,331.21 L216.53,330.37 L217.10,329.23 L217.68,327.86 L218.25,326.28 L218.83,324.58 L219.40,322.80 L219.98,321.02 L220.55,319.32 L221.12,317.74 L221.70,316.37 L222.28,315.23 L222.85,314.39 L223.43,313.87 L224.00,313.70 L231.60,313.70 L231.03,313.87 L230.45,314.39 L229.88,315.23 L229.30,316.37 L228.72,317.74 L228.15,319.32 L227.58,321.02 L227.00,322.80 L226.43,324.58 L225.85,326.28 L225.28,327.86 L224.70,329.23 L224.12,330.37 L223.55,331.21 L222.97,331.73 L222.40,331.90Z" fill="#a9964a"/><path d="M233.20,331.90 L233.78,331.73 L234.35,331.21 L234.92,330.37 L235.50,329.23 L236.07,327.86 L236.65,326.28 L237.22,324.58 L237.80,322.80 L238.38,321.02 L238.95,319.32 L239.52,317.74 L240.10,316.37 L240.67,315.23 L241.25,314.39 L241.82,313.87 L242.40,313.70 L245.50,313.70 L245.50,313.87 L245.50,314.39 L245.50,315.23 L245.50,316.37 L245.50,317.74 L245.50,319.32 L245.50,321.02 L245.40,322.80 L244.82,324.58 L244.25,326.28 L243.67,327.86 L243.10,329.23 L242.52,330.37 L241.95,331.21 L241.38,331.73 L240.80,331.90Z" fill="#a9964a"/><path d="M124.00,313.70 L124.00,313.87 L124.00,314.39 L124.00,315.23 L124.00,316.37 L124.00,317.74 L124.00,319.32 L124.00,321.02 L124.00,322.80 L124.00,324.58 L124.00,326.28 L124.00,327.86 L124.00,329.23 L124.00,330.37 L124.00,331.21 L124.00,331.73 L124.00,331.90 L130.40,331.90 L129.83,331.73 L129.25,331.21 L128.68,330.37 L128.10,329.23 L127.53,327.86 L126.95,326.28 L126.38,324.58 L125.80,322.80 L125.23,321.02 L124.65,319.32 L124.08,317.74 L124.00,316.37 L124.00,315.23 L124.00,314.39 L124.00,313.87 L124.00,313.70Z" fill="#3a82c8"/><polyline points="124.00,316.37 124.00,317.74 124.00,319.32 124.00,321.02 124.00,322.80 124.00,324.58" fill="none" stroke="#7faedb" stroke-opacity="0.55" stroke-width="2.28" stroke-linecap="round"/><path d="M132.00,313.70 L132.58,313.87 L133.15,314.39 L133.73,315.23 L134.30,316.37 L134.88,317.74 L135.45,319.32 L136.03,321.02 L136.60,322.80 L137.18,324.58 L137.75,326.28 L138.33,327.86 L138.90,329.23 L139.48,330.37 L140.05,331.21 L140.63,331.73 L141.20,331.90 L148.80,331.90 L148.23,331.73 L147.65,331.21 L147.08,330.37 L146.50,329.23 L145.93,327.86 L145.35,326.28 L144.78,324.58 L144.20,322.80 L143.62,321.02 L143.05,319.32 L142.47,317.74 L141.90,316.37 L141.33,315.23 L140.75,314.39 L140.18,313.87 L139.60,313.70Z" fill="#8b3a99"/><polyline points="138.10,316.37 138.68,317.74 139.25,319.32 139.83,321.02 140.40,322.80 140.98,324.58" fill="none" stroke="#b47fbd" stroke-opacity="0.55" stroke-width="2.28" stroke-linecap="round"/><path d="M150.40,313.70 L150.98,313.87 L151.55,314.39 L152.12,315.23 L152.70,316.37 L153.28,317.74 L153.85,319.32 L154.43,321.02 L155.00,322.80 L155.58,324.58 L156.15,326.28 L156.73,327.86 L157.30,329.23 L157.88,330.37 L158.45,331.21 L159.03,331.73 L159.60,331.90 L167.20,331.90 L166.62,331.73 L166.05,331.21 L165.47,330.37 L164.90,329.23 L164.33,327.86 L163.75,326.28 L163.18,324.58 L162.60,322.80 L162.03,321.02 L161.45,319.32 L160.88,317.74 L160.30,316.37 L159.72,315.23 L159.15,314.39 L158.58,313.87 L158.00,313.70Z" fill="#8b3a99"/><polyline points="156.50,316.37 157.08,317.74 157.65,319.32 158.23,321.02 158.80,322.80 159.38,324.58" fill="none" stroke="#b47fbd" stroke-opacity="0.55" stroke-width="2.28" stroke-linecap="round"/><path d="M168.80,313.70 L169.38,313.87 L169.95,314.39 L170.53,315.23 L171.10,316.37 L171.68,317.74 L172.25,319.32 L172.83,321.02 L173.40,322.80 L173.98,324.58 L174.55,326.28 L175.12,327.86 L175.70,329.23 L176.28,330.37 L176.85,331.21 L177.43,331.73 L178.00,331.90 L185.60,331.90 L185.03,331.73 L184.45,331.21 L183.88,330.37 L183.30,329.23 L182.72,327.86 L182.15,326.28 L181.58,324.58 L181.00,322.80 L180.43,321.02 L179.85,319.32 L179.28,317.74 L178.70,316.37 L178.12,315.23 L177.55,314.39 L176.97,313.87 L176.40,313.70Z" fill="#1b8c8c"/><polyline points="174.90,316.37 175.48,317.74 176.05,319.32 176.63,321.02 177.20,322.80 177.78,324.58" fill="none" stroke="#6bb4b4" stroke-opacity="0.55" stroke-width="2.28" stroke-linecap="round"/><path d="M187.20,313.70 L187.78,313.87 L188.35,314.39 L188.93,315.23 L189.50,316.37 L190.07,317.74 L190.65,319.32 L191.23,321.02 L191.80,322.80 L192.38,324.58 L192.95,326.28 L193.53,327.86 L194.10,329.23 L194.68,330.37 L195.25,331.21 L195.82,331.73 L196.40,331.90 L204.00,331.90 L203.42,331.73 L202.85,331.21 L202.28,330.37 L201.70,329.23 L201.13,327.86 L200.55,326.28 L199.97,324.58 L199.40,322.80 L198.83,321.02 L198.25,319.32 L197.67,317.74 L197.10,316.37 L196.53,315.23 L195.95,314.39 L195.38,313.87 L194.80,313.70Z" fill="#1b8c8c"/><polyline points="193.30,316.37 193.88,317.74 194.45,319.32 195.03,321.02 195.60,322.80 196.18,324.58" fill="none" stroke="#6bb4b4" stroke-opacity="0.55" stroke-width="2.28" stroke-linecap="round"/><path d="M205.60,313.70 L206.18,313.87 L206.75,314.39 L207.32,315.23 L207.90,316.37 L208.48,317.74 L209.05,319.32 L209.62,321.02 L210.20,322.80 L210.78,324.58 L211.35,326.28 L211.93,327.86 L212.50,329.23 L213.07,330.37 L213.65,331.21 L214.22,331.73 L214.80,331.90 L222.40,331.90 L221.82,331.73 L221.25,331.21 L220.67,330.37 L220.10,329.23 L219.53,327.86 L218.95,326.28 L218.38,324.58 L217.80,322.80 L217.22,321.02 L216.65,319.32 L216.08,317.74 L215.50,316.37 L214.92,315.23 L214.35,314.39 L213.78,313.87 L213.20,313.70Z" fill="#e9c84a"/><polyline points="211.70,316.37 212.28,317.74 212.85,319.32 213.43,321.02 214.00,322.80 214.58,324.58" fill="none" stroke="#f1db89" stroke-opacity="0.55" stroke-width="2.28" stroke-linecap="round"/><path d="M224.00,313.70 L224.57,313.87 L225.15,314.39 L225.72,315.23 L226.30,316.37 L226.88,317.74 L227.45,319.32 L228.03,321.02 L228.60,322.80 L229.18,324.58 L229.75,326.28 L230.33,327.86 L230.90,329.23 L231.47,330.37 L232.05,331.21 L232.62,331.73 L233.20,331.90 L240.80,331.90 L240.22,331.73 L239.65,331.21 L239.07,330.37 L238.50,329.23 L237.93,327.86 L237.35,326.28 L236.78,324.58 L236.20,322.80 L235.62,321.02 L235.05,319.32 L234.47,317.74 L233.90,316.37 L233.32,315.23 L232.75,314.39 L232.17,313.87 L231.60,313.70Z" fill="#e9c84a"/><polyline points="230.10,316.37 230.68,317.74 231.25,319.32 231.83,321.02 232.40,322.80 232.98,324.58" fill="none" stroke="#f1db89" stroke-opacity="0.55" stroke-width="2.28" stroke-linecap="round"/><path d="M242.40,313.70 L242.98,313.87 L243.55,314.39 L244.12,315.23 L244.70,316.37 L245.28,317.74 L245.50,319.32 L245.50,321.02 L245.50,322.80 L245.50,324.58 L245.50,326.28 L245.50,327.86 L245.50,329.23 L245.50,330.37 L245.50,331.21 L245.50,331.73 L245.50,331.90 L245.50,331.90 L245.50,331.73 L245.50,331.21 L245.50,330.37 L245.50,329.23 L245.50,327.86 L245.50,326.28 L245.50,324.58 L245.50,322.80 L245.50,321.02 L245.50,319.32 L245.50,317.74 L245.50,316.37 L245.50,315.23 L245.50,314.39 L245.50,313.87 L245.50,313.70Z" fill="#2a2a2a"/><polyline points="245.50,316.37 245.50,317.74 245.50,319.32 245.50,321.02 245.50,322.80 245.50,324.58" fill="none" stroke="#757575" stroke-opacity="0.55" stroke-width="2.28" stroke-linecap="round"/><path d="M244.5,315.0 L254.5,315.2 L253,322.8 L243.5,322.3 Z" fill="#2a2a2a"/><path d="M252.5,321.8 L255.5,332.3" stroke="#222" stroke-width="1.3" fill="none"/><path d="M141.20,356.10 L141.78,355.93 L142.35,355.41 L142.93,354.57 L143.50,353.43 L144.08,352.06 L144.65,350.48 L145.23,348.78 L145.80,347.00 L146.38,345.22 L146.95,343.52 L147.53,341.94 L148.10,340.57 L148.68,339.43 L149.25,338.59 L149.83,338.07 L150.40,337.90 L158.00,337.90 L157.43,338.07 L156.85,338.59 L156.28,339.43 L155.70,340.57 L155.12,341.94 L154.55,343.52 L153.98,345.22 L153.40,347.00 L152.83,348.78 L152.25,350.48 L151.68,352.06 L151.10,353.43 L150.53,354.57 L149.95,355.41 L149.38,355.93 L148.80,356.10Z" fill="#714079"/><path d="M159.60,356.10 L160.18,355.93 L160.75,355.41 L161.33,354.57 L161.90,353.43 L162.48,352.06 L163.05,350.48 L163.62,348.78 L164.20,347.00 L164.78,345.22 L165.35,343.52 L165.93,341.94 L166.50,340.57 L167.08,339.43 L167.65,338.59 L168.23,338.07 L168.80,337.90 L176.40,337.90 L175.83,338.07 L175.25,338.59 L174.68,339.43 L174.10,340.57 L173.53,341.94 L172.95,343.52 L172.38,345.22 L171.80,347.00 L171.22,348.78 L170.65,350.48 L170.08,352.06 L169.50,353.43 L168.93,354.57 L168.35,355.41 L167.78,355.93 L167.20,356.10Z" fill="#714079"/><path d="M178.00,356.10 L178.58,355.93 L179.15,355.41 L179.73,354.57 L180.30,353.43 L180.88,352.06 L181.45,350.48 L182.03,348.78 L182.60,347.00 L183.18,345.22 L183.75,343.52 L184.33,341.94 L184.90,340.57 L185.48,339.43 L186.05,338.59 L186.62,338.07 L187.20,337.90 L194.80,337.90 L194.22,338.07 L193.65,338.59 L193.08,339.43 L192.50,340.57 L191.93,341.94 L191.35,343.52 L190.78,345.22 L190.20,347.00 L189.62,348.78 L189.05,350.48 L188.47,352.06 L187.90,353.43 L187.33,354.57 L186.75,355.41 L186.18,355.93 L185.60,356.10Z" fill="#2e7272"/><path d="M196.40,356.10 L196.98,355.93 L197.55,355.41 L198.12,354.57 L198.70,353.43 L199.27,352.06 L199.85,350.48 L200.43,348.78 L201.00,347.00 L201.57,345.22 L202.15,343.52 L202.72,341.94 L203.30,340.57 L203.88,339.43 L204.45,338.59 L205.02,338.07 L205.60,337.90 L213.20,337.90 L212.62,338.07 L212.05,338.59 L211.47,339.43 L210.90,340.57 L210.32,341.94 L209.75,343.52 L209.17,345.22 L208.60,347.00 L208.03,348.78 L207.45,350.48 L206.87,352.06 L206.30,353.43 L205.72,354.57 L205.15,355.41 L204.58,355.93 L204.00,356.10Z" fill="#2e7272"/><path d="M214.80,356.10 L215.38,355.93 L215.95,355.41 L216.53,354.57 L217.10,353.43 L217.68,352.06 L218.25,350.48 L218.83,348.78 L219.40,347.00 L219.98,345.22 L220.55,343.52 L221.12,341.94 L221.70,340.57 L222.28,339.43 L222.85,338.59 L223.43,338.07 L224.00,337.90 L231.60,337.90 L231.03,338.07 L230.45,338.59 L229.88,339.43 L229.30,340.57 L228.72,341.94 L228.15,343.52 L227.58,345.22 L227.00,347.00 L226.43,348.78 L225.85,350.48 L225.28,352.06 L224.70,353.43 L224.12,354.57 L223.55,355.41 L222.97,355.93 L222.40,356.10Z" fill="#a9964a"/><path d="M233.20,356.10 L233.78,355.93 L234.35,355.41 L234.92,354.57 L235.50,353.43 L236.07,352.06 L236.65,350.48 L237.22,348.78 L237.80,347.00 L238.38,345.22 L238.95,343.52 L239.52,341.94 L240.10,340.57 L240.67,339.43 L241.25,338.59 L241.82,338.07 L242.40,337.90 L245.50,337.90 L245.50,338.07 L245.50,338.59 L245.50,339.43 L245.50,340.57 L245.50,341.94 L245.50,343.52 L245.50,345.22 L245.40,347.00 L244.82,348.78 L244.25,350.48 L243.67,352.06 L243.10,353.43 L242.52,354.57 L241.95,355.41 L241.38,355.93 L240.80,356.10Z" fill="#a9964a"/><path d="M141.00,337.90 L141.00,338.07 L141.00,338.59 L141.00,339.43 L141.00,340.57 L141.00,341.94 L141.00,343.52 L141.00,345.22 L141.00,347.00 L141.00,348.78 L141.00,350.48 L141.00,352.06 L141.00,353.43 L141.00,354.57 L141.00,355.41 L141.00,355.93 L141.20,356.10 L148.80,356.10 L148.23,355.93 L147.65,355.41 L147.08,354.57 L146.50,353.43 L145.93,352.06 L145.35,350.48 L144.78,348.78 L144.20,347.00 L143.62,345.22 L143.05,343.52 L142.47,341.94 L141.90,340.57 L141.33,339.43 L141.00,338.59 L141.00,338.07 L141.00,337.90Z" fill="#8b3a99"/><polyline points="141.00,340.57 141.00,341.94 141.00,343.52 141.00,345.22 141.00,347.00 141.00,348.78" fill="none" stroke="#b47fbd" stroke-opacity="0.55" stroke-width="2.28" stroke-linecap="round"/><path d="M150.40,337.90 L150.98,338.07 L151.55,338.59 L152.12,339.43 L152.70,340.57 L153.28,341.94 L153.85,343.52 L154.43,345.22 L155.00,347.00 L155.58,348.78 L156.15,350.48 L156.73,352.06 L157.30,353.43 L157.88,354.57 L158.45,355.41 L159.03,355.93 L159.60,356.10 L167.20,356.10 L166.62,355.93 L166.05,355.41 L165.47,354.57 L164.90,353.43 L164.33,352.06 L163.75,350.48 L163.18,348.78 L162.60,347.00 L162.03,345.22 L161.45,343.52 L160.88,341.94 L160.30,340.57 L159.72,339.43 L159.15,338.59 L158.58,338.07 L158.00,337.90Z" fill="#8b3a99"/><polyline points="156.50,340.57 157.08,341.94 157.65,343.52 158.23,345.22 158.80,347.00 159.38,348.78" fill="none" stroke="#b47fbd" stroke-opacity="0.55" stroke-width="2.28" stroke-linecap="round"/><path d="M168.80,337.90 L169.38,338.07 L169.95,338.59 L170.53,339.43 L171.10,340.57 L171.68,341.94 L172.25,343.52 L172.83,345.22 L173.40,347.00 L173.98,348.78 L174.55,350.48 L175.12,352.06 L175.70,353.43 L176.28,354.57 L176.85,355.41 L177.43,355.93 L178.00,356.10 L185.60,356.10 L185.03,355.93 L184.45,355.41 L183.88,354.57 L183.30,353.43 L182.72,352.06 L182.15,350.48 L181.58,348.78 L181.00,347.00 L180.43,345.22 L179.85,343.52 L179.28,341.94 L178.70,340.57 L178.12,339.43 L177.55,338.59 L176.97,338.07 L176.40,337.90Z" fill="#1b8c8c"/><polyline points="174.90,340.57 175.48,341.94 176.05,343.52 176.63,345.22 177.20,347.00 177.78,348.78" fill="none" stroke="#6bb4b4" stroke-opacity="0.55" stroke-width="2.28" stroke-linecap="round"/><path d="M187.20,337.90 L187.78,338.07 L188.35,338.59 L188.93,339.43 L189.50,340.57 L190.07,341.94 L190.65,343.52 L191.23,345.22 L191.80,347.00 L192.38,348.78 L192.95,350.48 L193.53,352.06 L194.10,353.43 L194.68,354.57 L195.25,355.41 L195.82,355.93 L196.40,356.10 L204.00,356.10 L203.42,355.93 L202.85,355.41 L202.28,354.57 L201.70,353.43 L201.13,352.06 L200.55,350.48 L199.97,348.78 L199.40,347.00 L198.83,345.22 L198.25,343.52 L197.67,341.94 L197.10,340.57 L196.53,339.43 L195.95,338.59 L195.38,338.07 L194.80,337.90Z" fill="#1b8c8c"/><polyline points="193.30,340.57 193.88,341.94 194.45,343.52 195.03,345.22 195.60,347.00 196.18,348.78" fill="none" stroke="#6bb4b4" stroke-opacity="0.55" stroke-width="2.28" stroke-linecap="round"/><path d="M205.60,337.90 L206.18,338.07 L206.75,338.59 L207.32,339.43 L207.90,340.57 L208.48,341.94 L209.05,343.52 L209.62,345.22 L210.20,347.00 L210.78,348.78 L211.35,350.48 L211.93,352.06 L212.50,353.43 L213.07,354.57 L213.65,355.41 L214.22,355.93 L214.80,356.10 L222.40,356.10 L221.82,355.93 L221.25,355.41 L220.67,354.57 L220.10,353.43 L219.53,352.06 L218.95,350.48 L218.38,348.78 L217.80,347.00 L217.22,345.22 L216.65,343.52 L216.08,341.94 L215.50,340.57 L214.92,339.43 L214.35,338.59 L213.78,338.07 L213.20,337.90Z" fill="#e9c84a"/><polyline points="211.70,340.57 212.28,341.94 212.85,343.52 213.43,345.22 214.00,347.00 214.58,348.78" fill="none" stroke="#f1db89" stroke-opacity="0.55" stroke-width="2.28" stroke-linecap="round"/><path d="M224.00,337.90 L224.57,338.07 L225.15,338.59 L225.72,339.43 L226.30,340.57 L226.88,341.94 L227.45,343.52 L228.03,345.22 L228.60,347.00 L229.18,348.78 L229.75,350.48 L230.33,352.06 L230.90,353.43 L231.47,354.57 L232.05,355.41 L232.62,355.93 L233.20,356.10 L240.80,356.10 L240.22,355.93 L239.65,355.41 L239.07,354.57 L238.50,353.43 L237.93,352.06 L237.35,350.48 L236.78,348.78 L236.20,347.00 L235.62,345.22 L235.05,343.52 L234.47,341.94 L233.90,340.57 L233.32,339.43 L232.75,338.59 L232.17,338.07 L231.60,337.90Z" fill="#e9c84a"/><polyline points="230.10,340.57 230.68,341.94 231.25,343.52 231.83,345.22 232.40,347.00 232.98,348.78" fill="none" stroke="#f1db89" stroke-opacity="0.55" stroke-width="2.28" stroke-linecap="round"/><path d="M242.40,337.90 L242.98,338.07 L243.55,338.59 L244.12,339.43 L244.70,340.57 L245.28,341.94 L245.50,343.52 L245.50,345.22 L245.50,347.00 L245.50,348.78 L245.50,350.48 L245.50,352.06 L245.50,353.43 L245.50,354.57 L245.50,355.41 L245.50,355.93 L245.50,356.10 L245.50,356.10 L245.50,355.93 L245.50,355.41 L245.50,354.57 L245.50,353.43 L245.50,352.06 L245.50,350.48 L245.50,348.78 L245.50,347.00 L245.50,345.22 L245.50,343.52 L245.50,341.94 L245.50,340.57 L245.50,339.43 L245.50,338.59 L245.50,338.07 L245.50,337.90Z" fill="#2a2a2a"/><polyline points="245.50,340.57 245.50,341.94 245.50,343.52 245.50,345.22 245.50,347.00 245.50,348.78" fill="none" stroke="#757575" stroke-opacity="0.55" stroke-width="2.28" stroke-linecap="round"/><path d="M244.5,339.2 L254.5,339.4 L253,347.0 L243.5,346.5 Z" fill="#2a2a2a"/><path d="M252.5,346.0 L255.5,356.5" stroke="#222" stroke-width="1.3" fill="none"/><path d="M102.40,378.50 L102.40,378.32 L102.40,377.80 L102.40,376.95 L102.40,375.81 L102.40,374.41 L102.40,372.82 L102.40,371.09 L102.40,369.30 L102.40,367.51 L102.40,365.78 L102.40,364.19 L102.42,362.79 L102.99,361.65 L103.56,360.80 L104.13,360.28 L104.70,360.10 L112.30,360.10 L111.73,360.28 L111.16,360.80 L110.59,361.65 L110.02,362.79 L109.46,364.19 L108.89,365.78 L108.32,367.51 L107.75,369.30 L107.18,371.09 L106.61,372.82 L106.04,374.41 L105.47,375.81 L104.91,376.95 L104.34,377.80 L103.77,378.32 L103.20,378.50Z" fill="#93a8a9"/><path d="M113.80,378.50 L114.37,378.32 L114.94,377.80 L115.51,376.95 L116.08,375.81 L116.64,374.41 L117.21,372.82 L117.78,371.09 L118.35,369.30 L118.92,367.51 L119.49,365.78 L120.06,364.19 L120.62,362.79 L121.19,361.65 L121.76,360.80 L122.33,360.28 L122.90,360.10 L130.50,360.10 L129.93,360.28 L129.36,360.80 L128.79,361.65 L128.22,362.79 L127.66,364.19 L127.09,365.78 L126.52,367.51 L125.95,369.30 L125.38,371.09 L124.81,372.82 L124.24,374.41 L123.67,375.81 L123.11,376.95 L122.54,377.80 L121.97,378.32 L121.40,378.50Z" fill="#93a8a9"/><path d="M132.00,378.50 L132.57,378.32 L133.14,377.80 L133.71,376.95 L134.28,375.81 L134.84,374.41 L135.41,372.82 L135.98,371.09 L136.55,369.30 L137.12,367.51 L137.69,365.78 L138.26,364.19 L138.82,362.79 L139.39,361.65 L139.96,360.80 L140.53,360.28 L141.10,360.10 L148.70,360.10 L148.13,360.28 L147.56,360.80 L146.99,361.65 L146.42,362.79 L145.86,364.19 L145.29,365.78 L144.72,367.51 L144.15,369.30 L143.58,371.09 L143.01,372.82 L142.44,374.41 L141.88,375.81 L141.31,376.95 L140.74,377.80 L140.17,378.32 L139.60,378.50Z" fill="#95427b"/><path d="M150.20,378.50 L150.77,378.32 L151.34,377.80 L151.91,376.95 L152.48,375.81 L153.04,374.41 L153.61,372.82 L154.18,371.09 L154.75,369.30 L155.32,367.51 L155.89,365.78 L156.46,364.19 L157.02,362.79 L157.59,361.65 L158.16,360.80 L158.73,360.28 L159.30,360.10 L166.90,360.10 L166.33,360.28 L165.76,360.80 L165.19,361.65 L164.62,362.79 L164.06,364.19 L163.49,365.78 L162.92,367.51 L162.35,369.30 L161.78,371.09 L161.21,372.82 L160.64,374.41 L160.08,375.81 L159.51,376.95 L158.94,377.80 L158.37,378.32 L157.80,378.50Z" fill="#95427b"/><path d="M168.40,378.50 L168.97,378.32 L169.54,377.80 L170.11,376.95 L170.68,375.81 L171.24,374.41 L171.81,372.82 L172.38,371.09 L172.95,369.30 L173.52,367.51 L174.09,365.78 L174.66,364.19 L175.22,362.79 L175.79,361.65 L176.36,360.80 L176.93,360.28 L177.50,360.10 L185.10,360.10 L184.53,360.28 L183.96,360.80 L183.39,361.65 L182.82,362.79 L182.26,364.19 L181.69,365.78 L181.12,367.51 L180.55,369.30 L179.98,371.09 L179.41,372.82 L178.84,374.41 L178.28,375.81 L177.71,376.95 L177.14,377.80 L176.57,378.32 L176.00,378.50Z" fill="#73947c"/><path d="M186.60,378.50 L187.17,378.32 L187.74,377.80 L188.31,376.95 L188.88,375.81 L189.44,374.41 L190.01,372.82 L190.58,371.09 L191.15,369.30 L191.72,367.51 L192.29,365.78 L192.86,364.19 L193.42,362.79 L193.99,361.65 L194.56,360.80 L195.13,360.28 L195.70,360.10 L203.30,360.10 L202.73,360.28 L202.16,360.80 L201.59,361.65 L201.02,362.79 L200.46,364.19 L199.89,365.78 L199.32,367.51 L198.75,369.30 L198.18,371.09 L197.61,372.82 L197.04,374.41 L196.47,375.81 L195.91,376.95 L195.34,377.80 L194.77,378.32 L194.20,378.50Z" fill="#73947c"/><path d="M204.80,378.50 L205.37,378.32 L205.94,377.80 L206.51,376.95 L207.07,375.81 L207.64,374.41 L208.21,372.82 L208.78,371.09 L209.35,369.30 L209.92,367.51 L210.49,365.78 L211.06,364.19 L211.62,362.79 L212.19,361.65 L212.76,360.80 L213.33,360.28 L213.90,360.10 L221.50,360.10 L220.93,360.28 L220.36,360.80 L219.79,361.65 L219.22,362.79 L218.66,364.19 L218.09,365.78 L217.52,367.51 L216.95,369.30 L216.38,371.09 L215.81,372.82 L215.24,374.41 L214.67,375.81 L214.11,376.95 L213.54,377.80 L212.97,378.32 L212.40,378.50Z" fill="#a96d39"/><path d="M223.00,378.50 L223.57,378.32 L224.14,377.80 L224.71,376.95 L225.27,375.81 L225.84,374.41 L226.41,372.82 L226.98,371.09 L227.55,369.30 L228.12,367.51 L228.69,365.78 L229.26,364.19 L229.82,362.79 L230.39,361.65 L230.96,360.80 L231.53,360.28 L232.10,360.10 L239.70,360.10 L239.13,360.28 L238.56,360.80 L237.99,361.65 L237.42,362.79 L236.86,364.19 L236.29,365.78 L235.72,367.51 L235.15,369.30 L234.58,371.09 L234.01,372.82 L233.44,374.41 L232.87,375.81 L232.31,376.95 L231.74,377.80 L231.17,378.32 L230.60,378.50Z" fill="#a96d39"/><path d="M241.20,378.50 L241.77,378.32 L242.34,377.80 L242.91,376.95 L243.47,375.81 L244.04,374.41 L244.61,372.82 L245.18,371.09 L245.75,369.30 L246.32,367.51 L246.50,365.78 L246.50,364.19 L246.50,362.79 L246.50,361.65 L246.50,360.80 L246.50,360.28 L246.50,360.10 L246.50,360.10 L246.50,360.28 L246.50,360.80 L246.50,361.65 L246.50,362.79 L246.50,364.19 L246.50,365.78 L246.50,367.51 L246.50,369.30 L246.50,371.09 L246.50,372.82 L246.50,374.41 L246.50,375.81 L246.50,376.95 L246.50,377.80 L246.50,378.32 L246.50,378.50Z" fill="#515151"/><path d="M102.40,360.10 L102.40,360.28 L102.40,360.80 L102.40,361.65 L102.40,362.79 L102.40,364.19 L102.40,365.78 L102.40,367.51 L102.40,369.30 L102.40,371.09 L102.40,372.82 L102.40,374.41 L102.40,375.81 L102.40,376.95 L102.40,377.80 L102.40,378.32 L102.40,378.50 L103.20,378.50 L102.63,378.32 L102.40,377.80 L102.40,376.95 L102.40,375.81 L102.40,374.41 L102.40,372.82 L102.40,371.09 L102.40,369.30 L102.40,367.51 L102.40,365.78 L102.40,364.19 L102.40,362.79 L102.40,361.65 L102.40,360.80 L102.40,360.28 L102.40,360.10Z" fill="#c4e6e8"/><polyline points="102.40,362.79 102.40,364.19 102.40,365.78 102.40,367.51 102.40,369.30 102.40,371.09" fill="none" stroke="#d9eff0" stroke-opacity="0.55" stroke-width="2.28" stroke-linecap="round"/><path d="M104.70,360.10 L105.27,360.28 L105.84,360.80 L106.41,361.65 L106.97,362.79 L107.54,364.19 L108.11,365.78 L108.68,367.51 L109.25,369.30 L109.82,371.09 L110.39,372.82 L110.96,374.41 L111.52,375.81 L112.09,376.95 L112.66,377.80 L113.23,378.32 L113.80,378.50 L121.40,378.50 L120.83,378.32 L120.26,377.80 L119.69,376.95 L119.12,375.81 L118.56,374.41 L117.99,372.82 L117.42,371.09 L116.85,369.30 L116.28,367.51 L115.71,365.78 L115.14,364.19 L114.57,362.79 L114.01,361.65 L113.44,360.80 L112.87,360.28 L112.30,360.10Z" fill="#c4e6e8"/><polyline points="110.77,362.79 111.34,364.19 111.91,365.78 112.48,367.51 113.05,369.30 113.62,371.09" fill="none" stroke="#d9eff0" stroke-opacity="0.55" stroke-width="2.28" stroke-linecap="round"/><path d="M122.90,360.10 L123.47,360.28 L124.04,360.80 L124.61,361.65 L125.18,362.79 L125.74,364.19 L126.31,365.78 L126.88,367.51 L127.45,369.30 L128.02,371.09 L128.59,372.82 L129.16,374.41 L129.72,375.81 L130.29,376.95 L130.86,377.80 L131.43,378.32 L132.00,378.50 L139.60,378.50 L139.03,378.32 L138.46,377.80 L137.89,376.95 L137.32,375.81 L136.76,374.41 L136.19,372.82 L135.62,371.09 L135.05,369.30 L134.48,367.51 L133.91,365.78 L133.34,364.19 L132.78,362.79 L132.21,361.65 L131.64,360.80 L131.07,360.28 L130.50,360.10Z" fill="#c4e6e8"/><polyline points="128.98,362.79 129.54,364.19 130.11,365.78 130.68,367.51 131.25,369.30 131.82,371.09" fill="none" stroke="#d9eff0" stroke-opacity="0.55" stroke-width="2.28" stroke-linecap="round"/><path d="M141.10,360.10 L141.67,360.28 L142.24,360.80 L142.81,361.65 L143.38,362.79 L143.94,364.19 L144.51,365.78 L145.08,367.51 L145.65,369.30 L146.22,371.09 L146.79,372.82 L147.36,374.41 L147.92,375.81 L148.49,376.95 L149.06,377.80 L149.63,378.32 L150.20,378.50 L157.80,378.50 L157.23,378.32 L156.66,377.80 L156.09,376.95 L155.52,375.81 L154.96,374.41 L154.39,372.82 L153.82,371.09 L153.25,369.30 L152.68,367.51 L152.11,365.78 L151.54,364.19 L150.97,362.79 L150.41,361.65 L149.84,360.80 L149.27,360.28 L148.70,360.10Z" fill="#c73d9c"/><polyline points="147.18,362.79 147.74,364.19 148.31,365.78 148.88,367.51 149.45,369.30 150.02,371.09" fill="none" stroke="#db81bf" stroke-opacity="0.55" stroke-width="2.28" stroke-linecap="round"/><path d="M159.30,360.10 L159.87,360.28 L160.44,360.80 L161.01,361.65 L161.57,362.79 L162.14,364.19 L162.71,365.78 L163.28,367.51 L163.85,369.30 L164.42,371.09 L164.99,372.82 L165.56,374.41 L166.12,375.81 L166.69,376.95 L167.26,377.80 L167.83,378.32 L168.40,378.50 L176.00,378.50 L175.43,378.32 L174.86,377.80 L174.29,376.95 L173.72,375.81 L173.16,374.41 L172.59,372.82 L172.02,371.09 L171.45,369.30 L170.88,367.51 L170.31,365.78 L169.74,364.19 L169.17,362.79 L168.61,361.65 L168.04,360.80 L167.47,360.28 L166.90,360.10Z" fill="#c73d9c"/><polyline points="165.38,362.79 165.94,364.19 166.51,365.78 167.08,367.51 167.65,369.30 168.22,371.09" fill="none" stroke="#db81bf" stroke-opacity="0.55" stroke-width="2.28" stroke-linecap="round"/><path d="M177.50,360.10 L178.07,360.28 L178.64,360.80 L179.21,361.65 L179.77,362.79 L180.34,364.19 L180.91,365.78 L181.48,367.51 L182.05,369.30 L182.62,371.09 L183.19,372.82 L183.76,374.41 L184.32,375.81 L184.89,376.95 L185.46,377.80 L186.03,378.32 L186.60,378.50 L194.20,378.50 L193.63,378.32 L193.06,377.80 L192.49,376.95 L191.92,375.81 L191.36,374.41 L190.79,372.82 L190.22,371.09 L189.65,369.30 L189.08,367.51 L188.51,365.78 L187.94,364.19 L187.37,362.79 L186.81,361.65 L186.24,360.80 L185.67,360.28 L185.10,360.10Z" fill="#8fc59d"/><polyline points="183.57,362.79 184.14,364.19 184.71,365.78 185.28,367.51 185.85,369.30 186.42,371.09" fill="none" stroke="#b6d9bf" stroke-opacity="0.55" stroke-width="2.28" stroke-linecap="round"/><path d="M195.70,360.10 L196.27,360.28 L196.84,360.80 L197.41,361.65 L197.97,362.79 L198.54,364.19 L199.11,365.78 L199.68,367.51 L200.25,369.30 L200.82,371.09 L201.39,372.82 L201.96,374.41 L202.52,375.81 L203.09,376.95 L203.66,377.80 L204.23,378.32 L204.80,378.50 L212.40,378.50 L211.83,378.32 L211.26,377.80 L210.69,376.95 L210.12,375.81 L209.56,374.41 L208.99,372.82 L208.42,371.09 L207.85,369.30 L207.28,367.51 L206.71,365.78 L206.14,364.19 L205.57,362.79 L205.01,361.65 L204.44,360.80 L203.87,360.28 L203.30,360.10Z" fill="#8fc59d"/><polyline points="201.77,362.79 202.34,364.19 202.91,365.78 203.48,367.51 204.05,369.30 204.62,371.09" fill="none" stroke="#b6d9bf" stroke-opacity="0.55" stroke-width="2.28" stroke-linecap="round"/><path d="M213.90,360.10 L214.47,360.28 L215.04,360.80 L215.61,361.65 L216.17,362.79 L216.74,364.19 L217.31,365.78 L217.88,367.51 L218.45,369.30 L219.02,371.09 L219.59,372.82 L220.16,374.41 L220.72,375.81 L221.29,376.95 L221.86,377.80 L222.43,378.32 L223.00,378.50 L230.60,378.50 L230.03,378.32 L229.46,377.80 L228.89,376.95 L228.32,375.81 L227.76,374.41 L227.19,372.82 L226.62,371.09 L226.05,369.30 L225.48,367.51 L224.91,365.78 L224.34,364.19 L223.77,362.79 L223.21,361.65 L222.64,360.80 L222.07,360.28 L221.50,360.10Z" fill="#e8852e"/><polyline points="219.97,362.79 220.54,364.19 221.11,365.78 221.68,367.51 222.25,369.30 222.82,371.09" fill="none" stroke="#f0b077" stroke-opacity="0.55" stroke-width="2.28" stroke-linecap="round"/><path d="M232.10,360.10 L232.67,360.28 L233.24,360.80 L233.81,361.65 L234.38,362.79 L234.94,364.19 L235.51,365.78 L236.08,367.51 L236.65,369.30 L237.22,371.09 L237.79,372.82 L238.36,374.41 L238.92,375.81 L239.49,376.95 L240.06,377.80 L240.63,378.32 L241.20,378.50 L246.50,378.50 L246.50,378.32 L246.50,377.80 L246.50,376.95 L246.50,375.81 L245.96,374.41 L245.39,372.82 L244.82,371.09 L244.25,369.30 L243.68,367.51 L243.11,365.78 L242.54,364.19 L241.97,362.79 L241.41,361.65 L240.84,360.80 L240.27,360.28 L239.70,360.10Z" fill="#e8852e"/><polyline points="238.18,362.79 238.74,364.19 239.31,365.78 239.88,367.51 240.45,369.30 241.02,371.09" fill="none" stroke="#f0b077" stroke-opacity="0.55" stroke-width="2.28" stroke-linecap="round"/><path d="M244.5,366.3 L250,366.3 L250,371.8 L245,371.8 Z" fill="#555555"/><path d="M247,371.3 L254.5,359.9" stroke="#222" stroke-width="1.3" fill="none"/><path d="M122.30,402.50 L122.30,402.32 L122.30,401.80 L122.30,400.95 L122.30,399.81 L122.30,398.41 L122.30,396.82 L122.30,395.09 L122.30,393.30 L122.30,391.51 L122.30,389.78 L122.30,388.19 L122.30,386.79 L122.30,385.65 L122.30,384.80 L122.33,384.28 L122.90,384.10 L130.50,384.10 L129.93,384.28 L129.36,384.80 L128.79,385.65 L128.22,386.79 L127.66,388.19 L127.09,389.78 L126.52,391.51 L125.95,393.30 L125.38,395.09 L124.81,396.82 L124.24,398.41 L123.67,399.81 L123.11,400.95 L122.54,401.80 L122.30,402.32 L122.30,402.50Z" fill="#93a8a9"/><path d="M132.00,402.50 L132.57,402.32 L133.14,401.80 L133.71,400.95 L134.28,399.81 L134.84,398.41 L135.41,396.82 L135.98,395.09 L136.55,393.30 L137.12,391.51 L137.69,389.78 L138.26,388.19 L138.82,386.79 L139.39,385.65 L139.96,384.80 L140.53,384.28 L141.10,384.10 L148.70,384.10 L148.13,384.28 L147.56,384.80 L146.99,385.65 L146.42,386.79 L145.86,388.19 L145.29,389.78 L144.72,391.51 L144.15,393.30 L143.58,395.09 L143.01,396.82 L142.44,398.41 L141.88,399.81 L141.31,400.95 L140.74,401.80 L140.17,402.32 L139.60,402.50Z" fill="#95427b"/><path d="M150.20,402.50 L150.77,402.32 L151.34,401.80 L151.91,400.95 L152.48,399.81 L153.04,398.41 L153.61,396.82 L154.18,395.09 L154.75,393.30 L155.32,391.51 L155.89,389.78 L156.46,388.19 L157.02,386.79 L157.59,385.65 L158.16,384.80 L158.73,384.28 L159.30,384.10 L166.90,384.10 L166.33,384.28 L165.76,384.80 L165.19,385.65 L164.62,386.79 L164.06,388.19 L163.49,389.78 L162.92,391.51 L162.35,393.30 L161.78,395.09 L161.21,396.82 L160.64,398.41 L160.08,399.81 L159.51,400.95 L158.94,401.80 L158.37,402.32 L157.80,402.50Z" fill="#95427b"/><path d="M168.40,402.50 L168.97,402.32 L169.54,401.80 L170.11,400.95 L170.68,399.81 L171.24,398.41 L171.81,396.82 L172.38,395.09 L172.95,393.30 L173.52,391.51 L174.09,389.78 L174.66,388.19 L175.22,386.79 L175.79,385.65 L176.36,384.80 L176.93,384.28 L177.50,384.10 L185.10,384.10 L184.53,384.28 L183.96,384.80 L183.39,385.65 L182.82,386.79 L182.26,388.19 L181.69,389.78 L181.12,391.51 L180.55,393.30 L179.98,395.09 L179.41,396.82 L178.84,398.41 L178.28,399.81 L177.71,400.95 L177.14,401.80 L176.57,402.32 L176.00,402.50Z" fill="#73947c"/><path d="M186.60,402.50 L187.17,402.32 L187.74,401.80 L188.31,400.95 L188.88,399.81 L189.44,398.41 L190.01,396.82 L190.58,395.09 L191.15,393.30 L191.72,391.51 L192.29,389.78 L192.86,388.19 L193.42,386.79 L193.99,385.65 L194.56,384.80 L195.13,384.28 L195.70,384.10 L203.30,384.10 L202.73,384.28 L202.16,384.80 L201.59,385.65 L201.02,386.79 L200.46,388.19 L199.89,389.78 L199.32,391.51 L198.75,393.30 L198.18,395.09 L197.61,396.82 L197.04,398.41 L196.47,399.81 L195.91,400.95 L195.34,401.80 L194.77,402.32 L194.20,402.50Z" fill="#73947c"/><path d="M204.80,402.50 L205.37,402.32 L205.94,401.80 L206.51,400.95 L207.07,399.81 L207.64,398.41 L208.21,396.82 L208.78,395.09 L209.35,393.30 L209.92,391.51 L210.49,389.78 L211.06,388.19 L211.62,386.79 L212.19,385.65 L212.76,384.80 L213.33,384.28 L213.90,384.10 L221.50,384.10 L220.93,384.28 L220.36,384.80 L219.79,385.65 L219.22,386.79 L218.66,388.19 L218.09,389.78 L217.52,391.51 L216.95,393.30 L216.38,395.09 L215.81,396.82 L215.24,398.41 L214.67,399.81 L214.11,400.95 L213.54,401.80 L212.97,402.32 L212.40,402.50Z" fill="#a96d39"/><path d="M223.00,402.50 L223.57,402.32 L224.14,401.80 L224.71,400.95 L225.27,399.81 L225.84,398.41 L226.41,396.82 L226.98,395.09 L227.55,393.30 L228.12,391.51 L228.69,389.78 L229.26,388.19 L229.82,386.79 L230.39,385.65 L230.96,384.80 L231.53,384.28 L232.10,384.10 L239.70,384.10 L239.13,384.28 L238.56,384.80 L237.99,385.65 L237.42,386.79 L236.86,388.19 L236.29,389.78 L235.72,391.51 L235.15,393.30 L234.58,395.09 L234.01,396.82 L233.44,398.41 L232.87,399.81 L232.31,400.95 L231.74,401.80 L231.17,402.32 L230.60,402.50Z" fill="#a96d39"/><path d="M241.20,402.50 L241.77,402.32 L242.34,401.80 L242.91,400.95 L243.47,399.81 L244.04,398.41 L244.61,396.82 L245.18,395.09 L245.75,393.30 L246.32,391.51 L246.50,389.78 L246.50,388.19 L246.50,386.79 L246.50,385.65 L246.50,384.80 L246.50,384.28 L246.50,384.10 L246.50,384.10 L246.50,384.28 L246.50,384.80 L246.50,385.65 L246.50,386.79 L246.50,388.19 L246.50,389.78 L246.50,391.51 L246.50,393.30 L246.50,395.09 L246.50,396.82 L246.50,398.41 L246.50,399.81 L246.50,400.95 L246.50,401.80 L246.50,402.32 L246.50,402.50Z" fill="#515151"/><path d="M122.90,384.10 L123.47,384.28 L124.04,384.80 L124.61,385.65 L125.18,386.79 L125.74,388.19 L126.31,389.78 L126.88,391.51 L127.45,393.30 L128.02,395.09 L128.59,396.82 L129.16,398.41 L129.72,399.81 L130.29,400.95 L130.86,401.80 L131.43,402.32 L132.00,402.50 L139.60,402.50 L139.03,402.32 L138.46,401.80 L137.89,400.95 L137.32,399.81 L136.76,398.41 L136.19,396.82 L135.62,395.09 L135.05,393.30 L134.48,391.51 L133.91,389.78 L133.34,388.19 L132.78,386.79 L132.21,385.65 L131.64,384.80 L131.07,384.28 L130.50,384.10Z" fill="#c4e6e8"/><polyline points="128.98,386.79 129.54,388.19 130.11,389.78 130.68,391.51 131.25,393.30 131.82,395.09" fill="none" stroke="#d9eff0" stroke-opacity="0.55" stroke-width="2.28" stroke-linecap="round"/><path d="M141.10,384.10 L141.67,384.28 L142.24,384.80 L142.81,385.65 L143.38,386.79 L143.94,388.19 L144.51,389.78 L145.08,391.51 L145.65,393.30 L146.22,395.09 L146.79,396.82 L147.36,398.41 L147.92,399.81 L148.49,400.95 L149.06,401.80 L149.63,402.32 L150.20,402.50 L157.80,402.50 L157.23,402.32 L156.66,401.80 L156.09,400.95 L155.52,399.81 L154.96,398.41 L154.39,396.82 L153.82,395.09 L153.25,393.30 L152.68,391.51 L152.11,389.78 L151.54,388.19 L150.97,386.79 L150.41,385.65 L149.84,384.80 L149.27,384.28 L148.70,384.10Z" fill="#c73d9c"/><polyline points="147.18,386.79 147.74,388.19 148.31,389.78 148.88,391.51 149.45,393.30 150.02,395.09" fill="none" stroke="#db81bf" stroke-opacity="0.55" stroke-width="2.28" stroke-linecap="round"/><path d="M159.30,384.10 L159.87,384.28 L160.44,384.80 L161.01,385.65 L161.57,386.79 L162.14,388.19 L162.71,389.78 L163.28,391.51 L163.85,393.30 L164.42,395.09 L164.99,396.82 L165.56,398.41 L166.12,399.81 L166.69,400.95 L167.26,401.80 L167.83,402.32 L168.40,402.50 L176.00,402.50 L175.43,402.32 L174.86,401.80 L174.29,400.95 L173.72,399.81 L173.16,398.41 L172.59,396.82 L172.02,395.09 L171.45,393.30 L170.88,391.51 L170.31,389.78 L169.74,388.19 L169.17,386.79 L168.61,385.65 L168.04,384.80 L167.47,384.28 L166.90,384.10Z" fill="#c73d9c"/><polyline points="165.38,386.79 165.94,388.19 166.51,389.78 167.08,391.51 167.65,393.30 168.22,395.09" fill="none" stroke="#db81bf" stroke-opacity="0.55" stroke-width="2.28" stroke-linecap="round"/><path d="M177.50,384.10 L178.07,384.28 L178.64,384.80 L179.21,385.65 L179.77,386.79 L180.34,388.19 L180.91,389.78 L181.48,391.51 L182.05,393.30 L182.62,395.09 L183.19,396.82 L183.76,398.41 L184.32,399.81 L184.89,400.95 L185.46,401.80 L186.03,402.32 L186.60,402.50 L194.20,402.50 L193.63,402.32 L193.06,401.80 L192.49,400.95 L191.92,399.81 L191.36,398.41 L190.79,396.82 L190.22,395.09 L189.65,393.30 L189.08,391.51 L188.51,389.78 L187.94,388.19 L187.37,386.79 L186.81,385.65 L186.24,384.80 L185.67,384.28 L185.10,384.10Z" fill="#8fc59d"/><polyline points="183.57,386.79 184.14,388.19 184.71,389.78 185.28,391.51 185.85,393.30 186.42,395.09" fill="none" stroke="#b6d9bf" stroke-opacity="0.55" stroke-width="2.28" stroke-linecap="round"/><path d="M195.70,384.10 L196.27,384.28 L196.84,384.80 L197.41,385.65 L197.97,386.79 L198.54,388.19 L199.11,389.78 L199.68,391.51 L200.25,393.30 L200.82,395.09 L201.39,396.82 L201.96,398.41 L202.52,399.81 L203.09,400.95 L203.66,401.80 L204.23,402.32 L204.80,402.50 L212.40,402.50 L211.83,402.32 L211.26,401.80 L210.69,400.95 L210.12,399.81 L209.56,398.41 L208.99,396.82 L208.42,395.09 L207.85,393.30 L207.28,391.51 L206.71,389.78 L206.14,388.19 L205.57,386.79 L205.01,385.65 L204.44,384.80 L203.87,384.28 L203.30,384.10Z" fill="#8fc59d"/><polyline points="201.77,386.79 202.34,388.19 202.91,389.78 203.48,391.51 204.05,393.30 204.62,395.09" fill="none" stroke="#b6d9bf" stroke-opacity="0.55" stroke-width="2.28" stroke-linecap="round"/><path d="M213.90,384.10 L214.47,384.28 L215.04,384.80 L215.61,385.65 L216.17,386.79 L216.74,388.19 L217.31,389.78 L217.88,391.51 L218.45,393.30 L219.02,395.09 L219.59,396.82 L220.16,398.41 L220.72,399.81 L221.29,400.95 L221.86,401.80 L222.43,402.32 L223.00,402.50 L230.60,402.50 L230.03,402.32 L229.46,401.80 L228.89,400.95 L228.32,399.81 L227.76,398.41 L227.19,396.82 L226.62,395.09 L226.05,393.30 L225.48,391.51 L224.91,389.78 L224.34,388.19 L223.77,386.79 L223.21,385.65 L222.64,384.80 L222.07,384.28 L221.50,384.10Z" fill="#e8852e"/><polyline points="219.97,386.79 220.54,388.19 221.11,389.78 221.68,391.51 222.25,393.30 222.82,395.09" fill="none" stroke="#f0b077" stroke-opacity="0.55" stroke-width="2.28" stroke-linecap="round"/><path d="M232.10,384.10 L232.67,384.28 L233.24,384.80 L233.81,385.65 L234.38,386.79 L234.94,388.19 L235.51,389.78 L236.08,391.51 L236.65,393.30 L237.22,395.09 L237.79,396.82 L238.36,398.41 L238.92,399.81 L239.49,400.95 L240.06,401.80 L240.63,402.32 L241.20,402.50 L246.50,402.50 L246.50,402.32 L246.50,401.80 L246.50,400.95 L246.50,399.81 L245.96,398.41 L245.39,396.82 L244.82,395.09 L244.25,393.30 L243.68,391.51 L243.11,389.78 L242.54,388.19 L241.97,386.79 L241.41,385.65 L240.84,384.80 L240.27,384.28 L239.70,384.10Z" fill="#e8852e"/><polyline points="238.18,386.79 238.74,388.19 239.31,389.78 239.88,391.51 240.45,393.30 241.02,395.09" fill="none" stroke="#f0b077" stroke-opacity="0.55" stroke-width="2.28" stroke-linecap="round"/><path d="M244.5,390.3 L250,390.3 L250,395.8 L245,395.8 Z" fill="#555555"/><path d="M247,395.3 L254.5,383.9" stroke="#222" stroke-width="1.3" fill="none"/><path d="M138.40,424.70 L138.40,424.52 L138.40,424.00 L138.40,423.15 L138.40,422.01 L138.40,420.61 L138.40,419.02 L138.40,417.29 L138.40,415.50 L138.40,413.71 L138.40,411.98 L138.40,410.39 L138.82,408.99 L139.39,407.85 L139.96,407.00 L140.53,406.48 L141.10,406.30 L148.70,406.30 L148.13,406.48 L147.56,407.00 L146.99,407.85 L146.42,408.99 L145.86,410.39 L145.29,411.98 L144.72,413.71 L144.15,415.50 L143.58,417.29 L143.01,419.02 L142.44,420.61 L141.88,422.01 L141.31,423.15 L140.74,424.00 L140.17,424.52 L139.60,424.70Z" fill="#95427b"/><path d="M150.20,424.70 L150.77,424.52 L151.34,424.00 L151.91,423.15 L152.48,422.01 L153.04,420.61 L153.61,419.02 L154.18,417.29 L154.75,415.50 L155.32,413.71 L155.89,411.98 L156.46,410.39 L157.02,408.99 L157.59,407.85 L158.16,407.00 L158.73,406.48 L159.30,406.30 L166.90,406.30 L166.33,406.48 L165.76,407.00 L165.19,407.85 L164.62,408.99 L164.06,410.39 L163.49,411.98 L162.92,413.71 L162.35,415.50 L161.78,417.29 L161.21,419.02 L160.64,420.61 L160.08,422.01 L159.51,423.15 L158.94,424.00 L158.37,424.52 L157.80,424.70Z" fill="#95427b"/><path d="M168.40,424.70 L168.97,424.52 L169.54,424.00 L170.11,423.15 L170.68,422.01 L171.24,420.61 L171.81,419.02 L172.38,417.29 L172.95,415.50 L173.52,413.71 L174.09,411.98 L174.66,410.39 L175.22,408.99 L175.79,407.85 L176.36,407.00 L176.93,406.48 L177.50,406.30 L185.10,406.30 L184.53,406.48 L183.96,407.00 L183.39,407.85 L182.82,408.99 L182.26,410.39 L181.69,411.98 L181.12,413.71 L180.55,415.50 L179.98,417.29 L179.41,419.02 L178.84,420.61 L178.28,422.01 L177.71,423.15 L177.14,424.00 L176.57,424.52 L176.00,424.70Z" fill="#73947c"/><path d="M186.60,424.70 L187.17,424.52 L187.74,424.00 L188.31,423.15 L188.88,422.01 L189.44,420.61 L190.01,419.02 L190.58,417.29 L191.15,415.50 L191.72,413.71 L192.29,411.98 L192.86,410.39 L193.42,408.99 L193.99,407.85 L194.56,407.00 L195.13,406.48 L195.70,406.30 L203.30,406.30 L202.73,406.48 L202.16,407.00 L201.59,407.85 L201.02,408.99 L200.46,410.39 L199.89,411.98 L199.32,413.71 L198.75,415.50 L198.18,417.29 L197.61,419.02 L197.04,420.61 L196.47,422.01 L195.91,423.15 L195.34,424.00 L194.77,424.52 L194.20,424.70Z" fill="#73947c"/><path d="M204.80,424.70 L205.37,424.52 L205.94,424.00 L206.51,423.15 L207.07,422.01 L207.64,420.61 L208.21,419.02 L208.78,417.29 L209.35,415.50 L209.92,413.71 L210.49,411.98 L211.06,410.39 L211.62,408.99 L212.19,407.85 L212.76,407.00 L213.33,406.48 L213.90,406.30 L221.50,406.30 L220.93,406.48 L220.36,407.00 L219.79,407.85 L219.22,408.99 L218.66,410.39 L218.09,411.98 L217.52,413.71 L216.95,415.50 L216.38,417.29 L215.81,419.02 L215.24,420.61 L214.67,422.01 L214.11,423.15 L213.54,424.00 L212.97,424.52 L212.40,424.70Z" fill="#a96d39"/><path d="M223.00,424.70 L223.57,424.52 L224.14,424.00 L224.71,423.15 L225.27,422.01 L225.84,420.61 L226.41,419.02 L226.98,417.29 L227.55,415.50 L228.12,413.71 L228.69,411.98 L229.26,410.39 L229.82,408.99 L230.39,407.85 L230.96,407.00 L231.53,406.48 L232.10,406.30 L239.70,406.30 L239.13,406.48 L238.56,407.00 L237.99,407.85 L237.42,408.99 L236.86,410.39 L236.29,411.98 L235.72,413.71 L235.15,415.50 L234.58,417.29 L234.01,419.02 L233.44,420.61 L232.87,422.01 L232.31,423.15 L231.74,424.00 L231.17,424.52 L230.60,424.70Z" fill="#a96d39"/><path d="M241.20,424.70 L241.77,424.52 L242.34,424.00 L242.91,423.15 L243.47,422.01 L244.04,420.61 L244.61,419.02 L245.18,417.29 L245.75,415.50 L246.32,413.71 L246.50,411.98 L246.50,410.39 L246.50,408.99 L246.50,407.85 L246.50,407.00 L246.50,406.48 L246.50,406.30 L246.50,406.30 L246.50,406.48 L246.50,407.00 L246.50,407.85 L246.50,408.99 L246.50,410.39 L246.50,411.98 L246.50,413.71 L246.50,415.50 L246.50,417.29 L246.50,419.02 L246.50,420.61 L246.50,422.01 L246.50,423.15 L246.50,424.00 L246.50,424.52 L246.50,424.70Z" fill="#515151"/><path d="M138.40,406.30 L138.40,406.48 L138.40,407.00 L138.40,407.85 L138.40,408.99 L138.40,410.39 L138.40,411.98 L138.40,413.71 L138.40,415.50 L138.40,417.29 L138.40,419.02 L138.40,420.61 L138.40,422.01 L138.40,423.15 L138.40,424.00 L138.40,424.52 L138.40,424.70 L139.60,424.70 L139.03,424.52 L138.46,424.00 L138.40,423.15 L138.40,422.01 L138.40,420.61 L138.40,419.02 L138.40,417.29 L138.40,415.50 L138.40,413.71 L138.40,411.98 L138.40,410.39 L138.40,408.99 L138.40,407.85 L138.40,407.00 L138.40,406.48 L138.40,406.30Z" fill="#c73d9c"/><polyline points="138.40,408.99 138.40,410.39 138.40,411.98 138.40,413.71 138.40,415.50 138.40,417.29" fill="none" stroke="#db81bf" stroke-opacity="0.55" stroke-width="2.28" stroke-linecap="round"/><path d="M141.10,406.30 L141.67,406.48 L142.24,407.00 L142.81,407.85 L143.38,408.99 L143.94,410.39 L144.51,411.98 L145.08,413.71 L145.65,415.50 L146.22,417.29 L146.79,419.02 L147.36,420.61 L147.92,422.01 L148.49,423.15 L149.06,424.00 L149.63,424.52 L150.20,424.70 L157.80,424.70 L157.23,424.52 L156.66,424.00 L156.09,423.15 L155.52,422.01 L154.96,420.61 L154.39,419.02 L153.82,417.29 L153.25,415.50 L152.68,413.71 L152.11,411.98 L151.54,410.39 L150.97,408.99 L150.41,407.85 L149.84,407.00 L149.27,406.48 L148.70,406.30Z" fill="#c73d9c"/><polyline points="147.18,408.99 147.74,410.39 148.31,411.98 148.88,413.71 149.45,415.50 150.02,417.29" fill="none" stroke="#db81bf" stroke-opacity="0.55" stroke-width="2.28" stroke-linecap="round"/><path d="M159.30,406.30 L159.87,406.48 L160.44,407.00 L161.01,407.85 L161.57,408.99 L162.14,410.39 L162.71,411.98 L163.28,413.71 L163.85,415.50 L164.42,417.29 L164.99,419.02 L165.56,420.61 L166.12,422.01 L166.69,423.15 L167.26,424.00 L167.83,424.52 L168.40,424.70 L176.00,424.70 L175.43,424.52 L174.86,424.00 L174.29,423.15 L173.72,422.01 L173.16,420.61 L172.59,419.02 L172.02,417.29 L171.45,415.50 L170.88,413.71 L170.31,411.98 L169.74,410.39 L169.17,408.99 L168.61,407.85 L168.04,407.00 L167.47,406.48 L166.90,406.30Z" fill="#c73d9c"/><polyline points="165.38,408.99 165.94,410.39 166.51,411.98 167.08,413.71 167.65,415.50 168.22,417.29" fill="none" stroke="#db81bf" stroke-opacity="0.55" stroke-width="2.28" stroke-linecap="round"/><path d="M177.50,406.30 L178.07,406.48 L178.64,407.00 L179.21,407.85 L179.77,408.99 L180.34,410.39 L180.91,411.98 L181.48,413.71 L182.05,415.50 L182.62,417.29 L183.19,419.02 L183.76,420.61 L184.32,422.01 L184.89,423.15 L185.46,424.00 L186.03,424.52 L186.60,424.70 L194.20,424.70 L193.63,424.52 L193.06,424.00 L192.49,423.15 L191.92,422.01 L191.36,420.61 L190.79,419.02 L190.22,417.29 L189.65,415.50 L189.08,413.71 L188.51,411.98 L187.94,410.39 L187.37,408.99 L186.81,407.85 L186.24,407.00 L185.67,406.48 L185.10,406.30Z" fill="#8fc59d"/><polyline points="183.57,408.99 184.14,410.39 184.71,411.98 185.28,413.71 185.85,415.50 186.42,417.29" fill="none" stroke="#b6d9bf" stroke-opacity="0.55" stroke-width="2.28" stroke-linecap="round"/><path d="M195.70,406.30 L196.27,406.48 L196.84,407.00 L197.41,407.85 L197.97,408.99 L198.54,410.39 L199.11,411.98 L199.68,413.71 L200.25,415.50 L200.82,417.29 L201.39,419.02 L201.96,420.61 L202.52,422.01 L203.09,423.15 L203.66,424.00 L204.23,424.52 L204.80,424.70 L212.40,424.70 L211.83,424.52 L211.26,424.00 L210.69,423.15 L210.12,422.01 L209.56,420.61 L208.99,419.02 L208.42,417.29 L207.85,415.50 L207.28,413.71 L206.71,411.98 L206.14,410.39 L205.57,408.99 L205.01,407.85 L204.44,407.00 L203.87,406.48 L203.30,406.30Z" fill="#8fc59d"/><polyline points="201.77,408.99 202.34,410.39 202.91,411.98 203.48,413.71 204.05,415.50 204.62,417.29" fill="none" stroke="#b6d9bf" stroke-opacity="0.55" stroke-width="2.28" stroke-linecap="round"/><path d="M213.90,406.30 L214.47,406.48 L215.04,407.00 L215.61,407.85 L216.17,408.99 L216.74,410.39 L217.31,411.98 L217.88,413.71 L218.45,415.50 L219.02,417.29 L219.59,419.02 L220.16,420.61 L220.72,422.01 L221.29,423.15 L221.86,424.00 L222.43,424.52 L223.00,424.70 L230.60,424.70 L230.03,424.52 L229.46,424.00 L228.89,423.15 L228.32,422.01 L227.76,420.61 L227.19,419.02 L226.62,417.29 L226.05,415.50 L225.48,413.71 L224.91,411.98 L224.34,410.39 L223.77,408.99 L223.21,407.85 L222.64,407.00 L222.07,406.48 L221.50,406.30Z" fill="#e8852e"/><polyline points="219.97,408.99 220.54,410.39 221.11,411.98 221.68,413.71 222.25,415.50 222.82,417.29" fill="none" stroke="#f0b077" stroke-opacity="0.55" stroke-width="2.28" stroke-linecap="round"/><path d="M232.10,406.30 L232.67,406.48 L233.24,407.00 L233.81,407.85 L234.38,408.99 L234.94,410.39 L235.51,411.98 L236.08,413.71 L236.65,415.50 L237.22,417.29 L237.79,419.02 L238.36,420.61 L238.92,422.01 L239.49,423.15 L240.06,424.00 L240.63,424.52 L241.20,424.70 L246.50,424.70 L246.50,424.52 L246.50,424.00 L246.50,423.15 L246.50,422.01 L245.96,420.61 L245.39,419.02 L244.82,417.29 L244.25,415.50 L243.68,413.71 L243.11,411.98 L242.54,410.39 L241.97,408.99 L241.41,407.85 L240.84,407.00 L240.27,406.48 L239.70,406.30Z" fill="#e8852e"/><polyline points="238.18,408.99 238.74,410.39 239.31,411.98 239.88,413.71 240.45,415.50 241.02,417.29" fill="none" stroke="#f0b077" stroke-opacity="0.55" stroke-width="2.28" stroke-linecap="round"/><path d="M244.5,412.5 L250,412.5 L250,418.0 L245,418.0 Z" fill="#555555"/><path d="M247,417.5 L254.5,406.1" stroke="#222" stroke-width="1.3" fill="none"/><path d="M100,297 L106,307 L112,309" stroke="#333" stroke-width="1.1" fill="none"/><path d="M118.5,332 L126,331" stroke="#333" stroke-width="1.1" fill="none"/><path d="M132,338 L137,349" stroke="#333" stroke-width="1.1" fill="none"/><text x="81.8" y="305.1" font-size="10.2" fill="#222">A<tspan font-size="7" dy="2.8">N</tspan><tspan font-size="7" dy="-7.8" dx="0.6">4</tspan></text><text x="75.7" y="327.5" font-size="10.2" fill="#222">A<tspan font-size="7" dy="2.8">N</tspan><tspan font-size="7" dy="-7.8" dx="0.6">3.5</tspan></text><text x="81.8" y="352.2" font-size="10.2" fill="#222">A<tspan font-size="7" dy="2.8">N</tspan><tspan font-size="7" dy="-7.8" dx="0.6">3</tspan></text><text x="82.4" y="375.1" font-size="10.2" fill="#222">B<tspan font-size="7" dy="2.8">N</tspan><tspan font-size="7" dy="-7.8" dx="0.6">4</tspan></text><text x="76.4" y="398.3" font-size="10.2" fill="#222">B<tspan font-size="7" dy="2.8">N</tspan><tspan font-size="7" dy="-7.8" dx="0.6">3.5</tspan></text><text x="82.4" y="422.2" font-size="10.2" fill="#222">B<tspan font-size="7" dy="2.8">N</tspan><tspan font-size="7" dy="-7.8" dx="0.6">3</tspan></text><rect x="321.60" y="289.40" width="23.55" height="23.30" fill="#ffffff"/><rect x="345.10" y="289.40" width="23.55" height="23.30" fill="#d8e6e4"/><rect x="368.60" y="289.40" width="23.55" height="23.30" fill="#e6efee"/><rect x="392.10" y="289.40" width="23.55" height="23.30" fill="#000000"/><rect x="415.60" y="289.40" width="23.55" height="23.30" fill="#1e1e2e"/><rect x="439.10" y="289.40" width="23.55" height="23.30" fill="#d5e4e4"/><rect x="321.60" y="312.65" width="23.55" height="23.30" fill="#d8e5e5"/><rect x="345.10" y="312.65" width="23.55" height="23.30" fill="#f2f7f7"/><rect x="368.60" y="312.65" width="23.55" height="23.30" fill="#e0eaea"/><rect x="392.10" y="312.65" width="23.55" height="23.30" fill="#42425e"/><rect x="415.60" y="312.65" width="23.55" height="23.30" fill="#dae7e7"/><rect x="439.10" y="312.65" width="23.55" height="23.30" fill="#f3f8f8"/><rect x="321.60" y="335.90" width="23.55" height="23.30" fill="#e5efee"/><rect x="345.10" y="335.90" width="23.55" height="23.30" fill="#f2f6f6"/><rect x="368.60" y="335.90" width="23.55" height="23.30" fill="#ffffff"/><rect x="392.10" y="335.90" width="23.55" height="23.30" fill="#f1f6f6"/><rect x="415.60" y="335.90" width="23.55" height="23.30" fill="#f2f6f6"/><rect x="439.10" y="335.90" width="23.55" height="23.30" fill="#f3f6f6"/><rect x="321.60" y="359.15" width="23.55" height="23.30" fill="#000000"/><rect x="345.10" y="359.15" width="23.55" height="23.30" fill="#6e788c"/><rect x="368.60" y="359.15" width="23.55" height="23.30" fill="#f0f5f5"/><rect x="392.10" y="359.15" width="23.55" height="23.30" fill="#d5e4e4"/><rect x="415.60" y="359.15" width="23.55" height="23.30" fill="#f4f8f8"/><rect x="439.10" y="359.15" width="23.55" height="23.30" fill="#e5eeee"/><rect x="321.60" y="382.40" width="23.55" height="23.30" fill="#1c1c28"/><rect x="345.10" y="382.40" width="23.55" height="23.30" fill="#a0c4c4"/><rect x="368.60" y="382.40" width="23.55" height="23.30" fill="#e8efee"/><rect x="392.10" y="382.40" width="23.55" height="23.30" fill="#f0f5f5"/><rect x="415.60" y="382.40" width="23.55" height="23.30" fill="#d8e6e6"/><rect x="439.10" y="382.40" width="23.55" height="23.30" fill="#f7f9f9"/><rect x="321.60" y="405.65" width="23.55" height="23.30" fill="#cde0de"/><rect x="345.10" y="405.65" width="23.55" height="23.30" fill="#f2f6f6"/><rect x="368.60" y="405.65" width="23.55" height="23.30" fill="#fdfdfd"/><rect x="392.10" y="405.65" width="23.55" height="23.30" fill="#f2f6f6"/><rect x="415.60" y="405.65" width="23.55" height="23.30" fill="#d6e5e5"/><rect x="439.10" y="405.65" width="23.55" height="23.30" fill="#fdfdfd"/><line x1="321.60" y1="289.4" x2="321.60" y2="428.90" stroke="#333" stroke-width="0.8"/><line x1="321.6" y1="289.40" x2="462.60" y2="289.40" stroke="#333" stroke-width="0.8"/><line x1="345.10" y1="289.4" x2="345.10" y2="428.90" stroke="#333" stroke-width="0.8"/><line x1="321.6" y1="312.65" x2="462.60" y2="312.65" stroke="#333" stroke-width="0.8"/><line x1="368.60" y1="289.4" x2="368.60" y2="428.90" stroke="#333" stroke-width="0.8"/><line x1="321.6" y1="335.90" x2="462.60" y2="335.90" stroke="#333" stroke-width="0.8"/><line x1="392.10" y1="289.4" x2="392.10" y2="428.90" stroke="#333" stroke-width="0.8"/><line x1="321.6" y1="359.15" x2="462.60" y2="359.15" stroke="#333" stroke-width="0.8"/><line x1="415.60" y1="289.4" x2="415.60" y2="428.90" stroke="#333" stroke-width="0.8"/><line x1="321.6" y1="382.40" x2="462.60" y2="382.40" stroke="#333" stroke-width="0.8"/><line x1="439.10" y1="289.4" x2="439.10" y2="428.90" stroke="#333" stroke-width="0.8"/><line x1="321.6" y1="405.65" x2="462.60" y2="405.65" stroke="#333" stroke-width="0.8"/><line x1="462.60" y1="289.4" x2="462.60" y2="428.90" stroke="#333" stroke-width="0.8"/><line x1="321.6" y1="428.90" x2="462.60" y2="428.90" stroke="#333" stroke-width="0.8"/><rect x="321.6" y="289.4" width="141.0" height="139.5" fill="none" stroke="#333" stroke-width="1.0"/><rect x="321.90000000000003" y="289.7" width="22.9" height="22.65" fill="none" stroke="#7a2e2e" stroke-width="0.75"/><text x="333.15" y="307.0" font-size="20.5" font-weight="bold" text-anchor="middle" fill="#c2c2c2">x</text><text x="303.4" y="304.22499999999997" font-size="8.8" fill="#222" text-anchor="start" >A<tspan font-size="5.81" dy="2.64">N</tspan><tspan font-size="5.28" dy="-6.86" dx="0.8">4</tspan></text><text x="299.6" y="327.47499999999997" font-size="8.8" fill="#222" text-anchor="start" >A<tspan font-size="5.81" dy="2.64">N</tspan><tspan font-size="5.28" dy="-6.86" dx="0.8">3.5</tspan></text><text x="303.4" y="350.72499999999997" font-size="8.8" fill="#222" text-anchor="start" >A<tspan font-size="5.81" dy="2.64">N</tspan><tspan font-size="5.28" dy="-6.86" dx="0.8">3</tspan></text><text x="303.4" y="373.97499999999997" font-size="8.8" fill="#222" text-anchor="start" >B<tspan font-size="5.81" dy="2.64">N</tspan><tspan font-size="5.28" dy="-6.86" dx="0.8">4</tspan></text><text x="299.6" y="397.22499999999997" font-size="8.8" fill="#222" text-anchor="start" >B<tspan font-size="5.81" dy="2.64">N</tspan><tspan font-size="5.28" dy="-6.86" dx="0.8">3.5</tspan></text><text x="303.4" y="420.47499999999997" font-size="8.8" fill="#222" text-anchor="start" >B<tspan font-size="5.81" dy="2.64">N</tspan><tspan font-size="5.28" dy="-6.86" dx="0.8">3</tspan></text><text x="0" y="0" font-size="9.6" fill="#222" text-anchor="start" transform="translate(336.95,284.4) rotate(-90)">A<tspan font-size="6.34" dy="2.88">N</tspan><tspan font-size="5.76" dy="-7.49" dx="0.8">4</tspan></text><text x="0" y="0" font-size="9.6" fill="#222" text-anchor="start" transform="translate(360.45,284.4) rotate(-90)">A<tspan font-size="6.34" dy="2.88">N</tspan><tspan font-size="5.76" dy="-7.49" dx="0.8">3.5</tspan></text><text x="0" y="0" font-size="9.6" fill="#222" text-anchor="start" transform="translate(383.95,284.4) rotate(-90)">A<tspan font-size="6.34" dy="2.88">N</tspan><tspan font-size="5.76" dy="-7.49" dx="0.8">3</tspan></text><text x="0" y="0" font-size="9.6" fill="#222" text-anchor="start" transform="translate(407.45,284.4) rotate(-90)">B<tspan font-size="6.34" dy="2.88">N</tspan><tspan font-size="5.76" dy="-7.49" dx="0.8">4</tspan></text><text x="0" y="0" font-size="9.6" fill="#222" text-anchor="start" transform="translate(430.95,284.4) rotate(-90)">B<tspan font-size="6.34" dy="2.88">N</tspan><tspan font-size="5.76" dy="-7.49" dx="0.8">3.5</tspan></text><text x="0" y="0" font-size="9.6" fill="#222" text-anchor="start" transform="translate(454.45,284.4) rotate(-90)">B<tspan font-size="6.34" dy="2.88">N</tspan><tspan font-size="5.76" dy="-7.49" dx="0.8">3</tspan></text><text x="392.50" y="262.60" font-size="10.4" text-anchor="middle" fill="#1a1a1a" font-weight="normal" >AD</text><text x="0" y="0" font-size="9.9" fill="#1a1a1a" text-anchor="middle" textLength="20.4" lengthAdjust="spacingAndGlyphs" transform="translate(292.2,362.9) rotate(-90)">DBD</text><defs><linearGradient id="cbG" x1="0" x2="1" y1="0" y2="0"><stop offset="0.000" stop-color="#fbfcfc"/><stop offset="0.077" stop-color="#eef4f4"/><stop offset="0.160" stop-color="#d9e7e7"/><stop offset="0.254" stop-color="#bcd5d5"/><stop offset="0.348" stop-color="#9db9bb"/><stop offset="0.442" stop-color="#7f94a0"/><stop offset="0.504" stop-color="#6c768b"/><stop offset="0.588" stop-color="#5a5d7c"/><stop offset="0.681" stop-color="#45446a"/><stop offset="0.775" stop-color="#2c2b45"/><stop offset="0.900" stop-color="#141420"/><stop offset="1.000" stop-color="#040404"/></linearGradient></defs><rect x="322.6" y="432.3" width="140.0" height="5.0" fill="url(#cbG)" stroke="#bbb" stroke-width="0.4"/><line x1="328.40" y1="437.3" x2="328.40" y2="440.6" stroke="#555" stroke-width="0.8"/><text x="328.40" y="453.10" font-size="9.0" text-anchor="middle" fill="#222" font-weight="normal" >0</text><line x1="364.70" y1="437.3" x2="364.70" y2="440.6" stroke="#555" stroke-width="0.8"/><text x="364.70" y="453.10" font-size="9.0" text-anchor="middle" fill="#222" font-weight="normal" >2</text><line x1="401.00" y1="437.3" x2="401.00" y2="440.6" stroke="#555" stroke-width="0.8"/><text x="401.00" y="453.10" font-size="9.0" text-anchor="middle" fill="#222" font-weight="normal" >4</text><line x1="437.30" y1="437.3" x2="437.30" y2="440.6" stroke="#555" stroke-width="0.8"/><text x="437.30" y="453.10" font-size="9.0" text-anchor="middle" fill="#222" font-weight="normal" >6</text><text x="392.50" y="468.60" font-size="10.2" text-anchor="middle" fill="#222" font-weight="normal" >LFC</text><path d="M527.4,289.2 L667.2,289.2 L667.2,429.5 L527.4,429.5 Z" fill="none" stroke="#777" stroke-width="1.0"/><line x1="525.60" y1="426.08" x2="527.4" y2="426.08" stroke="#666" stroke-width="0.7"/><line x1="525.60" y1="421.70" x2="527.4" y2="421.70" stroke="#666" stroke-width="0.7"/><line x1="525.60" y1="418.60" x2="527.4" y2="418.60" stroke="#666" stroke-width="0.7"/><line x1="525.60" y1="416.19" x2="527.4" y2="416.19" stroke="#666" stroke-width="0.7"/><line x1="525.60" y1="414.23" x2="527.4" y2="414.23" stroke="#666" stroke-width="0.7"/><line x1="525.60" y1="412.57" x2="527.4" y2="412.57" stroke="#666" stroke-width="0.7"/><line x1="525.60" y1="411.13" x2="527.4" y2="411.13" stroke="#666" stroke-width="0.7"/><line x1="525.60" y1="409.86" x2="527.4" y2="409.86" stroke="#666" stroke-width="0.7"/><line x1="524.20" y1="408.72" x2="527.4" y2="408.72" stroke="#666" stroke-width="0.7"/><line x1="525.60" y1="401.25" x2="527.4" y2="401.25" stroke="#666" stroke-width="0.7"/><line x1="525.60" y1="396.87" x2="527.4" y2="396.87" stroke="#666" stroke-width="0.7"/><line x1="525.60" y1="393.77" x2="527.4" y2="393.77" stroke="#666" stroke-width="0.7"/><line x1="525.60" y1="391.36" x2="527.4" y2="391.36" stroke="#666" stroke-width="0.7"/><line x1="525.60" y1="389.40" x2="527.4" y2="389.40" stroke="#666" stroke-width="0.7"/><line x1="525.60" y1="387.74" x2="527.4" y2="387.74" stroke="#666" stroke-width="0.7"/><line x1="525.60" y1="386.30" x2="527.4" y2="386.30" stroke="#666" stroke-width="0.7"/><line x1="525.60" y1="385.03" x2="527.4" y2="385.03" stroke="#666" stroke-width="0.7"/><line x1="524.20" y1="383.89" x2="527.4" y2="383.89" stroke="#666" stroke-width="0.7"/><line x1="525.60" y1="376.42" x2="527.4" y2="376.42" stroke="#666" stroke-width="0.7"/><line x1="525.60" y1="372.04" x2="527.4" y2="372.04" stroke="#666" stroke-width="0.7"/><line x1="525.60" y1="368.94" x2="527.4" y2="368.94" stroke="#666" stroke-width="0.7"/><line x1="525.60" y1="366.53" x2="527.4" y2="366.53" stroke="#666" stroke-width="0.7"/><line x1="525.60" y1="364.57" x2="527.4" y2="364.57" stroke="#666" stroke-width="0.7"/><line x1="525.60" y1="362.91" x2="527.4" y2="362.91" stroke="#666" stroke-width="0.7"/><line x1="525.60" y1="361.47" x2="527.4" y2="361.47" stroke="#666" stroke-width="0.7"/><line x1="525.60" y1="360.20" x2="527.4" y2="360.20" stroke="#666" stroke-width="0.7"/><line x1="524.20" y1="359.06" x2="527.4" y2="359.06" stroke="#666" stroke-width="0.7"/><line x1="525.60" y1="351.59" x2="527.4" y2="351.59" stroke="#666" stroke-width="0.7"/><line x1="525.60" y1="347.21" x2="527.4" y2="347.21" stroke="#666" stroke-width="0.7"/><line x1="525.60" y1="344.11" x2="527.4" y2="344.11" stroke="#666" stroke-width="0.7"/><line x1="525.60" y1="341.70" x2="527.4" y2="341.70" stroke="#666" stroke-width="0.7"/><line x1="525.60" y1="339.74" x2="527.4" y2="339.74" stroke="#666" stroke-width="0.7"/><line x1="525.60" y1="338.08" x2="527.4" y2="338.08" stroke="#666" stroke-width="0.7"/><line x1="525.60" y1="336.64" x2="527.4" y2="336.64" stroke="#666" stroke-width="0.7"/><line x1="525.60" y1="335.37" x2="527.4" y2="335.37" stroke="#666" stroke-width="0.7"/><line x1="524.20" y1="334.23" x2="527.4" y2="334.23" stroke="#666" stroke-width="0.7"/><line x1="525.60" y1="326.76" x2="527.4" y2="326.76" stroke="#666" stroke-width="0.7"/><line x1="525.60" y1="322.38" x2="527.4" y2="322.38" stroke="#666" stroke-width="0.7"/><line x1="525.60" y1="319.28" x2="527.4" y2="319.28" stroke="#666" stroke-width="0.7"/><line x1="525.60" y1="316.87" x2="527.4" y2="316.87" stroke="#666" stroke-width="0.7"/><line x1="525.60" y1="314.91" x2="527.4" y2="314.91" stroke="#666" stroke-width="0.7"/><line x1="525.60" y1="313.25" x2="527.4" y2="313.25" stroke="#666" stroke-width="0.7"/><line x1="525.60" y1="311.81" x2="527.4" y2="311.81" stroke="#666" stroke-width="0.7"/><line x1="525.60" y1="310.54" x2="527.4" y2="310.54" stroke="#666" stroke-width="0.7"/><line x1="524.20" y1="309.40" x2="527.4" y2="309.40" stroke="#666" stroke-width="0.7"/><line x1="525.60" y1="301.93" x2="527.4" y2="301.93" stroke="#666" stroke-width="0.7"/><line x1="525.60" y1="297.55" x2="527.4" y2="297.55" stroke="#666" stroke-width="0.7"/><line x1="525.60" y1="294.45" x2="527.4" y2="294.45" stroke="#666" stroke-width="0.7"/><line x1="525.60" y1="292.04" x2="527.4" y2="292.04" stroke="#666" stroke-width="0.7"/><line x1="525.60" y1="290.08" x2="527.4" y2="290.08" stroke="#666" stroke-width="0.7"/><text x="520.00" y="312.60" font-size="9.0" text-anchor="end" fill="#222" font-weight="normal" >10<tspan font-size="6.3" dy="-3.5">3</tspan></text><text x="520.00" y="337.43" font-size="9.0" text-anchor="end" fill="#222" font-weight="normal" >10<tspan font-size="6.3" dy="-3.5">2</tspan></text><text x="520.00" y="362.26" font-size="9.0" text-anchor="end" fill="#222" font-weight="normal" >10<tspan font-size="6.3" dy="-3.5">1</tspan></text><text x="520.00" y="387.09" font-size="9.0" text-anchor="end" fill="#222" font-weight="normal" >10<tspan font-size="6.3" dy="-3.5">0</tspan></text><text x="518.80" y="411.92" font-size="9.0" text-anchor="end" fill="#222" font-weight="normal" >10<tspan font-size="6.3" dy="-3.5">&#8722;1</tspan></text><line x1="543.20" y1="429.5" x2="543.20" y2="433.1" stroke="#666" stroke-width="0.8"/><text x="543.20" y="444.30" font-size="9.0" text-anchor="middle" fill="#222" font-weight="normal" >0</text><line x1="614.20" y1="429.5" x2="614.20" y2="433.1" stroke="#666" stroke-width="0.8"/><text x="614.20" y="444.30" font-size="9.0" text-anchor="middle" fill="#222" font-weight="normal" >5</text><line x1="578.70" y1="429.5" x2="578.70" y2="431.7" stroke="#666" stroke-width="0.7"/><line x1="649.70" y1="429.5" x2="649.70" y2="431.7" stroke="#666" stroke-width="0.7"/><text x="597.60" y="461.60" font-size="10.2" text-anchor="middle" fill="#222" font-weight="normal" >P-LFC</text><text x="0" y="0" font-size="10.2" fill="#222" text-anchor="middle" transform="translate(495.6,359.2) rotate(-90)"><tspan font-style="italic">K</tspan><tspan font-size="7" dy="2">d</tspan><tspan dy="-2"> (nM)</tspan></text><circle cx="568.6" cy="279.9" r="3.7" fill="#111"/><text x="576.2" y="283.0" font-size="9.8" fill="#222" letter-spacing="0.3"><tspan font-style="italic">K</tspan><tspan font-size="6.8" dy="2">d</tspan><tspan dy="-2"> &lt; 0.1 nM</tspan></text><text x="663.0" y="304.6" font-size="10.4" fill="#222" text-anchor="end" letter-spacing="0.35"><tspan font-style="italic">r</tspan><tspan font-size="6.8" dy="-3.9">2</tspan><tspan dy="3.9">: 0.91</tspan></text><text x="663.0" y="317.6" font-size="10.4" fill="#222" text-anchor="end" letter-spacing="0.35">|<tspan font-style="italic">ρ</tspan>|: 0.92</text><line x1="535.0" y1="297.7" x2="543.5" y2="297.7" stroke="#9a9a9a" stroke-width="1.8"/><line x1="535.0" y1="295.09999999999997" x2="535.0" y2="300.3" stroke="#9a9a9a" stroke-width="1.1"/><line x1="543.5" y1="295.09999999999997" x2="543.5" y2="300.3" stroke="#9a9a9a" stroke-width="1.1"/><line x1="539.0" y1="296.5" x2="539.0" y2="299" stroke="#9a9a9a" stroke-width="1.8"/><line x1="536.4" y1="296.5" x2="541.6" y2="296.5" stroke="#9a9a9a" stroke-width="1.1"/><line x1="536.4" y1="299" x2="541.6" y2="299" stroke="#9a9a9a" stroke-width="1.1"/><line x1="539.5" y1="314.3" x2="549.5" y2="314.3" stroke="#9a9a9a" stroke-width="1.8"/><line x1="539.5" y1="311.7" x2="539.5" y2="316.90000000000003" stroke="#9a9a9a" stroke-width="1.1"/><line x1="549.5" y1="311.7" x2="549.5" y2="316.90000000000003" stroke="#9a9a9a" stroke-width="1.1"/><line x1="544.1" y1="310.5" x2="544.1" y2="318.5" stroke="#9a9a9a" stroke-width="1.8"/><line x1="541.5" y1="310.5" x2="546.7" y2="310.5" stroke="#9a9a9a" stroke-width="1.1"/><line x1="541.5" y1="318.5" x2="546.7" y2="318.5" stroke="#9a9a9a" stroke-width="1.1"/><line x1="538.0" y1="319.5" x2="547.5" y2="319.5" stroke="#9a9a9a" stroke-width="1.8"/><line x1="538.0" y1="316.9" x2="538.0" y2="322.1" stroke="#9a9a9a" stroke-width="1.1"/><line x1="547.5" y1="316.9" x2="547.5" y2="322.1" stroke="#9a9a9a" stroke-width="1.1"/><line x1="542.6" y1="316" x2="542.6" y2="323" stroke="#9a9a9a" stroke-width="1.8"/><line x1="540.0" y1="316" x2="545.2" y2="316" stroke="#9a9a9a" stroke-width="1.1"/><line x1="540.0" y1="323" x2="545.2" y2="323" stroke="#9a9a9a" stroke-width="1.1"/><line x1="537.5" y1="322.9" x2="548.0" y2="322.9" stroke="#9a9a9a" stroke-width="1.8"/><line x1="537.5" y1="320.29999999999995" x2="537.5" y2="325.5" stroke="#9a9a9a" stroke-width="1.1"/><line x1="548.0" y1="320.29999999999995" x2="548.0" y2="325.5" stroke="#9a9a9a" stroke-width="1.1"/><line x1="542.6" y1="318.5" x2="542.6" y2="327.8" stroke="#9a9a9a" stroke-width="1.8"/><line x1="540.0" y1="318.5" x2="545.2" y2="318.5" stroke="#9a9a9a" stroke-width="1.1"/><line x1="540.0" y1="327.8" x2="545.2" y2="327.8" stroke="#9a9a9a" stroke-width="1.1"/><line x1="549.0" y1="337.6" x2="584.9" y2="337.6" stroke="#9a9a9a" stroke-width="1.8"/><line x1="549.0" y1="335.0" x2="549.0" y2="340.20000000000005" stroke="#9a9a9a" stroke-width="1.1"/><line x1="584.9" y1="335.0" x2="584.9" y2="340.20000000000005" stroke="#9a9a9a" stroke-width="1.1"/><line x1="566.7" y1="333.5" x2="566.7" y2="343.6" stroke="#9a9a9a" stroke-width="1.8"/><line x1="564.1" y1="333.5" x2="569.3000000000001" y2="333.5" stroke="#9a9a9a" stroke-width="1.1"/><line x1="564.1" y1="343.6" x2="569.3000000000001" y2="343.6" stroke="#9a9a9a" stroke-width="1.1"/><line x1="554.0" y1="366.0" x2="585.3" y2="366.0" stroke="#9a9a9a" stroke-width="1.8"/><line x1="554.0" y1="363.4" x2="554.0" y2="368.6" stroke="#9a9a9a" stroke-width="1.1"/><line x1="585.3" y1="363.4" x2="585.3" y2="368.6" stroke="#9a9a9a" stroke-width="1.1"/><line x1="569.7" y1="362.2" x2="569.7" y2="370.8" stroke="#9a9a9a" stroke-width="1.8"/><line x1="567.1" y1="362.2" x2="572.3000000000001" y2="362.2" stroke="#9a9a9a" stroke-width="1.1"/><line x1="567.1" y1="370.8" x2="572.3000000000001" y2="370.8" stroke="#9a9a9a" stroke-width="1.1"/><line x1="595.9" y1="391.6" x2="618.8" y2="391.6" stroke="#9a9a9a" stroke-width="1.8"/><line x1="595.9" y1="389.0" x2="595.9" y2="394.20000000000005" stroke="#9a9a9a" stroke-width="1.1"/><line x1="618.8" y1="389.0" x2="618.8" y2="394.20000000000005" stroke="#9a9a9a" stroke-width="1.1"/><line x1="607.2" y1="384.3" x2="607.2" y2="423.5" stroke="#9a9a9a" stroke-width="1.8"/><line x1="604.6" y1="384.3" x2="609.8000000000001" y2="384.3" stroke="#9a9a9a" stroke-width="1.1"/><line x1="604.6" y1="423.5" x2="609.8000000000001" y2="423.5" stroke="#9a9a9a" stroke-width="1.1"/><line x1="625.0" y1="400.5" x2="647.2" y2="400.5" stroke="#9a9a9a" stroke-width="1.8"/><line x1="625.0" y1="397.9" x2="625.0" y2="403.1" stroke="#9a9a9a" stroke-width="1.1"/><line x1="647.2" y1="397.9" x2="647.2" y2="403.1" stroke="#9a9a9a" stroke-width="1.1"/><line x1="636.4" y1="397.0" x2="636.4" y2="404.6" stroke="#9a9a9a" stroke-width="1.8"/><line x1="633.8" y1="397.0" x2="639.0" y2="397.0" stroke="#9a9a9a" stroke-width="1.1"/><line x1="633.8" y1="404.6" x2="639.0" y2="404.6" stroke="#9a9a9a" stroke-width="1.1"/><line x1="642.3" y1="408.6" x2="661.5" y2="408.6" stroke="#666" stroke-width="1.8"/><line x1="642.3" y1="406.0" x2="642.3" y2="411.20000000000005" stroke="#666" stroke-width="1.1"/><line x1="661.5" y1="406.0" x2="661.5" y2="411.20000000000005" stroke="#666" stroke-width="1.1"/><line x1="651.8" y1="401.0" x2="651.8" y2="429.5" stroke="#666" stroke-width="1.8"/><line x1="649.1999999999999" y1="401.0" x2="654.4" y2="401.0" stroke="#666" stroke-width="1.1"/><circle cx="539.0" cy="297.7" r="3.2" fill="#7b2a7c" fill-opacity="0.95"/><circle cx="544.1" cy="314.3" r="3.2" fill="#7b2a7c" fill-opacity="0.95"/><circle cx="542.6" cy="319.5" r="3.2" fill="#7b2a7c" fill-opacity="0.95"/><circle cx="542.6" cy="322.9" r="3.2" fill="#7b2a7c" fill-opacity="0.95"/><circle cx="566.7" cy="337.6" r="3.2" fill="#7b2a7c" fill-opacity="0.95"/><circle cx="569.7" cy="366.0" r="3.2" fill="#7b2a7c" fill-opacity="0.95"/><circle cx="607.2" cy="391.6" r="3.2" fill="#7b2a7c" fill-opacity="0.95"/><circle cx="636.4" cy="400.5" r="3.2" fill="#7b2a7c" fill-opacity="0.95"/><circle cx="651.8" cy="408.6" r="3.2" fill="#1a0f1a" fill-opacity="0.95"/>
</svg></body></html>
